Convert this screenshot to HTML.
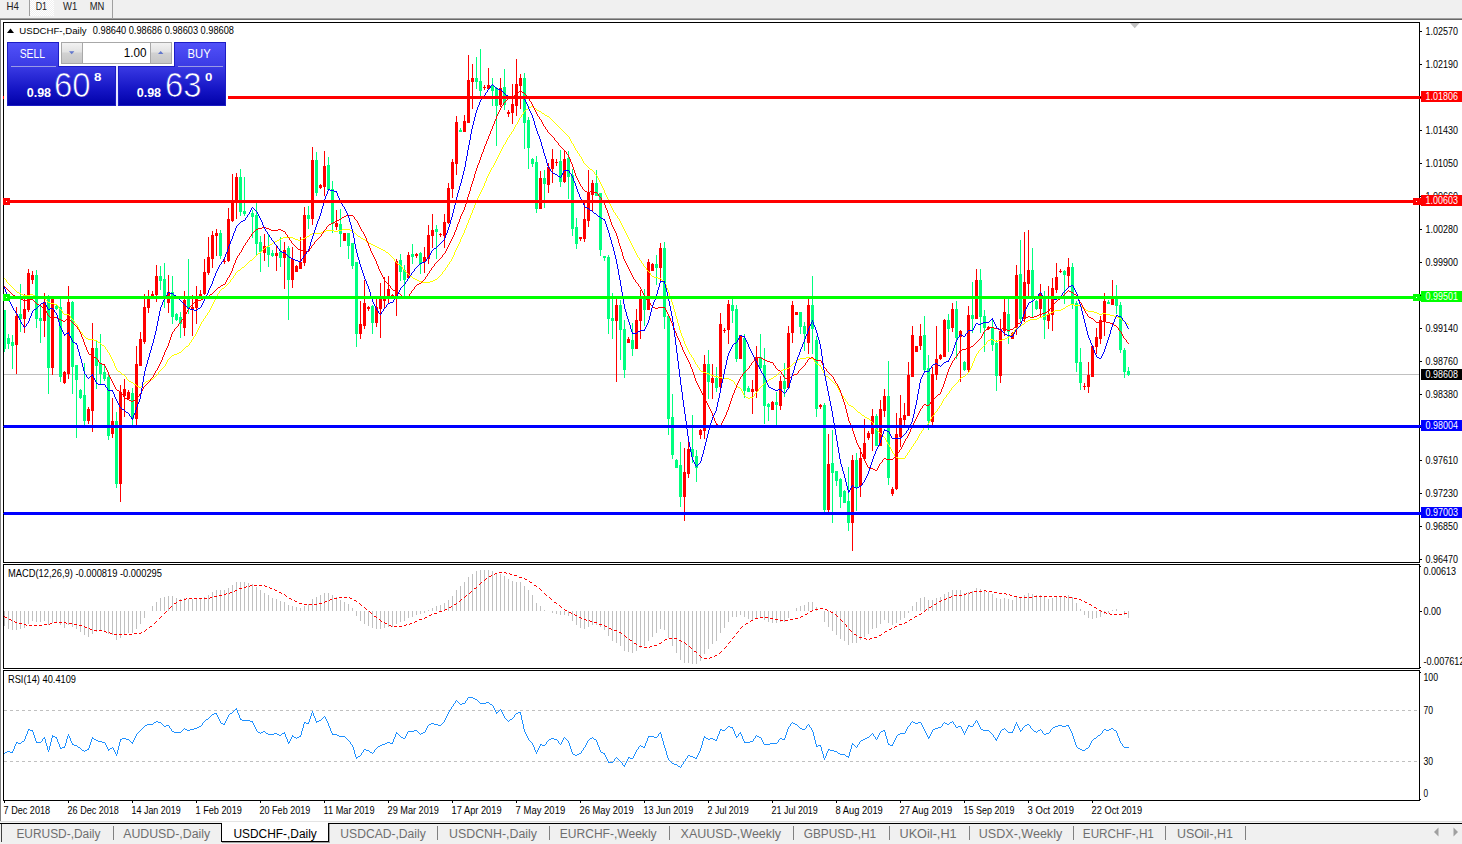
<!DOCTYPE html>
<html><head><meta charset="utf-8"><title>USDCHF-,Daily</title>
<style>
html,body{margin:0;padding:0;background:#fff;width:1462px;height:844px;overflow:hidden}
svg{display:block;position:absolute;left:0;top:0}
text{font-family:"Liberation Sans", sans-serif;white-space:pre}
</style></head><body>
<svg width="1462" height="844" viewBox="0 0 1462 844">
<defs>
<pattern id="chk" width="2" height="2" patternUnits="userSpaceOnUse"><rect width="2" height="2" fill="#f0f0f0"/><rect width="1" height="1" fill="#fff"/><rect x="1" y="1" width="1" height="1" fill="#fff"/></pattern>
<linearGradient id="gb" gradientUnits="userSpaceOnUse" x1="0" y1="42" x2="0" y2="106"><stop offset="0" stop-color="#5252fa"/><stop offset="0.38" stop-color="#3a3ae4"/><stop offset="0.75" stop-color="#1414c4"/><stop offset="1" stop-color="#0000a8"/></linearGradient>
<linearGradient id="gs" x1="0" y1="0" x2="0" y2="1"><stop offset="0" stop-color="#f2f2f2"/><stop offset="0.45" stop-color="#e2e2e2"/><stop offset="0.5" stop-color="#d2d2d2"/><stop offset="1" stop-color="#c6c6c6"/></linearGradient>
</defs>
<g shape-rendering="crispEdges">

<rect x="0" y="0" width="1462" height="18" fill="#f0f0f0" />
<rect x="30" y="0" width="24" height="16" fill="url(#chk)" />
<rect x="29" y="0" width="1" height="16" fill="#a0a0a0" />
<rect x="112" y="0" width="1" height="18" fill="#a0a0a0" />
<rect x="0" y="18" width="1462" height="1" fill="#a0a0a0" />
<rect x="0" y="19" width="1462" height="1" fill="#696969" />
<rect x="0" y="20" width="1" height="802" fill="#808080" />
</g>
<clipPath id="cm"><rect x="4" y="23" width="1415" height="539"/></clipPath>
<clipPath id="c2"><rect x="4" y="565" width="1415" height="103"/></clipPath>
<clipPath id="c3"><rect x="4" y="671" width="1415" height="129"/></clipPath>
<g clip-path="url(#cm)" shape-rendering="crispEdges">
<rect x="4" y="374" width="1415" height="1" fill="#c0c0c0" />
<rect x="4" y="310" width="1" height="42" fill="#00ff7f" />
<rect x="3" y="310" width="3" height="39" fill="#00ff7f" />
<rect x="8" y="334" width="1" height="15" fill="#00ff7f" />
<rect x="7" y="338" width="3" height="6" fill="#00ff7f" />
<rect x="12" y="335" width="1" height="34" fill="#00ff7f" />
<rect x="11" y="342" width="3" height="4" fill="#00ff7f" />
<rect x="16" y="307" width="1" height="67" fill="#ff0000" />
<rect x="15" y="316" width="3" height="29" fill="#ff0000" />
<rect x="20" y="284" width="1" height="48" fill="#00ff7f" />
<rect x="19" y="314" width="3" height="5" fill="#00ff7f" />
<rect x="24" y="294" width="1" height="39" fill="#ff0000" />
<rect x="23" y="309" width="3" height="10" fill="#ff0000" />
<rect x="28" y="269" width="1" height="43" fill="#ff0000" />
<rect x="27" y="273" width="3" height="37" fill="#ff0000" />
<rect x="32" y="271" width="1" height="13" fill="#ff0000" />
<rect x="31" y="275" width="3" height="5" fill="#ff0000" />
<rect x="36" y="270" width="1" height="58" fill="#00ff7f" />
<rect x="35" y="275" width="3" height="44" fill="#00ff7f" />
<rect x="40" y="304" width="1" height="39" fill="#00ff7f" />
<rect x="39" y="318" width="3" height="3" fill="#00ff7f" />
<rect x="44" y="293" width="1" height="44" fill="#ff0000" />
<rect x="43" y="302" width="3" height="19" fill="#ff0000" />
<rect x="48" y="295" width="1" height="99" fill="#00ff7f" />
<rect x="47" y="298" width="3" height="70" fill="#00ff7f" />
<rect x="52" y="296" width="1" height="79" fill="#ff0000" />
<rect x="51" y="299" width="3" height="69" fill="#ff0000" />
<rect x="56" y="305" width="1" height="5" fill="#00ff7f" />
<rect x="55" y="306" width="3" height="3" fill="#00ff7f" />
<rect x="60" y="298" width="1" height="84" fill="#00ff7f" />
<rect x="59" y="307" width="3" height="70" fill="#00ff7f" />
<rect x="64" y="371" width="1" height="13" fill="#ff0000" />
<rect x="63" y="372" width="3" height="11" fill="#ff0000" />
<rect x="68" y="286" width="1" height="93" fill="#ff0000" />
<rect x="67" y="302" width="3" height="72" fill="#ff0000" />
<rect x="72" y="301" width="1" height="93" fill="#00ff7f" />
<rect x="71" y="302" width="3" height="65" fill="#00ff7f" />
<rect x="76" y="365" width="1" height="73" fill="#00ff7f" />
<rect x="75" y="365" width="3" height="15" fill="#00ff7f" />
<rect x="80" y="389" width="1" height="10" fill="#00ff7f" />
<rect x="79" y="390" width="3" height="8" fill="#00ff7f" />
<rect x="84" y="363" width="1" height="63" fill="#00ff7f" />
<rect x="83" y="395" width="3" height="26" fill="#00ff7f" />
<rect x="88" y="407" width="1" height="17" fill="#ff0000" />
<rect x="87" y="409" width="3" height="12" fill="#ff0000" />
<rect x="92" y="323" width="1" height="109" fill="#ff0000" />
<rect x="91" y="348" width="3" height="63" fill="#ff0000" />
<rect x="96" y="341" width="1" height="48" fill="#00ff7f" />
<rect x="95" y="348" width="3" height="18" fill="#00ff7f" />
<rect x="100" y="334" width="1" height="50" fill="#00ff7f" />
<rect x="99" y="363" width="3" height="11" fill="#00ff7f" />
<rect x="104" y="365" width="1" height="16" fill="#00ff7f" />
<rect x="103" y="372" width="3" height="7" fill="#00ff7f" />
<rect x="108" y="375" width="1" height="65" fill="#00ff7f" />
<rect x="107" y="377" width="3" height="59" fill="#00ff7f" />
<rect x="112" y="398" width="1" height="40" fill="#ff0000" />
<rect x="111" y="421" width="3" height="13" fill="#ff0000" />
<rect x="116" y="412" width="1" height="76" fill="#00ff7f" />
<rect x="115" y="421" width="3" height="63" fill="#00ff7f" />
<rect x="120" y="385" width="1" height="117" fill="#ff0000" />
<rect x="119" y="392" width="3" height="92" fill="#ff0000" />
<rect x="124" y="379" width="1" height="38" fill="#ff0000" />
<rect x="123" y="389" width="3" height="7" fill="#ff0000" />
<rect x="128" y="390" width="1" height="10" fill="#ff0000" />
<rect x="127" y="392" width="3" height="7" fill="#ff0000" />
<rect x="132" y="388" width="1" height="38" fill="#00ff7f" />
<rect x="131" y="393" width="3" height="26" fill="#00ff7f" />
<rect x="136" y="346" width="1" height="80" fill="#ff0000" />
<rect x="135" y="364" width="3" height="55" fill="#ff0000" />
<rect x="140" y="332" width="1" height="34" fill="#ff0000" />
<rect x="139" y="339" width="3" height="27" fill="#ff0000" />
<rect x="144" y="294" width="1" height="50" fill="#ff0000" />
<rect x="143" y="307" width="3" height="35" fill="#ff0000" />
<rect x="148" y="290" width="1" height="23" fill="#ff0000" />
<rect x="147" y="296" width="3" height="12" fill="#ff0000" />
<rect x="152" y="291" width="1" height="8" fill="#ff0000" />
<rect x="151" y="294" width="3" height="3" fill="#ff0000" />
<rect x="156" y="265" width="1" height="37" fill="#ff0000" />
<rect x="155" y="276" width="3" height="19" fill="#ff0000" />
<rect x="160" y="266" width="1" height="24" fill="#00ff7f" />
<rect x="159" y="276" width="3" height="5" fill="#00ff7f" />
<rect x="164" y="263" width="1" height="45" fill="#00ff7f" />
<rect x="163" y="279" width="3" height="18" fill="#00ff7f" />
<rect x="168" y="275" width="1" height="38" fill="#ff0000" />
<rect x="167" y="292" width="3" height="11" fill="#ff0000" />
<rect x="172" y="276" width="1" height="48" fill="#00ff7f" />
<rect x="171" y="292" width="3" height="25" fill="#00ff7f" />
<rect x="176" y="313" width="1" height="8" fill="#00ff7f" />
<rect x="175" y="314" width="3" height="6" fill="#00ff7f" />
<rect x="180" y="312" width="1" height="26" fill="#00ff7f" />
<rect x="179" y="317" width="3" height="7" fill="#00ff7f" />
<rect x="184" y="291" width="1" height="45" fill="#ff0000" />
<rect x="183" y="300" width="3" height="28" fill="#ff0000" />
<rect x="188" y="259" width="1" height="55" fill="#00ff7f" />
<rect x="187" y="299" width="3" height="10" fill="#00ff7f" />
<rect x="192" y="295" width="1" height="41" fill="#ff0000" />
<rect x="191" y="307" width="3" height="3" fill="#ff0000" />
<rect x="196" y="286" width="1" height="38" fill="#ff0000" />
<rect x="195" y="299" width="3" height="9" fill="#ff0000" />
<rect x="200" y="290" width="1" height="9" fill="#ff0000" />
<rect x="199" y="294" width="3" height="2" fill="#ff0000" />
<rect x="204" y="259" width="1" height="36" fill="#ff0000" />
<rect x="203" y="272" width="3" height="22" fill="#ff0000" />
<rect x="208" y="237" width="1" height="38" fill="#ff0000" />
<rect x="207" y="257" width="3" height="16" fill="#ff0000" />
<rect x="212" y="231" width="1" height="37" fill="#ff0000" />
<rect x="211" y="235" width="3" height="24" fill="#ff0000" />
<rect x="216" y="229" width="1" height="27" fill="#ff0000" />
<rect x="215" y="233" width="3" height="3" fill="#ff0000" />
<rect x="220" y="230" width="1" height="29" fill="#00ff7f" />
<rect x="219" y="233" width="3" height="23" fill="#00ff7f" />
<rect x="224" y="258" width="1" height="6" fill="#ff0000" />
<rect x="223" y="261" width="3" height="1" fill="#ff0000" />
<rect x="228" y="208" width="1" height="54" fill="#ff0000" />
<rect x="227" y="219" width="3" height="42" fill="#ff0000" />
<rect x="232" y="174" width="1" height="48" fill="#ff0000" />
<rect x="231" y="201" width="3" height="20" fill="#ff0000" />
<rect x="236" y="173" width="1" height="46" fill="#ff0000" />
<rect x="235" y="177" width="3" height="24" fill="#ff0000" />
<rect x="240" y="169" width="1" height="47" fill="#00ff7f" />
<rect x="239" y="177" width="3" height="35" fill="#00ff7f" />
<rect x="244" y="177" width="1" height="39" fill="#00ff7f" />
<rect x="243" y="211" width="3" height="3" fill="#00ff7f" />
<rect x="252" y="210" width="1" height="28" fill="#00ff7f" />
<rect x="251" y="213" width="3" height="4" fill="#00ff7f" />
<rect x="256" y="203" width="1" height="52" fill="#00ff7f" />
<rect x="255" y="215" width="3" height="29" fill="#00ff7f" />
<rect x="260" y="236" width="1" height="36" fill="#00ff7f" />
<rect x="259" y="242" width="3" height="10" fill="#00ff7f" />
<rect x="264" y="234" width="1" height="27" fill="#ff0000" />
<rect x="263" y="246" width="3" height="7" fill="#ff0000" />
<rect x="268" y="235" width="1" height="32" fill="#00ff7f" />
<rect x="267" y="247" width="3" height="8" fill="#00ff7f" />
<rect x="272" y="250" width="1" height="7" fill="#00ff7f" />
<rect x="271" y="253" width="3" height="3" fill="#00ff7f" />
<rect x="276" y="246" width="1" height="25" fill="#ff0000" />
<rect x="275" y="253" width="3" height="3" fill="#ff0000" />
<rect x="280" y="237" width="1" height="30" fill="#00ff7f" />
<rect x="279" y="252" width="3" height="6" fill="#00ff7f" />
<rect x="284" y="242" width="1" height="47" fill="#ff0000" />
<rect x="283" y="250" width="3" height="8" fill="#ff0000" />
<rect x="288" y="246" width="1" height="74" fill="#00ff7f" />
<rect x="287" y="248" width="3" height="32" fill="#00ff7f" />
<rect x="292" y="247" width="1" height="41" fill="#ff0000" />
<rect x="291" y="259" width="3" height="21" fill="#ff0000" />
<rect x="296" y="265" width="1" height="7" fill="#ff0000" />
<rect x="295" y="266" width="3" height="6" fill="#ff0000" />
<rect x="300" y="237" width="1" height="32" fill="#ff0000" />
<rect x="299" y="262" width="3" height="7" fill="#ff0000" />
<rect x="304" y="207" width="1" height="59" fill="#ff0000" />
<rect x="303" y="215" width="3" height="48" fill="#ff0000" />
<rect x="308" y="206" width="1" height="23" fill="#00ff7f" />
<rect x="307" y="215" width="3" height="4" fill="#00ff7f" />
<rect x="312" y="147" width="1" height="78" fill="#ff0000" />
<rect x="311" y="160" width="3" height="59" fill="#ff0000" />
<rect x="316" y="152" width="1" height="44" fill="#00ff7f" />
<rect x="315" y="160" width="3" height="33" fill="#00ff7f" />
<rect x="320" y="184" width="1" height="5" fill="#ff0000" />
<rect x="319" y="185" width="3" height="3" fill="#ff0000" />
<rect x="324" y="151" width="1" height="45" fill="#ff0000" />
<rect x="323" y="166" width="3" height="21" fill="#ff0000" />
<rect x="328" y="157" width="1" height="34" fill="#00ff7f" />
<rect x="327" y="165" width="3" height="25" fill="#00ff7f" />
<rect x="332" y="181" width="1" height="52" fill="#00ff7f" />
<rect x="331" y="189" width="3" height="35" fill="#00ff7f" />
<rect x="336" y="210" width="1" height="20" fill="#ff0000" />
<rect x="335" y="223" width="3" height="4" fill="#ff0000" />
<rect x="340" y="209" width="1" height="38" fill="#00ff7f" />
<rect x="339" y="224" width="3" height="10" fill="#00ff7f" />
<rect x="344" y="233" width="1" height="8" fill="#ff0000" />
<rect x="343" y="233" width="3" height="8" fill="#ff0000" />
<rect x="348" y="233" width="1" height="26" fill="#00ff7f" />
<rect x="347" y="233" width="3" height="13" fill="#00ff7f" />
<rect x="352" y="243" width="1" height="26" fill="#00ff7f" />
<rect x="351" y="243" width="3" height="23" fill="#00ff7f" />
<rect x="356" y="262" width="1" height="85" fill="#00ff7f" />
<rect x="355" y="262" width="3" height="72" fill="#00ff7f" />
<rect x="360" y="301" width="1" height="38" fill="#ff0000" />
<rect x="359" y="324" width="3" height="10" fill="#ff0000" />
<rect x="364" y="280" width="1" height="49" fill="#ff0000" />
<rect x="363" y="303" width="3" height="23" fill="#ff0000" />
<rect x="368" y="306" width="1" height="5" fill="#ff0000" />
<rect x="367" y="307" width="3" height="2" fill="#ff0000" />
<rect x="372" y="305" width="1" height="29" fill="#00ff7f" />
<rect x="371" y="306" width="3" height="17" fill="#00ff7f" />
<rect x="376" y="299" width="1" height="28" fill="#ff0000" />
<rect x="375" y="307" width="3" height="16" fill="#ff0000" />
<rect x="380" y="283" width="1" height="55" fill="#ff0000" />
<rect x="379" y="299" width="3" height="10" fill="#ff0000" />
<rect x="384" y="277" width="1" height="32" fill="#ff0000" />
<rect x="383" y="297" width="3" height="4" fill="#ff0000" />
<rect x="388" y="276" width="1" height="28" fill="#ff0000" />
<rect x="387" y="289" width="3" height="9" fill="#ff0000" />
<rect x="392" y="294" width="1" height="4" fill="#ff0000" />
<rect x="391" y="295" width="3" height="2" fill="#ff0000" />
<rect x="396" y="259" width="1" height="57" fill="#ff0000" />
<rect x="395" y="261" width="3" height="36" fill="#ff0000" />
<rect x="400" y="254" width="1" height="27" fill="#00ff7f" />
<rect x="399" y="260" width="3" height="12" fill="#00ff7f" />
<rect x="404" y="265" width="1" height="31" fill="#00ff7f" />
<rect x="403" y="270" width="3" height="10" fill="#00ff7f" />
<rect x="408" y="252" width="1" height="26" fill="#ff0000" />
<rect x="407" y="255" width="3" height="23" fill="#ff0000" />
<rect x="412" y="244" width="1" height="20" fill="#00ff7f" />
<rect x="411" y="254" width="3" height="3" fill="#00ff7f" />
<rect x="416" y="253" width="1" height="5" fill="#ff0000" />
<rect x="415" y="254" width="3" height="2" fill="#ff0000" />
<rect x="420" y="252" width="1" height="22" fill="#00ff7f" />
<rect x="419" y="253" width="3" height="11" fill="#00ff7f" />
<rect x="424" y="247" width="1" height="26" fill="#ff0000" />
<rect x="423" y="257" width="3" height="5" fill="#ff0000" />
<rect x="428" y="225" width="1" height="39" fill="#ff0000" />
<rect x="427" y="235" width="3" height="24" fill="#ff0000" />
<rect x="432" y="214" width="1" height="34" fill="#ff0000" />
<rect x="431" y="230" width="3" height="6" fill="#ff0000" />
<rect x="436" y="225" width="1" height="34" fill="#00ff7f" />
<rect x="435" y="229" width="3" height="3" fill="#00ff7f" />
<rect x="440" y="233" width="1" height="4" fill="#ff0000" />
<rect x="439" y="234" width="3" height="1" fill="#ff0000" />
<rect x="444" y="214" width="1" height="34" fill="#ff0000" />
<rect x="443" y="222" width="3" height="14" fill="#ff0000" />
<rect x="448" y="183" width="1" height="41" fill="#ff0000" />
<rect x="447" y="188" width="3" height="35" fill="#ff0000" />
<rect x="452" y="159" width="1" height="39" fill="#ff0000" />
<rect x="451" y="162" width="3" height="27" fill="#ff0000" />
<rect x="456" y="116" width="1" height="59" fill="#ff0000" />
<rect x="455" y="122" width="3" height="42" fill="#ff0000" />
<rect x="460" y="128" width="1" height="4" fill="#00ff7f" />
<rect x="459" y="130" width="3" height="2" fill="#00ff7f" />
<rect x="464" y="115" width="1" height="17" fill="#ff0000" />
<rect x="463" y="121" width="3" height="11" fill="#ff0000" />
<rect x="468" y="55" width="1" height="68" fill="#ff0000" />
<rect x="467" y="80" width="3" height="43" fill="#ff0000" />
<rect x="472" y="64" width="1" height="45" fill="#ff0000" />
<rect x="471" y="78" width="3" height="4" fill="#ff0000" />
<rect x="476" y="57" width="1" height="32" fill="#00ff7f" />
<rect x="475" y="78" width="3" height="4" fill="#00ff7f" />
<rect x="480" y="49" width="1" height="47" fill="#00ff7f" />
<rect x="479" y="81" width="3" height="10" fill="#00ff7f" />
<rect x="484" y="85" width="1" height="5" fill="#ff0000" />
<rect x="483" y="87" width="3" height="1" fill="#ff0000" />
<rect x="488" y="68" width="1" height="22" fill="#ff0000" />
<rect x="487" y="85" width="3" height="4" fill="#ff0000" />
<rect x="492" y="78" width="1" height="28" fill="#00ff7f" />
<rect x="491" y="85" width="3" height="6" fill="#00ff7f" />
<rect x="496" y="87" width="1" height="59" fill="#00ff7f" />
<rect x="495" y="88" width="3" height="18" fill="#00ff7f" />
<rect x="500" y="78" width="1" height="29" fill="#ff0000" />
<rect x="499" y="88" width="3" height="17" fill="#ff0000" />
<rect x="504" y="69" width="1" height="41" fill="#00ff7f" />
<rect x="503" y="87" width="3" height="18" fill="#00ff7f" />
<rect x="508" y="110" width="1" height="7" fill="#ff0000" />
<rect x="507" y="112" width="3" height="2" fill="#ff0000" />
<rect x="512" y="84" width="1" height="40" fill="#ff0000" />
<rect x="511" y="104" width="3" height="9" fill="#ff0000" />
<rect x="516" y="59" width="1" height="57" fill="#ff0000" />
<rect x="515" y="84" width="3" height="22" fill="#ff0000" />
<rect x="520" y="74" width="1" height="35" fill="#ff0000" />
<rect x="519" y="78" width="3" height="8" fill="#ff0000" />
<rect x="524" y="73" width="1" height="76" fill="#00ff7f" />
<rect x="523" y="78" width="3" height="45" fill="#00ff7f" />
<rect x="528" y="117" width="1" height="52" fill="#00ff7f" />
<rect x="527" y="120" width="3" height="28" fill="#00ff7f" />
<rect x="532" y="158" width="1" height="9" fill="#00ff7f" />
<rect x="531" y="159" width="3" height="5" fill="#00ff7f" />
<rect x="536" y="156" width="1" height="57" fill="#00ff7f" />
<rect x="535" y="162" width="3" height="47" fill="#00ff7f" />
<rect x="540" y="171" width="1" height="38" fill="#ff0000" />
<rect x="539" y="178" width="3" height="31" fill="#ff0000" />
<rect x="544" y="170" width="1" height="38" fill="#00ff7f" />
<rect x="543" y="178" width="3" height="6" fill="#00ff7f" />
<rect x="548" y="163" width="1" height="30" fill="#ff0000" />
<rect x="547" y="167" width="3" height="18" fill="#ff0000" />
<rect x="552" y="149" width="1" height="34" fill="#ff0000" />
<rect x="551" y="159" width="3" height="10" fill="#ff0000" />
<rect x="556" y="159" width="1" height="7" fill="#ff0000" />
<rect x="555" y="162" width="3" height="1" fill="#ff0000" />
<rect x="560" y="150" width="1" height="37" fill="#00ff7f" />
<rect x="559" y="161" width="3" height="21" fill="#00ff7f" />
<rect x="564" y="151" width="1" height="32" fill="#ff0000" />
<rect x="563" y="159" width="3" height="23" fill="#ff0000" />
<rect x="568" y="151" width="1" height="48" fill="#00ff7f" />
<rect x="567" y="158" width="3" height="19" fill="#00ff7f" />
<rect x="572" y="169" width="1" height="67" fill="#00ff7f" />
<rect x="571" y="175" width="3" height="54" fill="#00ff7f" />
<rect x="576" y="218" width="1" height="31" fill="#00ff7f" />
<rect x="575" y="227" width="3" height="17" fill="#00ff7f" />
<rect x="580" y="237" width="1" height="4" fill="#ff0000" />
<rect x="579" y="237" width="3" height="2" fill="#ff0000" />
<rect x="584" y="203" width="1" height="39" fill="#ff0000" />
<rect x="583" y="219" width="3" height="20" fill="#ff0000" />
<rect x="588" y="170" width="1" height="57" fill="#ff0000" />
<rect x="587" y="193" width="3" height="28" fill="#ff0000" />
<rect x="592" y="180" width="1" height="32" fill="#ff0000" />
<rect x="591" y="183" width="3" height="12" fill="#ff0000" />
<rect x="596" y="170" width="1" height="26" fill="#00ff7f" />
<rect x="595" y="183" width="3" height="13" fill="#00ff7f" />
<rect x="600" y="193" width="1" height="63" fill="#00ff7f" />
<rect x="599" y="193" width="3" height="57" fill="#00ff7f" />
<rect x="604" y="256" width="1" height="5" fill="#00ff7f" />
<rect x="603" y="256" width="3" height="2" fill="#00ff7f" />
<rect x="608" y="255" width="1" height="79" fill="#00ff7f" />
<rect x="607" y="257" width="3" height="62" fill="#00ff7f" />
<rect x="612" y="293" width="1" height="46" fill="#00ff7f" />
<rect x="611" y="318" width="3" height="3" fill="#00ff7f" />
<rect x="616" y="299" width="1" height="83" fill="#ff0000" />
<rect x="615" y="305" width="3" height="16" fill="#ff0000" />
<rect x="620" y="300" width="1" height="60" fill="#00ff7f" />
<rect x="619" y="305" width="3" height="25" fill="#00ff7f" />
<rect x="624" y="320" width="1" height="58" fill="#00ff7f" />
<rect x="623" y="329" width="3" height="41" fill="#00ff7f" />
<rect x="628" y="337" width="1" height="6" fill="#ff0000" />
<rect x="627" y="339" width="3" height="4" fill="#ff0000" />
<rect x="632" y="323" width="1" height="33" fill="#00ff7f" />
<rect x="631" y="340" width="3" height="9" fill="#00ff7f" />
<rect x="636" y="309" width="1" height="40" fill="#ff0000" />
<rect x="635" y="320" width="3" height="29" fill="#ff0000" />
<rect x="640" y="290" width="1" height="49" fill="#ff0000" />
<rect x="639" y="298" width="3" height="23" fill="#ff0000" />
<rect x="644" y="289" width="1" height="37" fill="#00ff7f" />
<rect x="643" y="298" width="3" height="12" fill="#00ff7f" />
<rect x="648" y="259" width="1" height="51" fill="#ff0000" />
<rect x="647" y="262" width="3" height="48" fill="#ff0000" />
<rect x="652" y="263" width="1" height="8" fill="#ff0000" />
<rect x="651" y="264" width="3" height="7" fill="#ff0000" />
<rect x="656" y="255" width="1" height="30" fill="#00ff7f" />
<rect x="655" y="264" width="3" height="4" fill="#00ff7f" />
<rect x="660" y="243" width="1" height="40" fill="#ff0000" />
<rect x="659" y="248" width="3" height="20" fill="#ff0000" />
<rect x="664" y="242" width="1" height="87" fill="#00ff7f" />
<rect x="663" y="248" width="3" height="69" fill="#00ff7f" />
<rect x="668" y="316" width="1" height="119" fill="#00ff7f" />
<rect x="667" y="316" width="3" height="103" fill="#00ff7f" />
<rect x="672" y="394" width="1" height="65" fill="#00ff7f" />
<rect x="671" y="417" width="3" height="38" fill="#00ff7f" />
<rect x="676" y="459" width="1" height="9" fill="#00ff7f" />
<rect x="675" y="460" width="3" height="8" fill="#00ff7f" />
<rect x="680" y="442" width="1" height="65" fill="#00ff7f" />
<rect x="679" y="465" width="3" height="32" fill="#00ff7f" />
<rect x="684" y="448" width="1" height="73" fill="#ff0000" />
<rect x="683" y="472" width="3" height="25" fill="#ff0000" />
<rect x="688" y="441" width="1" height="37" fill="#ff0000" />
<rect x="687" y="449" width="3" height="25" fill="#ff0000" />
<rect x="692" y="415" width="1" height="48" fill="#00ff7f" />
<rect x="691" y="449" width="3" height="8" fill="#00ff7f" />
<rect x="696" y="450" width="1" height="32" fill="#00ff7f" />
<rect x="695" y="456" width="3" height="12" fill="#00ff7f" />
<rect x="700" y="429" width="1" height="10" fill="#ff0000" />
<rect x="699" y="430" width="3" height="5" fill="#ff0000" />
<rect x="704" y="355" width="1" height="84" fill="#ff0000" />
<rect x="703" y="364" width="3" height="67" fill="#ff0000" />
<rect x="708" y="350" width="1" height="49" fill="#00ff7f" />
<rect x="707" y="364" width="3" height="18" fill="#00ff7f" />
<rect x="712" y="364" width="1" height="35" fill="#ff0000" />
<rect x="711" y="378" width="3" height="5" fill="#ff0000" />
<rect x="716" y="367" width="1" height="25" fill="#00ff7f" />
<rect x="715" y="378" width="3" height="10" fill="#00ff7f" />
<rect x="720" y="313" width="1" height="75" fill="#ff0000" />
<rect x="719" y="324" width="3" height="63" fill="#ff0000" />
<rect x="724" y="328" width="1" height="5" fill="#ff0000" />
<rect x="723" y="330" width="3" height="1" fill="#ff0000" />
<rect x="728" y="300" width="1" height="44" fill="#ff0000" />
<rect x="727" y="304" width="3" height="26" fill="#ff0000" />
<rect x="732" y="299" width="1" height="24" fill="#00ff7f" />
<rect x="731" y="305" width="3" height="6" fill="#00ff7f" />
<rect x="736" y="305" width="1" height="57" fill="#00ff7f" />
<rect x="735" y="309" width="3" height="50" fill="#00ff7f" />
<rect x="740" y="335" width="1" height="24" fill="#ff0000" />
<rect x="739" y="335" width="3" height="24" fill="#ff0000" />
<rect x="744" y="334" width="1" height="64" fill="#00ff7f" />
<rect x="743" y="338" width="3" height="53" fill="#00ff7f" />
<rect x="748" y="386" width="1" height="6" fill="#00ff7f" />
<rect x="747" y="388" width="3" height="4" fill="#00ff7f" />
<rect x="752" y="380" width="1" height="34" fill="#ff0000" />
<rect x="751" y="389" width="3" height="3" fill="#ff0000" />
<rect x="756" y="346" width="1" height="52" fill="#ff0000" />
<rect x="755" y="357" width="3" height="34" fill="#ff0000" />
<rect x="760" y="334" width="1" height="35" fill="#00ff7f" />
<rect x="759" y="357" width="3" height="11" fill="#00ff7f" />
<rect x="764" y="348" width="1" height="76" fill="#00ff7f" />
<rect x="763" y="365" width="3" height="41" fill="#00ff7f" />
<rect x="768" y="403" width="1" height="18" fill="#00ff7f" />
<rect x="767" y="404" width="3" height="3" fill="#00ff7f" />
<rect x="772" y="401" width="1" height="9" fill="#ff0000" />
<rect x="771" y="402" width="3" height="8" fill="#ff0000" />
<rect x="776" y="392" width="1" height="33" fill="#00ff7f" />
<rect x="775" y="402" width="3" height="3" fill="#00ff7f" />
<rect x="780" y="376" width="1" height="34" fill="#ff0000" />
<rect x="779" y="381" width="3" height="25" fill="#ff0000" />
<rect x="784" y="363" width="1" height="34" fill="#00ff7f" />
<rect x="783" y="381" width="3" height="8" fill="#00ff7f" />
<rect x="788" y="326" width="1" height="62" fill="#ff0000" />
<rect x="787" y="333" width="3" height="55" fill="#ff0000" />
<rect x="792" y="301" width="1" height="42" fill="#ff0000" />
<rect x="791" y="305" width="3" height="28" fill="#ff0000" />
<rect x="796" y="312" width="1" height="3" fill="#ff0000" />
<rect x="795" y="312" width="3" height="3" fill="#ff0000" />
<rect x="800" y="312" width="1" height="22" fill="#00ff7f" />
<rect x="799" y="312" width="3" height="15" fill="#00ff7f" />
<rect x="804" y="322" width="1" height="29" fill="#00ff7f" />
<rect x="803" y="326" width="3" height="8" fill="#00ff7f" />
<rect x="808" y="298" width="1" height="56" fill="#ff0000" />
<rect x="807" y="305" width="3" height="38" fill="#ff0000" />
<rect x="812" y="276" width="1" height="78" fill="#00ff7f" />
<rect x="811" y="305" width="3" height="24" fill="#00ff7f" />
<rect x="816" y="336" width="1" height="81" fill="#00ff7f" />
<rect x="815" y="340" width="3" height="69" fill="#00ff7f" />
<rect x="820" y="404" width="1" height="5" fill="#ff0000" />
<rect x="819" y="405" width="3" height="2" fill="#ff0000" />
<rect x="824" y="403" width="1" height="110" fill="#00ff7f" />
<rect x="823" y="405" width="3" height="105" fill="#00ff7f" />
<rect x="828" y="434" width="1" height="78" fill="#ff0000" />
<rect x="827" y="464" width="3" height="46" fill="#ff0000" />
<rect x="832" y="430" width="1" height="93" fill="#00ff7f" />
<rect x="831" y="463" width="3" height="10" fill="#00ff7f" />
<rect x="836" y="471" width="1" height="15" fill="#00ff7f" />
<rect x="835" y="471" width="3" height="10" fill="#00ff7f" />
<rect x="840" y="478" width="1" height="30" fill="#00ff7f" />
<rect x="839" y="479" width="3" height="18" fill="#00ff7f" />
<rect x="844" y="490" width="1" height="13" fill="#00ff7f" />
<rect x="843" y="491" width="3" height="12" fill="#00ff7f" />
<rect x="848" y="467" width="1" height="64" fill="#00ff7f" />
<rect x="847" y="501" width="3" height="22" fill="#00ff7f" />
<rect x="852" y="455" width="1" height="96" fill="#ff0000" />
<rect x="851" y="460" width="3" height="63" fill="#ff0000" />
<rect x="856" y="453" width="1" height="58" fill="#00ff7f" />
<rect x="855" y="460" width="3" height="27" fill="#00ff7f" />
<rect x="860" y="448" width="1" height="49" fill="#ff0000" />
<rect x="859" y="458" width="3" height="28" fill="#ff0000" />
<rect x="864" y="419" width="1" height="41" fill="#ff0000" />
<rect x="863" y="443" width="3" height="16" fill="#ff0000" />
<rect x="868" y="431" width="1" height="9" fill="#ff0000" />
<rect x="867" y="433" width="3" height="5" fill="#ff0000" />
<rect x="872" y="409" width="1" height="42" fill="#ff0000" />
<rect x="871" y="416" width="3" height="18" fill="#ff0000" />
<rect x="876" y="414" width="1" height="32" fill="#00ff7f" />
<rect x="875" y="416" width="3" height="30" fill="#00ff7f" />
<rect x="880" y="400" width="1" height="46" fill="#ff0000" />
<rect x="879" y="409" width="3" height="37" fill="#ff0000" />
<rect x="884" y="389" width="1" height="28" fill="#ff0000" />
<rect x="883" y="396" width="3" height="15" fill="#ff0000" />
<rect x="888" y="361" width="1" height="124" fill="#00ff7f" />
<rect x="887" y="396" width="3" height="82" fill="#00ff7f" />
<rect x="892" y="487" width="1" height="9" fill="#ff0000" />
<rect x="891" y="489" width="3" height="5" fill="#ff0000" />
<rect x="896" y="413" width="1" height="77" fill="#ff0000" />
<rect x="895" y="434" width="3" height="55" fill="#ff0000" />
<rect x="900" y="395" width="1" height="52" fill="#ff0000" />
<rect x="899" y="418" width="3" height="19" fill="#ff0000" />
<rect x="904" y="403" width="1" height="22" fill="#ff0000" />
<rect x="903" y="415" width="3" height="5" fill="#ff0000" />
<rect x="908" y="362" width="1" height="54" fill="#ff0000" />
<rect x="907" y="375" width="3" height="41" fill="#ff0000" />
<rect x="912" y="326" width="1" height="51" fill="#ff0000" />
<rect x="911" y="335" width="3" height="42" fill="#ff0000" />
<rect x="916" y="346" width="1" height="6" fill="#ff0000" />
<rect x="915" y="346" width="3" height="6" fill="#ff0000" />
<rect x="920" y="324" width="1" height="26" fill="#ff0000" />
<rect x="919" y="336" width="3" height="10" fill="#ff0000" />
<rect x="924" y="316" width="1" height="55" fill="#00ff7f" />
<rect x="923" y="335" width="3" height="35" fill="#00ff7f" />
<rect x="928" y="355" width="1" height="75" fill="#00ff7f" />
<rect x="927" y="368" width="3" height="53" fill="#00ff7f" />
<rect x="932" y="367" width="1" height="58" fill="#ff0000" />
<rect x="931" y="374" width="3" height="48" fill="#ff0000" />
<rect x="936" y="326" width="1" height="54" fill="#ff0000" />
<rect x="935" y="359" width="3" height="16" fill="#ff0000" />
<rect x="940" y="354" width="1" height="6" fill="#ff0000" />
<rect x="939" y="355" width="3" height="4" fill="#ff0000" />
<rect x="944" y="319" width="1" height="38" fill="#ff0000" />
<rect x="943" y="320" width="3" height="37" fill="#ff0000" />
<rect x="948" y="314" width="1" height="38" fill="#00ff7f" />
<rect x="947" y="320" width="3" height="9" fill="#00ff7f" />
<rect x="952" y="303" width="1" height="29" fill="#ff0000" />
<rect x="951" y="309" width="3" height="19" fill="#ff0000" />
<rect x="956" y="301" width="1" height="58" fill="#00ff7f" />
<rect x="955" y="309" width="3" height="29" fill="#00ff7f" />
<rect x="960" y="330" width="1" height="52" fill="#ff0000" />
<rect x="959" y="331" width="3" height="6" fill="#ff0000" />
<rect x="964" y="361" width="1" height="10" fill="#00ff7f" />
<rect x="963" y="362" width="3" height="8" fill="#00ff7f" />
<rect x="968" y="306" width="1" height="67" fill="#ff0000" />
<rect x="967" y="315" width="3" height="55" fill="#ff0000" />
<rect x="972" y="282" width="1" height="51" fill="#00ff7f" />
<rect x="971" y="315" width="3" height="4" fill="#00ff7f" />
<rect x="976" y="269" width="1" height="50" fill="#ff0000" />
<rect x="975" y="280" width="3" height="39" fill="#ff0000" />
<rect x="980" y="269" width="1" height="64" fill="#00ff7f" />
<rect x="979" y="280" width="3" height="37" fill="#00ff7f" />
<rect x="984" y="310" width="1" height="42" fill="#00ff7f" />
<rect x="983" y="316" width="3" height="12" fill="#00ff7f" />
<rect x="988" y="326" width="1" height="4" fill="#ff0000" />
<rect x="987" y="327" width="3" height="2" fill="#ff0000" />
<rect x="992" y="320" width="1" height="31" fill="#00ff7f" />
<rect x="991" y="328" width="3" height="17" fill="#00ff7f" />
<rect x="996" y="340" width="1" height="51" fill="#00ff7f" />
<rect x="995" y="343" width="3" height="33" fill="#00ff7f" />
<rect x="1000" y="319" width="1" height="64" fill="#ff0000" />
<rect x="999" y="331" width="3" height="45" fill="#ff0000" />
<rect x="1004" y="299" width="1" height="37" fill="#ff0000" />
<rect x="1003" y="312" width="3" height="19" fill="#ff0000" />
<rect x="1008" y="298" width="1" height="46" fill="#00ff7f" />
<rect x="1007" y="314" width="3" height="18" fill="#00ff7f" />
<rect x="1012" y="332" width="1" height="7" fill="#ff0000" />
<rect x="1011" y="333" width="3" height="6" fill="#ff0000" />
<rect x="1016" y="265" width="1" height="70" fill="#ff0000" />
<rect x="1015" y="275" width="3" height="53" fill="#ff0000" />
<rect x="1020" y="240" width="1" height="83" fill="#00ff7f" />
<rect x="1019" y="274" width="3" height="45" fill="#00ff7f" />
<rect x="1024" y="232" width="1" height="90" fill="#ff0000" />
<rect x="1023" y="282" width="3" height="37" fill="#ff0000" />
<rect x="1028" y="230" width="1" height="68" fill="#ff0000" />
<rect x="1027" y="270" width="3" height="14" fill="#ff0000" />
<rect x="1032" y="248" width="1" height="70" fill="#00ff7f" />
<rect x="1031" y="270" width="3" height="27" fill="#00ff7f" />
<rect x="1036" y="300" width="1" height="10" fill="#00ff7f" />
<rect x="1035" y="301" width="3" height="8" fill="#00ff7f" />
<rect x="1040" y="284" width="1" height="33" fill="#ff0000" />
<rect x="1039" y="294" width="3" height="15" fill="#ff0000" />
<rect x="1044" y="291" width="1" height="48" fill="#00ff7f" />
<rect x="1043" y="299" width="3" height="21" fill="#00ff7f" />
<rect x="1048" y="286" width="1" height="43" fill="#ff0000" />
<rect x="1047" y="314" width="3" height="7" fill="#ff0000" />
<rect x="1052" y="278" width="1" height="53" fill="#ff0000" />
<rect x="1051" y="288" width="3" height="27" fill="#ff0000" />
<rect x="1056" y="263" width="1" height="30" fill="#ff0000" />
<rect x="1055" y="277" width="3" height="13" fill="#ff0000" />
<rect x="1060" y="269" width="1" height="4" fill="#ff0000" />
<rect x="1059" y="271" width="3" height="1" fill="#ff0000" />
<rect x="1064" y="270" width="1" height="34" fill="#00ff7f" />
<rect x="1063" y="271" width="3" height="4" fill="#00ff7f" />
<rect x="1068" y="258" width="1" height="30" fill="#ff0000" />
<rect x="1067" y="267" width="3" height="9" fill="#ff0000" />
<rect x="1072" y="263" width="1" height="46" fill="#00ff7f" />
<rect x="1071" y="267" width="3" height="37" fill="#00ff7f" />
<rect x="1076" y="301" width="1" height="71" fill="#00ff7f" />
<rect x="1075" y="303" width="3" height="60" fill="#00ff7f" />
<rect x="1080" y="348" width="1" height="42" fill="#00ff7f" />
<rect x="1079" y="362" width="3" height="21" fill="#00ff7f" />
<rect x="1084" y="383" width="1" height="7" fill="#ff0000" />
<rect x="1083" y="386" width="3" height="1" fill="#ff0000" />
<rect x="1088" y="362" width="1" height="31" fill="#ff0000" />
<rect x="1087" y="375" width="3" height="12" fill="#ff0000" />
<rect x="1092" y="346" width="1" height="31" fill="#ff0000" />
<rect x="1091" y="346" width="3" height="31" fill="#ff0000" />
<rect x="1096" y="328" width="1" height="26" fill="#ff0000" />
<rect x="1095" y="337" width="3" height="10" fill="#ff0000" />
<rect x="1100" y="316" width="1" height="28" fill="#ff0000" />
<rect x="1099" y="320" width="3" height="19" fill="#ff0000" />
<rect x="1104" y="293" width="1" height="43" fill="#ff0000" />
<rect x="1103" y="301" width="3" height="21" fill="#ff0000" />
<rect x="1108" y="300" width="1" height="4" fill="#00ff7f" />
<rect x="1107" y="302" width="3" height="2" fill="#00ff7f" />
<rect x="1112" y="280" width="1" height="25" fill="#ff0000" />
<rect x="1111" y="296" width="3" height="9" fill="#ff0000" />
<rect x="1116" y="285" width="1" height="29" fill="#00ff7f" />
<rect x="1115" y="298" width="3" height="8" fill="#00ff7f" />
<rect x="1120" y="302" width="1" height="51" fill="#00ff7f" />
<rect x="1119" y="305" width="3" height="45" fill="#00ff7f" />
<rect x="1124" y="348" width="1" height="30" fill="#00ff7f" />
<rect x="1123" y="350" width="3" height="22" fill="#00ff7f" />
<rect x="1128" y="367" width="1" height="9" fill="#00ff7f" />
<rect x="1127" y="371" width="3" height="4" fill="#00ff7f" />
</g>
<g clip-path="url(#cm)">
<path d="M4 278h1v1h-1zM5 279h1v1h-1zM6 280h1v2h-1zM7 282h1v1h-1zM8 283h1v1h-1zM9 284h1v1h-1zM10 285h1v1h-1zM11 286h1v1h-1zM12 287h1v1h-1zM13 288h1v1h-1zM14 289h1v1h-1zM15 290h1v1h-1zM16 291h1v1h-1zM17 292h1v1h-1zM18 292h1v1h-1zM19 293h1v1h-1zM20 293h1v1h-1zM21 294h1v1h-1zM22 294h1v1h-1zM23 295h1v1h-1zM24 295h1v1h-1zM25 295h1v1h-1zM26 295h1v1h-1zM27 295h1v1h-1zM28 295h1v1h-1zM29 295h1v1h-1zM30 294h1v1h-1zM31 294h1v1h-1zM32 294h1v1h-1zM33 295h1v1h-1zM34 295h1v1h-1zM35 296h1v1h-1zM36 296h1v1h-1zM37 296h1v1h-1zM38 297h1v1h-1zM39 297h1v1h-1zM40 297h1v1h-1zM41 297h1v1h-1zM42 298h1v1h-1zM43 298h1v1h-1zM44 298h1v1h-1zM45 299h1v1h-1zM46 300h1v1h-1zM47 301h1v1h-1zM48 302h1v1h-1zM49 302h1v1h-1zM50 303h1v1h-1zM51 303h1v1h-1zM52 303h1v1h-1zM53 303h1v1h-1zM54 304h1v1h-1zM55 304h1v1h-1zM56 304h1v1h-1zM57 305h1v1h-1zM58 306h1v2h-1zM59 308h1v1h-1zM60 309h1v1h-1zM61 310h1v1h-1zM62 311h1v2h-1zM63 313h1v1h-1zM64 314h1v1h-1zM65 314h1v1h-1zM66 314h1v1h-1zM67 314h1v1h-1zM68 314h1v1h-1zM69 315h1v1h-1zM70 316h1v2h-1zM71 318h1v1h-1zM72 319h1v1h-1zM73 320h1v1h-1zM74 321h1v2h-1zM75 323h1v1h-1zM76 324h1v1h-1zM77 325h1v2h-1zM78 327h1v2h-1zM79 329h1v2h-1zM80 331h1v1h-1zM81 332h1v1h-1zM82 333h1v2h-1zM83 335h1v1h-1zM84 336h1v1h-1zM85 337h1v1h-1zM86 338h1v1h-1zM87 338h1v1h-1zM88 339h1v1h-1zM89 339h1v1h-1zM90 339h1v1h-1zM91 339h1v1h-1zM92 339h1v1h-1zM93 339h1v1h-1zM94 340h1v1h-1zM95 340h1v1h-1zM96 340h1v1h-1zM97 341h1v1h-1zM98 342h1v1h-1zM99 342h1v1h-1zM100 343h1v1h-1zM101 344h1v1h-1zM102 345h1v1h-1zM103 345h1v1h-1zM104 346h1v1h-1zM105 347h1v2h-1zM106 349h1v1h-1zM107 350h1v2h-1zM108 352h1v1h-1zM109 353h1v2h-1zM110 355h1v2h-1zM111 357h1v2h-1zM112 359h1v2h-1zM113 361h1v2h-1zM114 363h1v3h-1zM115 366h1v2h-1zM116 368h1v2h-1zM117 370h1v1h-1zM118 371h1v1h-1zM119 371h1v1h-1zM120 372h1v1h-1zM121 373h1v1h-1zM122 374h1v1h-1zM123 374h1v1h-1zM124 375h1v1h-1zM125 376h1v1h-1zM126 377h1v2h-1zM127 379h1v1h-1zM128 380h1v1h-1zM129 381h1v1h-1zM130 381h1v1h-1zM131 382h1v1h-1zM132 382h1v1h-1zM133 383h1v1h-1zM134 384h1v1h-1zM135 384h1v1h-1zM136 385h1v1h-1zM137 386h1v1h-1zM138 386h1v1h-1zM139 387h1v1h-1zM140 387h1v1h-1zM141 386h1v1h-1zM142 385h1v1h-1zM143 384h1v1h-1zM144 383h1v1h-1zM145 382h1v1h-1zM146 381h1v1h-1zM147 381h1v1h-1zM148 380h1v1h-1zM149 380h1v1h-1zM150 379h1v1h-1zM151 379h1v1h-1zM152 379h1v1h-1zM153 378h1v1h-1zM154 377h1v1h-1zM155 376h1v1h-1zM156 375h1v1h-1zM157 374h1v1h-1zM158 372h1v2h-1zM159 371h1v1h-1zM160 370h1v1h-1zM161 369h1v1h-1zM162 368h1v1h-1zM163 367h1v1h-1zM164 366h1v1h-1zM165 364h1v2h-1zM166 362h1v2h-1zM167 360h1v2h-1zM168 359h1v1h-1zM169 358h1v1h-1zM170 357h1v1h-1zM171 356h1v1h-1zM172 355h1v1h-1zM173 355h1v1h-1zM174 354h1v1h-1zM175 354h1v1h-1zM176 354h1v1h-1zM177 353h1v1h-1zM178 353h1v1h-1zM179 352h1v1h-1zM180 352h1v1h-1zM181 351h1v1h-1zM182 350h1v1h-1zM183 349h1v1h-1zM184 348h1v1h-1zM185 347h1v1h-1zM186 346h1v1h-1zM187 346h1v1h-1zM188 345h1v1h-1zM189 343h1v2h-1zM190 342h1v1h-1zM191 340h1v2h-1zM192 339h1v1h-1zM193 337h1v2h-1zM194 336h1v1h-1zM195 334h1v2h-1zM196 332h1v2h-1zM197 330h1v2h-1zM198 328h1v2h-1zM199 326h1v2h-1zM200 324h1v2h-1zM201 322h1v2h-1zM202 321h1v1h-1zM203 319h1v2h-1zM204 318h1v1h-1zM205 316h1v2h-1zM206 315h1v1h-1zM207 313h1v2h-1zM208 312h1v1h-1zM209 310h1v2h-1zM210 308h1v2h-1zM211 306h1v2h-1zM212 304h1v2h-1zM213 302h1v2h-1zM214 300h1v2h-1zM215 298h1v2h-1zM216 296h1v2h-1zM217 294h1v2h-1zM218 293h1v1h-1zM219 291h1v2h-1zM220 290h1v1h-1zM221 289h1v1h-1zM222 288h1v1h-1zM223 288h1v1h-1zM224 287h1v1h-1zM225 286h1v1h-1zM226 285h1v1h-1zM227 284h1v1h-1zM228 283h1v1h-1zM229 282h1v1h-1zM230 280h1v2h-1zM231 279h1v1h-1zM232 278h1v1h-1zM233 276h1v2h-1zM234 275h1v1h-1zM235 273h1v2h-1zM236 272h1v1h-1zM237 271h1v1h-1zM238 270h1v1h-1zM239 270h1v1h-1zM240 269h1v1h-1zM241 268h1v1h-1zM242 267h1v1h-1zM243 267h1v1h-1zM244 266h1v1h-1zM245 265h1v1h-1zM246 264h1v1h-1zM247 263h1v1h-1zM248 262h1v1h-1zM249 261h1v1h-1zM250 260h1v1h-1zM251 260h1v1h-1zM252 259h1v1h-1zM253 258h1v1h-1zM254 257h1v1h-1zM255 256h1v1h-1zM256 255h1v1h-1zM257 254h1v1h-1zM258 253h1v1h-1zM259 253h1v1h-1zM260 252h1v1h-1zM261 251h1v1h-1zM262 250h1v1h-1zM263 249h1v1h-1zM264 248h1v1h-1zM265 247h1v1h-1zM266 247h1v1h-1zM267 246h1v1h-1zM268 246h1v1h-1zM269 245h1v1h-1zM270 244h1v1h-1zM271 244h1v1h-1zM272 243h1v1h-1zM273 242h1v1h-1zM274 242h1v1h-1zM275 241h1v1h-1zM276 241h1v1h-1zM277 240h1v1h-1zM278 240h1v1h-1zM279 239h1v1h-1zM280 239h1v1h-1zM281 238h1v1h-1zM282 238h1v1h-1zM283 237h1v1h-1zM284 237h1v1h-1zM285 237h1v1h-1zM286 237h1v1h-1zM287 237h1v1h-1zM288 237h1v1h-1zM289 237h1v1h-1zM290 237h1v1h-1zM291 237h1v1h-1zM292 237h1v1h-1zM293 238h1v1h-1zM294 238h1v1h-1zM295 239h1v1h-1zM296 239h1v1h-1zM297 239h1v1h-1zM298 240h1v1h-1zM299 240h1v1h-1zM300 240h1v1h-1zM301 239h1v1h-1zM302 239h1v1h-1zM303 238h1v1h-1zM304 238h1v1h-1zM305 237h1v1h-1zM306 237h1v1h-1zM307 236h1v1h-1zM308 236h1v1h-1zM309 235h1v1h-1zM310 234h1v1h-1zM311 234h1v1h-1zM312 233h1v1h-1zM313 233h1v1h-1zM314 233h1v1h-1zM315 233h1v1h-1zM316 233h1v1h-1zM317 233h1v1h-1zM318 233h1v1h-1zM319 233h1v1h-1zM320 233h1v1h-1zM321 232h1v1h-1zM322 232h1v1h-1zM323 231h1v1h-1zM324 231h1v1h-1zM325 231h1v1h-1zM326 230h1v1h-1zM327 230h1v1h-1zM328 230h1v1h-1zM329 230h1v1h-1zM330 230h1v1h-1zM331 230h1v1h-1zM332 230h1v1h-1zM333 230h1v1h-1zM334 231h1v1h-1zM335 231h1v1h-1zM336 231h1v1h-1zM337 231h1v1h-1zM338 230h1v1h-1zM339 230h1v1h-1zM340 230h1v1h-1zM341 230h1v1h-1zM342 229h1v1h-1zM343 229h1v1h-1zM344 229h1v1h-1zM345 229h1v1h-1zM346 229h1v1h-1zM347 229h1v1h-1zM348 229h1v1h-1zM349 229h1v1h-1zM350 230h1v1h-1zM351 230h1v1h-1zM352 230h1v1h-1zM353 231h1v1h-1zM354 232h1v1h-1zM355 233h1v1h-1zM356 234h1v1h-1zM357 235h1v1h-1zM358 236h1v1h-1zM359 236h1v1h-1zM360 237h1v1h-1zM361 238h1v1h-1zM362 238h1v1h-1zM363 239h1v1h-1zM364 239h1v1h-1zM365 240h1v1h-1zM366 241h1v1h-1zM367 241h1v1h-1zM368 242h1v1h-1zM369 243h1v1h-1zM370 243h1v1h-1zM371 244h1v1h-1zM372 244h1v1h-1zM373 245h1v1h-1zM374 245h1v1h-1zM375 246h1v1h-1zM376 246h1v1h-1zM377 247h1v1h-1zM378 247h1v1h-1zM379 248h1v1h-1zM380 248h1v1h-1zM381 249h1v1h-1zM382 249h1v1h-1zM383 250h1v1h-1zM384 250h1v1h-1zM385 251h1v1h-1zM386 252h1v1h-1zM387 252h1v1h-1zM388 253h1v1h-1zM389 254h1v1h-1zM390 255h1v1h-1zM391 256h1v1h-1zM392 257h1v1h-1zM393 258h1v1h-1zM394 259h1v2h-1zM395 261h1v1h-1zM396 262h1v1h-1zM397 263h1v1h-1zM398 264h1v1h-1zM399 264h1v1h-1zM400 265h1v1h-1zM401 266h1v1h-1zM402 267h1v2h-1zM403 269h1v1h-1zM404 270h1v1h-1zM405 271h1v1h-1zM406 272h1v1h-1zM407 273h1v1h-1zM408 274h1v1h-1zM409 275h1v1h-1zM410 276h1v1h-1zM411 276h1v1h-1zM412 277h1v1h-1zM413 278h1v1h-1zM414 278h1v1h-1zM415 279h1v1h-1zM416 279h1v1h-1zM417 280h1v1h-1zM418 280h1v1h-1zM419 281h1v1h-1zM420 281h1v1h-1zM421 281h1v1h-1zM422 282h1v1h-1zM423 282h1v1h-1zM424 282h1v1h-1zM425 282h1v1h-1zM426 282h1v1h-1zM427 282h1v1h-1zM428 282h1v1h-1zM429 282h1v1h-1zM430 281h1v1h-1zM431 281h1v1h-1zM432 281h1v1h-1zM433 280h1v1h-1zM434 280h1v1h-1zM435 279h1v1h-1zM436 279h1v1h-1zM437 278h1v1h-1zM438 277h1v1h-1zM439 276h1v1h-1zM440 275h1v1h-1zM441 274h1v1h-1zM442 272h1v2h-1zM443 271h1v1h-1zM444 270h1v1h-1zM445 268h1v2h-1zM446 267h1v1h-1zM447 265h1v2h-1zM448 264h1v1h-1zM449 262h1v2h-1zM450 261h1v1h-1zM451 259h1v2h-1zM452 257h1v2h-1zM453 255h1v2h-1zM454 252h1v3h-1zM455 250h1v2h-1zM456 248h1v2h-1zM457 246h1v2h-1zM458 244h1v2h-1zM459 242h1v2h-1zM460 239h1v3h-1zM461 237h1v2h-1zM462 235h1v2h-1zM463 233h1v2h-1zM464 230h1v3h-1zM465 228h1v2h-1zM466 225h1v3h-1zM467 223h1v2h-1zM468 220h1v3h-1zM469 218h1v2h-1zM470 215h1v3h-1zM471 213h1v2h-1zM472 210h1v3h-1zM473 208h1v2h-1zM474 205h1v3h-1zM475 203h1v2h-1zM476 200h1v3h-1zM477 198h1v2h-1zM478 196h1v2h-1zM479 194h1v2h-1zM480 192h1v2h-1zM481 190h1v2h-1zM482 188h1v2h-1zM483 186h1v2h-1zM484 183h1v3h-1zM485 181h1v2h-1zM486 178h1v3h-1zM487 176h1v2h-1zM488 174h1v2h-1zM489 172h1v2h-1zM490 170h1v2h-1zM491 168h1v2h-1zM492 167h1v1h-1zM493 165h1v2h-1zM494 163h1v2h-1zM495 161h1v2h-1zM496 159h1v2h-1zM497 157h1v2h-1zM498 155h1v2h-1zM499 153h1v2h-1zM500 151h1v2h-1zM501 149h1v2h-1zM502 147h1v2h-1zM503 145h1v2h-1zM504 144h1v1h-1zM505 142h1v2h-1zM506 140h1v2h-1zM507 138h1v2h-1zM508 137h1v1h-1zM509 135h1v2h-1zM510 134h1v1h-1zM511 132h1v2h-1zM512 131h1v1h-1zM513 129h1v2h-1zM514 127h1v2h-1zM515 125h1v2h-1zM516 124h1v1h-1zM517 122h1v2h-1zM518 120h1v2h-1zM519 118h1v2h-1zM520 117h1v1h-1zM521 115h1v2h-1zM522 114h1v1h-1zM523 112h1v2h-1zM524 111h1v1h-1zM525 110h1v1h-1zM526 109h1v1h-1zM527 109h1v1h-1zM528 108h1v1h-1zM529 107h1v1h-1zM530 107h1v1h-1zM531 106h1v1h-1zM532 106h1v1h-1zM533 107h1v1h-1zM534 108h1v1h-1zM535 108h1v1h-1zM536 109h1v1h-1zM537 110h1v1h-1zM538 110h1v1h-1zM539 111h1v1h-1zM540 111h1v1h-1zM541 112h1v1h-1zM542 113h1v1h-1zM543 113h1v1h-1zM544 114h1v1h-1zM545 115h1v1h-1zM546 115h1v1h-1zM547 116h1v1h-1zM548 116h1v1h-1zM549 117h1v1h-1zM550 118h1v1h-1zM551 119h1v1h-1zM552 120h1v1h-1zM553 121h1v1h-1zM554 122h1v1h-1zM555 123h1v1h-1zM556 124h1v1h-1zM557 125h1v1h-1zM558 126h1v1h-1zM559 127h1v1h-1zM560 128h1v1h-1zM561 129h1v1h-1zM562 130h1v1h-1zM563 131h1v1h-1zM564 132h1v1h-1zM565 133h1v1h-1zM566 134h1v1h-1zM567 135h1v1h-1zM568 136h1v1h-1zM569 137h1v2h-1zM570 139h1v2h-1zM571 141h1v2h-1zM572 143h1v1h-1zM573 144h1v2h-1zM574 146h1v2h-1zM575 148h1v2h-1zM576 150h1v1h-1zM577 151h1v2h-1zM578 153h1v1h-1zM579 154h1v2h-1zM580 156h1v1h-1zM581 157h1v2h-1zM582 159h1v2h-1zM583 161h1v2h-1zM584 163h1v1h-1zM585 164h1v1h-1zM586 165h1v1h-1zM587 166h1v1h-1zM588 167h1v1h-1zM589 168h1v1h-1zM590 169h1v1h-1zM591 169h1v1h-1zM592 170h1v1h-1zM593 171h1v1h-1zM594 172h1v2h-1zM595 174h1v1h-1zM596 175h1v1h-1zM597 176h1v2h-1zM598 178h1v2h-1zM599 180h1v2h-1zM600 182h1v2h-1zM601 184h1v2h-1zM602 186h1v2h-1zM603 188h1v2h-1zM604 190h1v3h-1zM605 193h1v2h-1zM606 195h1v2h-1zM607 197h1v2h-1zM608 199h1v3h-1zM609 202h1v2h-1zM610 204h1v2h-1zM611 206h1v2h-1zM612 208h1v2h-1zM613 210h1v2h-1zM614 212h1v1h-1zM615 213h1v2h-1zM616 215h1v1h-1zM617 216h1v2h-1zM618 218h1v1h-1zM619 219h1v2h-1zM620 221h1v2h-1zM621 223h1v2h-1zM622 225h1v2h-1zM623 227h1v2h-1zM624 229h1v2h-1zM625 231h1v2h-1zM626 233h1v2h-1zM627 235h1v2h-1zM628 237h1v2h-1zM629 239h1v2h-1zM630 241h1v2h-1zM631 243h1v2h-1zM632 245h1v2h-1zM633 247h1v2h-1zM634 249h1v2h-1zM635 251h1v2h-1zM636 253h1v2h-1zM637 255h1v2h-1zM638 257h1v1h-1zM639 258h1v2h-1zM640 260h1v1h-1zM641 261h1v2h-1zM642 263h1v1h-1zM643 264h1v2h-1zM644 266h1v1h-1zM645 267h1v1h-1zM646 268h1v2h-1zM647 270h1v1h-1zM648 271h1v1h-1zM649 272h1v1h-1zM650 273h1v2h-1zM651 275h1v1h-1zM652 276h1v1h-1zM653 276h1v1h-1zM654 277h1v1h-1zM655 277h1v1h-1zM656 277h1v1h-1zM657 277h1v1h-1zM658 278h1v1h-1zM659 278h1v1h-1zM660 278h1v1h-1zM661 279h1v1h-1zM662 280h1v1h-1zM663 280h1v1h-1zM664 281h1v2h-1zM665 283h1v2h-1zM666 285h1v3h-1zM667 288h1v2h-1zM668 290h1v3h-1zM669 293h1v3h-1zM670 296h1v3h-1zM671 299h1v3h-1zM672 302h1v3h-1zM673 305h1v4h-1zM674 309h1v3h-1zM675 312h1v4h-1zM676 316h1v3h-1zM677 319h1v4h-1zM678 323h1v3h-1zM679 326h1v4h-1zM680 330h1v3h-1zM681 333h1v3h-1zM682 336h1v2h-1zM683 338h1v3h-1zM684 341h1v3h-1zM685 344h1v2h-1zM686 346h1v2h-1zM687 348h1v2h-1zM688 350h1v2h-1zM689 352h1v2h-1zM690 354h1v1h-1zM691 355h1v2h-1zM692 357h1v1h-1zM693 358h1v2h-1zM694 360h1v2h-1zM695 362h1v2h-1zM696 364h1v1h-1zM697 365h1v2h-1zM698 367h1v1h-1zM699 368h1v2h-1zM700 370h1v1h-1zM701 371h1v1h-1zM702 371h1v1h-1zM703 372h1v1h-1zM704 372h1v1h-1zM705 372h1v1h-1zM706 373h1v1h-1zM707 373h1v1h-1zM708 373h1v1h-1zM709 374h1v1h-1zM710 374h1v1h-1zM711 375h1v1h-1zM712 375h1v1h-1zM713 375h1v1h-1zM714 376h1v1h-1zM715 376h1v1h-1zM716 376h1v1h-1zM717 376h1v1h-1zM718 377h1v1h-1zM719 377h1v1h-1zM720 377h1v1h-1zM721 377h1v1h-1zM722 378h1v1h-1zM723 378h1v1h-1zM724 378h1v1h-1zM725 378h1v1h-1zM726 378h1v1h-1zM727 378h1v1h-1zM728 378h1v1h-1zM729 379h1v1h-1zM730 379h1v1h-1zM731 380h1v1h-1zM732 380h1v1h-1zM733 381h1v1h-1zM734 382h1v2h-1zM735 384h1v1h-1zM736 385h1v1h-1zM737 386h1v1h-1zM738 387h1v1h-1zM739 387h1v1h-1zM740 388h1v1h-1zM741 389h1v2h-1zM742 391h1v2h-1zM743 393h1v2h-1zM744 395h1v1h-1zM745 396h1v1h-1zM746 397h1v1h-1zM747 397h1v1h-1zM748 398h1v1h-1zM749 398h1v1h-1zM750 397h1v1h-1zM751 397h1v1h-1zM752 397h1v1h-1zM753 396h1v1h-1zM754 394h1v2h-1zM755 393h1v1h-1zM756 392h1v1h-1zM757 391h1v1h-1zM758 389h1v2h-1zM759 388h1v1h-1zM760 387h1v1h-1zM761 386h1v1h-1zM762 385h1v1h-1zM763 384h1v1h-1zM764 383h1v1h-1zM765 382h1v1h-1zM766 381h1v1h-1zM767 381h1v1h-1zM768 380h1v1h-1zM769 379h1v1h-1zM770 379h1v1h-1zM771 378h1v1h-1zM772 378h1v1h-1zM773 377h1v1h-1zM774 376h1v1h-1zM775 376h1v1h-1zM776 375h1v1h-1zM777 374h1v1h-1zM778 373h1v1h-1zM779 372h1v1h-1zM780 371h1v1h-1zM781 370h1v1h-1zM782 370h1v1h-1zM783 369h1v1h-1zM784 369h1v1h-1zM785 369h1v1h-1zM786 368h1v1h-1zM787 368h1v1h-1zM788 368h1v1h-1zM789 367h1v1h-1zM790 366h1v1h-1zM791 365h1v1h-1zM792 364h1v1h-1zM793 363h1v1h-1zM794 362h1v1h-1zM795 362h1v1h-1zM796 361h1v1h-1zM797 360h1v1h-1zM798 359h1v1h-1zM799 359h1v1h-1zM800 358h1v1h-1zM801 358h1v1h-1zM802 358h1v1h-1zM803 358h1v1h-1zM804 358h1v1h-1zM805 358h1v1h-1zM806 357h1v1h-1zM807 357h1v1h-1zM808 357h1v1h-1zM809 357h1v1h-1zM810 358h1v1h-1zM811 358h1v1h-1zM812 358h1v1h-1zM813 359h1v1h-1zM814 360h1v2h-1zM815 362h1v1h-1zM816 363h1v1h-1zM817 364h1v1h-1zM818 364h1v1h-1zM819 365h1v1h-1zM820 365h1v2h-1zM821 367h1v2h-1zM822 369h1v2h-1zM823 371h1v2h-1zM824 373h1v2h-1zM825 375h1v1h-1zM826 376h1v1h-1zM827 376h1v1h-1zM828 377h1v1h-1zM829 378h1v1h-1zM830 379h1v1h-1zM831 380h1v1h-1zM832 381h1v1h-1zM833 382h1v1h-1zM834 383h1v1h-1zM835 384h1v1h-1zM836 385h1v1h-1zM837 386h1v2h-1zM838 388h1v2h-1zM839 390h1v2h-1zM840 392h1v1h-1zM841 393h1v2h-1zM842 395h1v1h-1zM843 396h1v2h-1zM844 398h1v1h-1zM845 399h1v2h-1zM846 401h1v1h-1zM847 402h1v2h-1zM848 404h1v1h-1zM849 405h1v1h-1zM850 405h1v1h-1zM851 406h1v1h-1zM852 406h1v1h-1zM853 407h1v1h-1zM854 408h1v1h-1zM855 409h1v1h-1zM856 410h1v1h-1zM857 411h1v1h-1zM858 412h1v1h-1zM859 412h1v1h-1zM860 413h1v1h-1zM861 414h1v1h-1zM862 415h1v1h-1zM863 415h1v1h-1zM864 416h1v1h-1zM865 417h1v1h-1zM866 417h1v1h-1zM867 418h1v1h-1zM868 418h1v1h-1zM869 419h1v1h-1zM870 420h1v1h-1zM871 421h1v1h-1zM872 422h1v1h-1zM873 423h1v2h-1zM874 425h1v2h-1zM875 427h1v2h-1zM876 429h1v1h-1zM877 430h1v1h-1zM878 431h1v1h-1zM879 432h1v1h-1zM880 433h1v1h-1zM881 434h1v1h-1zM882 435h1v1h-1zM883 436h1v1h-1zM884 437h1v1h-1zM885 438h1v2h-1zM886 440h1v2h-1zM887 442h1v2h-1zM888 444h1v1h-1zM889 445h1v2h-1zM890 447h1v2h-1zM891 449h1v2h-1zM892 451h1v2h-1zM893 453h1v1h-1zM894 454h1v2h-1zM895 456h1v1h-1zM896 457h1v1h-1zM897 457h1v1h-1zM898 458h1v1h-1zM899 458h1v1h-1zM900 458h1v1h-1zM901 458h1v1h-1zM902 458h1v1h-1zM903 458h1v1h-1zM904 458h1v1h-1zM905 456h1v2h-1zM906 455h1v1h-1zM907 453h1v2h-1zM908 452h1v1h-1zM909 450h1v2h-1zM910 449h1v1h-1zM911 447h1v2h-1zM912 446h1v1h-1zM913 444h1v2h-1zM914 443h1v1h-1zM915 441h1v2h-1zM916 440h1v1h-1zM917 438h1v2h-1zM918 436h1v2h-1zM919 434h1v2h-1zM920 433h1v1h-1zM921 431h1v2h-1zM922 430h1v1h-1zM923 428h1v2h-1zM924 427h1v1h-1zM925 426h1v1h-1zM926 425h1v1h-1zM927 424h1v1h-1zM928 423h1v1h-1zM929 421h1v2h-1zM930 419h1v2h-1zM931 417h1v2h-1zM932 416h1v1h-1zM933 415h1v1h-1zM934 413h1v2h-1zM935 412h1v1h-1zM936 411h1v1h-1zM937 409h1v2h-1zM938 408h1v1h-1zM939 406h1v2h-1zM940 405h1v1h-1zM941 403h1v2h-1zM942 401h1v2h-1zM943 399h1v2h-1zM944 398h1v1h-1zM945 397h1v1h-1zM946 395h1v2h-1zM947 394h1v1h-1zM948 393h1v1h-1zM949 391h1v2h-1zM950 390h1v1h-1zM951 388h1v2h-1zM952 387h1v1h-1zM953 386h1v1h-1zM954 385h1v1h-1zM955 384h1v1h-1zM956 383h1v1h-1zM957 382h1v1h-1zM958 380h1v2h-1zM959 379h1v1h-1zM960 378h1v1h-1zM961 377h1v1h-1zM962 377h1v1h-1zM963 376h1v1h-1zM964 376h1v1h-1zM965 375h1v1h-1zM966 374h1v1h-1zM967 373h1v1h-1zM968 372h1v1h-1zM969 370h1v2h-1zM970 368h1v2h-1zM971 366h1v2h-1zM972 363h1v3h-1zM973 361h1v2h-1zM974 358h1v3h-1zM975 356h1v2h-1zM976 354h1v2h-1zM977 353h1v1h-1zM978 351h1v2h-1zM979 350h1v1h-1zM980 349h1v1h-1zM981 348h1v1h-1zM982 347h1v1h-1zM983 346h1v1h-1zM984 345h1v1h-1zM985 344h1v1h-1zM986 342h1v2h-1zM987 341h1v1h-1zM988 340h1v1h-1zM989 340h1v1h-1zM990 339h1v1h-1zM991 339h1v1h-1zM992 339h1v1h-1zM993 340h1v1h-1zM994 340h1v1h-1zM995 341h1v1h-1zM996 341h1v1h-1zM997 341h1v1h-1zM998 340h1v1h-1zM999 340h1v1h-1zM1000 340h1v1h-1zM1001 340h1v1h-1zM1002 339h1v1h-1zM1003 339h1v1h-1zM1004 339h1v1h-1zM1005 338h1v1h-1zM1006 338h1v1h-1zM1007 337h1v1h-1zM1008 337h1v1h-1zM1009 336h1v1h-1zM1010 335h1v1h-1zM1011 334h1v1h-1zM1012 333h1v1h-1zM1013 332h1v1h-1zM1014 330h1v2h-1zM1015 329h1v1h-1zM1016 328h1v1h-1zM1017 327h1v1h-1zM1018 327h1v1h-1zM1019 326h1v1h-1zM1020 326h1v1h-1zM1021 325h1v1h-1zM1022 324h1v1h-1zM1023 324h1v1h-1zM1024 323h1v1h-1zM1025 322h1v1h-1zM1026 321h1v1h-1zM1027 321h1v1h-1zM1028 320h1v1h-1zM1029 320h1v1h-1zM1030 319h1v1h-1zM1031 319h1v1h-1zM1032 319h1v1h-1zM1033 319h1v1h-1zM1034 319h1v1h-1zM1035 319h1v1h-1zM1036 319h1v1h-1zM1037 318h1v1h-1zM1038 318h1v1h-1zM1039 317h1v1h-1zM1040 317h1v1h-1zM1041 317h1v1h-1zM1042 316h1v1h-1zM1043 316h1v1h-1zM1044 316h1v1h-1zM1045 315h1v1h-1zM1046 315h1v1h-1zM1047 314h1v1h-1zM1048 314h1v1h-1zM1049 313h1v1h-1zM1050 313h1v1h-1zM1051 312h1v1h-1zM1052 312h1v1h-1zM1053 311h1v1h-1zM1054 311h1v1h-1zM1055 310h1v1h-1zM1056 310h1v1h-1zM1057 310h1v1h-1zM1058 310h1v1h-1zM1059 310h1v1h-1zM1060 310h1v1h-1zM1061 309h1v1h-1zM1062 309h1v1h-1zM1063 308h1v1h-1zM1064 308h1v1h-1zM1065 307h1v1h-1zM1066 306h1v1h-1zM1067 306h1v1h-1zM1068 305h1v1h-1zM1069 305h1v1h-1zM1070 304h1v1h-1zM1071 304h1v1h-1zM1072 304h1v1h-1zM1073 304h1v1h-1zM1074 305h1v1h-1zM1075 305h1v1h-1zM1076 305h1v1h-1zM1077 305h1v1h-1zM1078 305h1v1h-1zM1079 305h1v1h-1zM1080 305h1v1h-1zM1081 306h1v1h-1zM1082 307h1v1h-1zM1083 307h1v1h-1zM1084 308h1v1h-1zM1085 309h1v1h-1zM1086 310h1v1h-1zM1087 310h1v1h-1zM1088 311h1v1h-1zM1089 311h1v1h-1zM1090 311h1v1h-1zM1091 311h1v1h-1zM1092 311h1v1h-1zM1093 311h1v1h-1zM1094 312h1v1h-1zM1095 312h1v1h-1zM1096 312h1v1h-1zM1097 313h1v1h-1zM1098 313h1v1h-1zM1099 314h1v1h-1zM1100 314h1v1h-1zM1101 314h1v1h-1zM1102 313h1v1h-1zM1103 313h1v1h-1zM1104 313h1v1h-1zM1105 313h1v1h-1zM1106 314h1v1h-1zM1107 314h1v1h-1zM1108 314h1v1h-1zM1109 314h1v1h-1zM1110 315h1v1h-1zM1111 315h1v1h-1zM1112 315h1v1h-1zM1113 315h1v1h-1zM1114 316h1v1h-1zM1115 316h1v1h-1zM1116 316h1v1h-1zM1117 317h1v1h-1zM1118 317h1v1h-1zM1119 318h1v1h-1zM1120 318h1v1h-1zM1121 319h1v1h-1zM1122 320h1v1h-1zM1123 320h1v1h-1zM1124 321h1v1h-1zM1125 322h1v1h-1zM1126 323h1v1h-1zM1127 323h1v1h-1zM1128 324h1v1h-1z" fill="#ffff00" shape-rendering="crispEdges"/>
<path d="M4 286h1v1h-1zM5 287h1v1h-1zM6 288h1v1h-1zM7 289h1v1h-1zM8 290h1v1h-1zM9 291h1v1h-1zM10 292h1v1h-1zM11 293h1v1h-1zM12 294h1v1h-1zM13 295h1v1h-1zM14 295h1v1h-1zM15 296h1v1h-1zM16 296h1v1h-1zM17 297h1v1h-1zM18 297h1v1h-1zM19 298h1v1h-1zM20 298h1v1h-1zM21 299h1v1h-1zM22 299h1v1h-1zM23 300h1v1h-1zM24 300h1v1h-1zM25 300h1v1h-1zM26 300h1v1h-1zM27 300h1v1h-1zM28 300h1v1h-1zM29 300h1v1h-1zM30 299h1v1h-1zM31 299h1v1h-1zM32 299h1v1h-1zM33 300h1v1h-1zM34 301h1v1h-1zM35 302h1v1h-1zM36 303h1v1h-1zM37 304h1v1h-1zM38 304h1v1h-1zM39 305h1v1h-1zM40 305h1v1h-1zM41 306h1v1h-1zM42 307h1v1h-1zM43 307h1v1h-1zM44 308h1v1h-1zM45 309h1v2h-1zM46 311h1v2h-1zM47 313h1v2h-1zM48 315h1v1h-1zM49 316h1v1h-1zM50 317h1v1h-1zM51 317h1v1h-1zM52 318h1v1h-1zM53 318h1v1h-1zM54 317h1v1h-1zM55 317h1v1h-1zM56 317h1v1h-1zM57 318h1v1h-1zM58 318h1v1h-1zM59 319h1v1h-1zM60 319h1v1h-1zM61 320h1v1h-1zM62 320h1v1h-1zM63 321h1v1h-1zM64 321h1v1h-1zM65 320h1v1h-1zM66 319h1v1h-1zM67 319h1v1h-1zM68 318h1v1h-1zM69 319h1v1h-1zM70 320h1v1h-1zM71 321h1v1h-1zM72 322h1v1h-1zM73 323h1v1h-1zM74 324h1v1h-1zM75 325h1v1h-1zM76 326h1v1h-1zM77 327h1v2h-1zM78 329h1v1h-1zM79 330h1v2h-1zM80 332h1v2h-1zM81 334h1v3h-1zM82 337h1v2h-1zM83 339h1v3h-1zM84 342h1v3h-1zM85 345h1v2h-1zM86 347h1v3h-1zM87 350h1v2h-1zM88 352h1v2h-1zM89 354h1v1h-1zM90 354h1v1h-1zM91 355h1v1h-1zM92 355h1v1h-1zM93 356h1v1h-1zM94 357h1v1h-1zM95 357h1v1h-1zM96 358h1v1h-1zM97 359h1v1h-1zM98 360h1v2h-1zM99 362h1v1h-1zM100 363h1v1h-1zM101 363h1v1h-1zM102 364h1v1h-1zM103 364h1v1h-1zM104 364h1v2h-1zM105 366h1v2h-1zM106 368h1v2h-1zM107 370h1v2h-1zM108 372h1v3h-1zM109 375h1v2h-1zM110 377h1v2h-1zM111 379h1v2h-1zM112 381h1v2h-1zM113 383h1v2h-1zM114 385h1v2h-1zM115 387h1v2h-1zM116 389h1v1h-1zM117 390h1v1h-1zM118 390h1v1h-1zM119 391h1v1h-1zM120 391h1v1h-1zM121 392h1v2h-1zM122 394h1v1h-1zM123 395h1v2h-1zM124 397h1v1h-1zM125 398h1v1h-1zM126 398h1v1h-1zM127 399h1v1h-1zM128 399h1v1h-1zM129 400h1v1h-1zM130 400h1v1h-1zM131 401h1v1h-1zM132 401h1v1h-1zM133 400h1v1h-1zM134 400h1v1h-1zM135 399h1v1h-1zM136 399h1v1h-1zM137 397h1v2h-1zM138 396h1v1h-1zM139 394h1v2h-1zM140 393h1v1h-1zM141 391h1v2h-1zM142 389h1v2h-1zM143 387h1v2h-1zM144 386h1v1h-1zM145 385h1v1h-1zM146 384h1v1h-1zM147 383h1v1h-1zM148 382h1v1h-1zM149 381h1v1h-1zM150 379h1v2h-1zM151 378h1v1h-1zM152 377h1v1h-1zM153 375h1v2h-1zM154 373h1v2h-1zM155 371h1v2h-1zM156 370h1v1h-1zM157 368h1v2h-1zM158 366h1v2h-1zM159 364h1v2h-1zM160 362h1v2h-1zM161 360h1v2h-1zM162 357h1v3h-1zM163 355h1v2h-1zM164 352h1v3h-1zM165 350h1v2h-1zM166 348h1v2h-1zM167 346h1v2h-1zM168 343h1v3h-1zM169 340h1v3h-1zM170 337h1v3h-1zM171 334h1v3h-1zM172 332h1v2h-1zM173 331h1v1h-1zM174 329h1v2h-1zM175 328h1v1h-1zM176 327h1v1h-1zM177 326h1v1h-1zM178 324h1v2h-1zM179 323h1v1h-1zM180 322h1v1h-1zM181 320h1v2h-1zM182 319h1v1h-1zM183 317h1v2h-1zM184 316h1v1h-1zM185 314h1v2h-1zM186 312h1v2h-1zM187 310h1v2h-1zM188 308h1v2h-1zM189 307h1v1h-1zM190 306h1v1h-1zM191 305h1v1h-1zM192 304h1v1h-1zM193 303h1v1h-1zM194 302h1v1h-1zM195 302h1v1h-1zM196 301h1v1h-1zM197 301h1v1h-1zM198 300h1v1h-1zM199 300h1v1h-1zM200 300h1v1h-1zM201 299h1v1h-1zM202 299h1v1h-1zM203 298h1v1h-1zM204 298h1v1h-1zM205 297h1v1h-1zM206 297h1v1h-1zM207 296h1v1h-1zM208 296h1v1h-1zM209 295h1v1h-1zM210 294h1v1h-1zM211 294h1v1h-1zM212 293h1v1h-1zM213 292h1v1h-1zM214 291h1v1h-1zM215 290h1v1h-1zM216 289h1v1h-1zM217 288h1v1h-1zM218 287h1v1h-1zM219 287h1v1h-1zM220 286h1v1h-1zM221 285h1v1h-1zM222 285h1v1h-1zM223 284h1v1h-1zM224 284h1v1h-1zM225 282h1v2h-1zM226 280h1v2h-1zM227 278h1v2h-1zM228 277h1v1h-1zM229 275h1v2h-1zM230 273h1v2h-1zM231 271h1v2h-1zM232 268h1v3h-1zM233 265h1v3h-1zM234 263h1v2h-1zM235 260h1v3h-1zM236 258h1v2h-1zM237 256h1v2h-1zM238 255h1v1h-1zM239 253h1v2h-1zM240 252h1v1h-1zM241 250h1v2h-1zM242 248h1v2h-1zM243 246h1v2h-1zM244 245h1v1h-1zM245 243h1v2h-1zM246 242h1v1h-1zM247 240h1v2h-1zM248 239h1v1h-1zM249 237h1v2h-1zM250 236h1v1h-1zM251 234h1v2h-1zM252 233h1v1h-1zM253 232h1v1h-1zM254 231h1v1h-1zM255 230h1v1h-1zM256 229h1v1h-1zM257 229h1v1h-1zM258 228h1v1h-1zM259 228h1v1h-1zM260 228h1v1h-1zM261 228h1v1h-1zM262 227h1v1h-1zM263 227h1v1h-1zM264 227h1v1h-1zM265 227h1v1h-1zM266 228h1v1h-1zM267 228h1v1h-1zM268 228h1v1h-1zM269 229h1v1h-1zM270 229h1v1h-1zM271 230h1v1h-1zM272 230h1v1h-1zM273 230h1v1h-1zM274 230h1v1h-1zM275 230h1v1h-1zM276 230h1v1h-1zM277 230h1v1h-1zM278 229h1v1h-1zM279 229h1v1h-1zM280 229h1v1h-1zM281 230h1v1h-1zM282 230h1v1h-1zM283 231h1v1h-1zM284 231h1v1h-1zM285 232h1v2h-1zM286 234h1v1h-1zM287 235h1v2h-1zM288 237h1v1h-1zM289 238h1v2h-1zM290 240h1v1h-1zM291 241h1v2h-1zM292 243h1v1h-1zM293 244h1v1h-1zM294 245h1v1h-1zM295 246h1v1h-1zM296 247h1v1h-1zM297 248h1v1h-1zM298 249h1v1h-1zM299 249h1v1h-1zM300 250h1v1h-1zM301 250h1v1h-1zM302 250h1v1h-1zM303 250h1v1h-1zM304 250h1v1h-1zM305 250h1v1h-1zM306 251h1v1h-1zM307 251h1v1h-1zM308 251h1v1h-1zM309 249h1v2h-1zM310 248h1v1h-1zM311 246h1v2h-1zM312 245h1v1h-1zM313 244h1v1h-1zM314 242h1v2h-1zM315 241h1v1h-1zM316 240h1v1h-1zM317 239h1v1h-1zM318 238h1v1h-1zM319 237h1v1h-1zM320 236h1v1h-1zM321 234h1v2h-1zM322 233h1v1h-1zM323 231h1v2h-1zM324 230h1v1h-1zM325 229h1v1h-1zM326 227h1v2h-1zM327 226h1v1h-1zM328 225h1v1h-1zM329 224h1v1h-1zM330 224h1v1h-1zM331 223h1v1h-1zM332 223h1v1h-1zM333 222h1v1h-1zM334 222h1v1h-1zM335 221h1v1h-1zM336 221h1v1h-1zM337 220h1v1h-1zM338 220h1v1h-1zM339 219h1v1h-1zM340 219h1v1h-1zM341 218h1v1h-1zM342 217h1v1h-1zM343 217h1v1h-1zM344 216h1v1h-1zM345 216h1v1h-1zM346 215h1v1h-1zM347 215h1v1h-1zM348 215h1v1h-1zM349 215h1v1h-1zM350 215h1v1h-1zM351 215h1v1h-1zM352 215h1v1h-1zM353 216h1v1h-1zM354 217h1v2h-1zM355 219h1v1h-1zM356 220h1v1h-1zM357 221h1v2h-1zM358 223h1v2h-1zM359 225h1v2h-1zM360 227h1v2h-1zM361 229h1v2h-1zM362 231h1v1h-1zM363 232h1v2h-1zM364 234h1v2h-1zM365 236h1v2h-1zM366 238h1v3h-1zM367 241h1v2h-1zM368 243h1v3h-1zM369 246h1v2h-1zM370 248h1v3h-1zM371 251h1v2h-1zM372 253h1v2h-1zM373 255h1v2h-1zM374 257h1v2h-1zM375 259h1v2h-1zM376 261h1v3h-1zM377 264h1v2h-1zM378 266h1v3h-1zM379 269h1v2h-1zM380 271h1v2h-1zM381 273h1v2h-1zM382 275h1v2h-1zM383 277h1v2h-1zM384 279h1v2h-1zM385 281h1v1h-1zM386 282h1v1h-1zM387 283h1v1h-1zM388 284h1v1h-1zM389 285h1v1h-1zM390 286h1v2h-1zM391 288h1v1h-1zM392 289h1v1h-1zM393 290h1v1h-1zM394 290h1v1h-1zM395 291h1v1h-1zM396 291h1v1h-1zM397 292h1v1h-1zM398 293h1v1h-1zM399 293h1v1h-1zM400 294h1v1h-1zM401 295h1v1h-1zM402 296h1v1h-1zM403 296h1v1h-1zM404 297h1v1h-1zM405 297h1v1h-1zM406 296h1v1h-1zM407 296h1v1h-1zM408 296h1v1h-1zM409 294h1v2h-1zM410 293h1v1h-1zM411 291h1v2h-1zM412 290h1v1h-1zM413 289h1v1h-1zM414 287h1v2h-1zM415 286h1v1h-1zM416 285h1v1h-1zM417 284h1v1h-1zM418 284h1v1h-1zM419 283h1v1h-1zM420 283h1v1h-1zM421 282h1v1h-1zM422 281h1v1h-1zM423 280h1v1h-1zM424 279h1v1h-1zM425 277h1v2h-1zM426 276h1v1h-1zM427 274h1v2h-1zM428 273h1v1h-1zM429 271h1v2h-1zM430 270h1v1h-1zM431 268h1v2h-1zM432 267h1v1h-1zM433 266h1v1h-1zM434 264h1v2h-1zM435 263h1v1h-1zM436 262h1v1h-1zM437 261h1v1h-1zM438 260h1v1h-1zM439 259h1v1h-1zM440 258h1v1h-1zM441 257h1v1h-1zM442 255h1v2h-1zM443 254h1v1h-1zM444 253h1v1h-1zM445 251h1v2h-1zM446 249h1v2h-1zM447 247h1v2h-1zM448 245h1v2h-1zM449 243h1v2h-1zM450 241h1v2h-1zM451 239h1v2h-1zM452 237h1v2h-1zM453 235h1v2h-1zM454 232h1v3h-1zM455 230h1v2h-1zM456 227h1v3h-1zM457 224h1v3h-1zM458 222h1v2h-1zM459 219h1v3h-1zM460 216h1v3h-1zM461 214h1v2h-1zM462 212h1v2h-1zM463 210h1v2h-1zM464 207h1v3h-1zM465 204h1v3h-1zM466 200h1v4h-1zM467 197h1v3h-1zM468 194h1v3h-1zM469 191h1v3h-1zM470 187h1v4h-1zM471 184h1v3h-1zM472 181h1v3h-1zM473 178h1v3h-1zM474 174h1v4h-1zM475 171h1v3h-1zM476 168h1v3h-1zM477 165h1v3h-1zM478 163h1v2h-1zM479 160h1v3h-1zM480 157h1v3h-1zM481 154h1v3h-1zM482 152h1v2h-1zM483 149h1v3h-1zM484 146h1v3h-1zM485 144h1v2h-1zM486 141h1v3h-1zM487 139h1v2h-1zM488 136h1v3h-1zM489 134h1v2h-1zM490 131h1v3h-1zM491 129h1v2h-1zM492 126h1v3h-1zM493 124h1v2h-1zM494 121h1v3h-1zM495 119h1v2h-1zM496 116h1v3h-1zM497 114h1v2h-1zM498 112h1v2h-1zM499 110h1v2h-1zM500 108h1v2h-1zM501 106h1v2h-1zM502 105h1v1h-1zM503 103h1v2h-1zM504 102h1v1h-1zM505 101h1v1h-1zM506 100h1v1h-1zM507 99h1v1h-1zM508 98h1v1h-1zM509 98h1v1h-1zM510 97h1v1h-1zM511 97h1v1h-1zM512 97h1v1h-1zM513 96h1v1h-1zM514 95h1v1h-1zM515 95h1v1h-1zM516 94h1v1h-1zM517 93h1v1h-1zM518 92h1v1h-1zM519 91h1v1h-1zM520 90h1v1h-1zM521 91h1v1h-1zM522 92h1v1h-1zM523 92h1v1h-1zM524 93h1v1h-1zM525 94h1v1h-1zM526 95h1v2h-1zM527 97h1v1h-1zM528 98h1v1h-1zM529 99h1v2h-1zM530 101h1v1h-1zM531 102h1v2h-1zM532 104h1v2h-1zM533 106h1v2h-1zM534 108h1v2h-1zM535 110h1v2h-1zM536 112h1v2h-1zM537 114h1v2h-1zM538 116h1v1h-1zM539 117h1v2h-1zM540 119h1v1h-1zM541 120h1v2h-1zM542 122h1v2h-1zM543 124h1v2h-1zM544 126h1v1h-1zM545 127h1v2h-1zM546 129h1v1h-1zM547 130h1v2h-1zM548 132h1v1h-1zM549 133h1v1h-1zM550 134h1v1h-1zM551 135h1v1h-1zM552 136h1v1h-1zM553 137h1v1h-1zM554 138h1v2h-1zM555 140h1v1h-1zM556 141h1v1h-1zM557 142h1v1h-1zM558 143h1v2h-1zM559 145h1v1h-1zM560 146h1v1h-1zM561 147h1v1h-1zM562 148h1v1h-1zM563 149h1v1h-1zM564 150h1v1h-1zM565 151h1v1h-1zM566 152h1v2h-1zM567 154h1v1h-1zM568 155h1v2h-1zM569 157h1v2h-1zM570 159h1v3h-1zM571 162h1v2h-1zM572 164h1v3h-1zM573 167h1v3h-1zM574 170h1v3h-1zM575 173h1v3h-1zM576 176h1v2h-1zM577 178h1v2h-1zM578 180h1v2h-1zM579 182h1v2h-1zM580 184h1v2h-1zM581 186h1v1h-1zM582 187h1v2h-1zM583 189h1v1h-1zM584 190h1v1h-1zM585 191h1v1h-1zM586 191h1v1h-1zM587 192h1v1h-1zM588 192h1v1h-1zM589 192h1v1h-1zM590 191h1v1h-1zM591 191h1v1h-1zM592 191h1v1h-1zM593 191h1v1h-1zM594 192h1v1h-1zM595 192h1v1h-1zM596 192h1v1h-1zM597 193h1v1h-1zM598 194h1v2h-1zM599 196h1v1h-1zM600 197h1v1h-1zM601 198h1v2h-1zM602 200h1v1h-1zM603 201h1v2h-1zM604 203h1v2h-1zM605 205h1v3h-1zM606 208h1v2h-1zM607 210h1v3h-1zM608 213h1v3h-1zM609 216h1v3h-1zM610 219h1v3h-1zM611 222h1v3h-1zM612 225h1v2h-1zM613 227h1v2h-1zM614 229h1v2h-1zM615 231h1v2h-1zM616 233h1v3h-1zM617 236h1v3h-1zM618 239h1v4h-1zM619 243h1v3h-1zM620 246h1v3h-1zM621 249h1v3h-1zM622 252h1v4h-1zM623 256h1v3h-1zM624 259h1v2h-1zM625 261h1v2h-1zM626 263h1v2h-1zM627 265h1v2h-1zM628 267h1v2h-1zM629 269h1v2h-1zM630 271h1v2h-1zM631 273h1v2h-1zM632 275h1v2h-1zM633 277h1v2h-1zM634 279h1v1h-1zM635 280h1v2h-1zM636 282h1v1h-1zM637 283h1v1h-1zM638 284h1v2h-1zM639 286h1v1h-1zM640 287h1v2h-1zM641 289h1v2h-1zM642 291h1v2h-1zM643 293h1v2h-1zM644 295h1v2h-1zM645 297h1v1h-1zM646 298h1v2h-1zM647 300h1v1h-1zM648 301h1v1h-1zM649 302h1v1h-1zM650 303h1v2h-1zM651 305h1v1h-1zM652 306h1v1h-1zM653 307h1v1h-1zM654 307h1v1h-1zM655 308h1v1h-1zM656 308h1v1h-1zM657 308h1v1h-1zM658 307h1v1h-1zM659 307h1v1h-1zM660 307h1v1h-1zM661 307h1v1h-1zM662 307h1v1h-1zM663 307h1v1h-1zM664 307h1v1h-1zM665 308h1v2h-1zM666 310h1v2h-1zM667 312h1v2h-1zM668 314h1v2h-1zM669 316h1v2h-1zM670 318h1v3h-1zM671 321h1v2h-1zM672 323h1v3h-1zM673 326h1v2h-1zM674 328h1v3h-1zM675 331h1v2h-1zM676 333h1v3h-1zM677 336h1v2h-1zM678 338h1v2h-1zM679 340h1v2h-1zM680 342h1v3h-1zM681 345h1v2h-1zM682 347h1v3h-1zM683 350h1v2h-1zM684 352h1v2h-1zM685 354h1v2h-1zM686 356h1v2h-1zM687 358h1v2h-1zM688 360h1v2h-1zM689 362h1v2h-1zM690 364h1v3h-1zM691 367h1v2h-1zM692 369h1v3h-1zM693 372h1v3h-1zM694 375h1v3h-1zM695 378h1v3h-1zM696 381h1v2h-1zM697 383h1v2h-1zM698 385h1v2h-1zM699 387h1v2h-1zM700 389h1v2h-1zM701 391h1v2h-1zM702 393h1v2h-1zM703 395h1v2h-1zM704 397h1v2h-1zM705 399h1v2h-1zM706 401h1v2h-1zM707 403h1v2h-1zM708 405h1v2h-1zM709 407h1v2h-1zM710 409h1v2h-1zM711 411h1v2h-1zM712 413h1v3h-1zM713 416h1v2h-1zM714 418h1v3h-1zM715 421h1v2h-1zM716 423h1v2h-1zM717 424h1v1h-1zM718 425h1v1h-1zM719 425h1v1h-1zM720 425h1v1h-1zM721 423h1v2h-1zM722 421h1v2h-1zM723 419h1v2h-1zM724 417h1v2h-1zM725 415h1v2h-1zM726 412h1v3h-1zM727 410h1v2h-1zM728 407h1v3h-1zM729 404h1v3h-1zM730 401h1v3h-1zM731 398h1v3h-1zM732 395h1v3h-1zM733 393h1v2h-1zM734 390h1v3h-1zM735 388h1v2h-1zM736 385h1v3h-1zM737 383h1v2h-1zM738 381h1v2h-1zM739 379h1v2h-1zM740 377h1v2h-1zM741 376h1v1h-1zM742 374h1v2h-1zM743 373h1v1h-1zM744 372h1v1h-1zM745 371h1v1h-1zM746 370h1v1h-1zM747 369h1v1h-1zM748 368h1v1h-1zM749 366h1v2h-1zM750 365h1v1h-1zM751 363h1v2h-1zM752 362h1v1h-1zM753 361h1v1h-1zM754 359h1v2h-1zM755 358h1v1h-1zM756 357h1v1h-1zM757 357h1v1h-1zM758 357h1v1h-1zM759 357h1v1h-1zM760 357h1v1h-1zM761 358h1v1h-1zM762 358h1v1h-1zM763 359h1v1h-1zM764 359h1v1h-1zM765 360h1v1h-1zM766 360h1v1h-1zM767 361h1v1h-1zM768 361h1v1h-1zM769 361h1v1h-1zM770 362h1v1h-1zM771 362h1v1h-1zM772 362h1v1h-1zM773 363h1v2h-1zM774 365h1v1h-1zM775 366h1v2h-1zM776 368h1v1h-1zM777 369h1v1h-1zM778 370h1v1h-1zM779 370h1v1h-1zM780 371h1v1h-1zM781 372h1v2h-1zM782 374h1v1h-1zM783 375h1v2h-1zM784 377h1v1h-1zM785 378h1v1h-1zM786 378h1v1h-1zM787 379h1v1h-1zM788 379h1v1h-1zM789 378h1v1h-1zM790 377h1v1h-1zM791 376h1v1h-1zM792 375h1v1h-1zM793 375h1v1h-1zM794 374h1v1h-1zM795 374h1v1h-1zM796 374h1v1h-1zM797 373h1v1h-1zM798 371h1v2h-1zM799 370h1v1h-1zM800 369h1v1h-1zM801 368h1v1h-1zM802 367h1v1h-1zM803 366h1v1h-1zM804 365h1v1h-1zM805 363h1v2h-1zM806 362h1v1h-1zM807 360h1v2h-1zM808 359h1v1h-1zM809 358h1v1h-1zM810 358h1v1h-1zM811 357h1v1h-1zM812 357h1v1h-1zM813 358h1v1h-1zM814 359h1v1h-1zM815 359h1v1h-1zM816 360h1v1h-1zM817 360h1v1h-1zM818 360h1v1h-1zM819 360h1v1h-1zM820 360h1v1h-1zM821 361h1v2h-1zM822 363h1v2h-1zM823 365h1v2h-1zM824 367h1v1h-1zM825 368h1v1h-1zM826 369h1v2h-1zM827 371h1v1h-1zM828 372h1v1h-1zM829 373h1v1h-1zM830 374h1v1h-1zM831 375h1v1h-1zM832 376h1v1h-1zM833 377h1v2h-1zM834 379h1v2h-1zM835 381h1v2h-1zM836 383h1v1h-1zM837 384h1v2h-1zM838 386h1v2h-1zM839 388h1v2h-1zM840 390h1v3h-1zM841 393h1v3h-1zM842 396h1v3h-1zM843 399h1v3h-1zM844 402h1v3h-1zM845 405h1v4h-1zM846 409h1v4h-1zM847 413h1v4h-1zM848 417h1v4h-1zM849 421h1v2h-1zM850 423h1v3h-1zM851 426h1v2h-1zM852 428h1v3h-1zM853 431h1v3h-1zM854 434h1v3h-1zM855 437h1v3h-1zM856 440h1v3h-1zM857 443h1v2h-1zM858 445h1v2h-1zM859 447h1v2h-1zM860 449h1v3h-1zM861 452h1v2h-1zM862 454h1v3h-1zM863 457h1v2h-1zM864 459h1v2h-1zM865 461h1v2h-1zM866 463h1v2h-1zM867 465h1v2h-1zM868 467h1v1h-1zM869 467h1v1h-1zM870 468h1v1h-1zM871 468h1v1h-1zM872 468h1v1h-1zM873 469h1v1h-1zM874 469h1v1h-1zM875 470h1v1h-1zM876 470h1v1h-1zM877 468h1v2h-1zM878 466h1v2h-1zM879 464h1v2h-1zM880 463h1v1h-1zM881 462h1v1h-1zM882 460h1v2h-1zM883 459h1v1h-1zM884 458h1v1h-1zM885 458h1v1h-1zM886 459h1v1h-1zM887 459h1v1h-1zM888 459h1v1h-1zM889 459h1v1h-1zM890 459h1v1h-1zM891 459h1v1h-1zM892 459h1v1h-1zM893 458h1v1h-1zM894 457h1v1h-1zM895 456h1v1h-1zM896 455h1v1h-1zM897 453h1v2h-1zM898 452h1v1h-1zM899 450h1v2h-1zM900 449h1v1h-1zM901 447h1v2h-1zM902 445h1v2h-1zM903 443h1v2h-1zM904 441h1v2h-1zM905 439h1v2h-1zM906 438h1v1h-1zM907 436h1v2h-1zM908 434h1v2h-1zM909 432h1v2h-1zM910 429h1v3h-1zM911 427h1v2h-1zM912 425h1v2h-1zM913 423h1v2h-1zM914 421h1v2h-1zM915 419h1v2h-1zM916 417h1v2h-1zM917 415h1v2h-1zM918 413h1v2h-1zM919 411h1v2h-1zM920 409h1v2h-1zM921 408h1v1h-1zM922 406h1v2h-1zM923 405h1v1h-1zM924 404h1v1h-1zM925 404h1v1h-1zM926 405h1v1h-1zM927 405h1v1h-1zM928 405h1v1h-1zM929 404h1v1h-1zM930 402h1v2h-1zM931 401h1v1h-1zM932 400h1v1h-1zM933 399h1v1h-1zM934 398h1v1h-1zM935 397h1v1h-1zM936 396h1v1h-1zM937 395h1v1h-1zM938 394h1v1h-1zM939 394h1v1h-1zM940 392h1v2h-1zM941 389h1v3h-1zM942 387h1v2h-1zM943 384h1v3h-1zM944 381h1v3h-1zM945 378h1v3h-1zM946 375h1v3h-1zM947 372h1v3h-1zM948 369h1v3h-1zM949 367h1v2h-1zM950 365h1v2h-1zM951 363h1v2h-1zM952 361h1v2h-1zM953 360h1v1h-1zM954 358h1v2h-1zM955 357h1v1h-1zM956 356h1v1h-1zM957 354h1v2h-1zM958 353h1v1h-1zM959 351h1v2h-1zM960 350h1v1h-1zM961 350h1v1h-1zM962 349h1v1h-1zM963 349h1v1h-1zM964 349h1v1h-1zM965 349h1v1h-1zM966 348h1v1h-1zM967 348h1v1h-1zM968 348h1v1h-1zM969 347h1v1h-1zM970 347h1v1h-1zM971 346h1v1h-1zM972 346h1v1h-1zM973 345h1v1h-1zM974 344h1v1h-1zM975 343h1v1h-1zM976 342h1v1h-1zM977 341h1v1h-1zM978 340h1v1h-1zM979 339h1v1h-1zM980 338h1v1h-1zM981 336h1v2h-1zM982 334h1v2h-1zM983 332h1v2h-1zM984 331h1v1h-1zM985 330h1v1h-1zM986 329h1v1h-1zM987 329h1v1h-1zM988 328h1v1h-1zM989 328h1v1h-1zM990 327h1v1h-1zM991 327h1v1h-1zM992 327h1v1h-1zM993 327h1v1h-1zM994 328h1v1h-1zM995 328h1v1h-1zM996 328h1v1h-1zM997 328h1v1h-1zM998 329h1v1h-1zM999 329h1v1h-1zM1000 329h1v1h-1zM1001 329h1v1h-1zM1002 328h1v1h-1zM1003 328h1v1h-1zM1004 328h1v1h-1zM1005 329h1v1h-1zM1006 329h1v1h-1zM1007 330h1v1h-1zM1008 330h1v1h-1zM1009 330h1v1h-1zM1010 329h1v1h-1zM1011 329h1v1h-1zM1012 329h1v1h-1zM1013 328h1v1h-1zM1014 327h1v1h-1zM1015 326h1v1h-1zM1016 325h1v1h-1zM1017 324h1v1h-1zM1018 323h1v1h-1zM1019 323h1v1h-1zM1020 322h1v1h-1zM1021 321h1v1h-1zM1022 320h1v1h-1zM1023 320h1v1h-1zM1024 319h1v1h-1zM1025 318h1v1h-1zM1026 317h1v1h-1zM1027 317h1v1h-1zM1028 316h1v1h-1zM1029 316h1v1h-1zM1030 317h1v1h-1zM1031 317h1v1h-1zM1032 317h1v1h-1zM1033 317h1v1h-1zM1034 316h1v1h-1zM1035 316h1v1h-1zM1036 316h1v1h-1zM1037 315h1v1h-1zM1038 315h1v1h-1zM1039 314h1v1h-1zM1040 314h1v1h-1zM1041 314h1v1h-1zM1042 313h1v1h-1zM1043 313h1v1h-1zM1044 313h1v1h-1zM1045 312h1v1h-1zM1046 312h1v1h-1zM1047 311h1v1h-1zM1048 311h1v1h-1zM1049 309h1v2h-1zM1050 308h1v1h-1zM1051 306h1v2h-1zM1052 305h1v1h-1zM1053 304h1v1h-1zM1054 303h1v1h-1zM1055 302h1v1h-1zM1056 301h1v1h-1zM1057 300h1v1h-1zM1058 299h1v1h-1zM1059 299h1v1h-1zM1060 298h1v1h-1zM1061 297h1v1h-1zM1062 296h1v1h-1zM1063 295h1v1h-1zM1064 294h1v1h-1zM1065 293h1v1h-1zM1066 292h1v1h-1zM1067 291h1v1h-1zM1068 290h1v1h-1zM1069 291h1v1h-1zM1070 291h1v1h-1zM1071 292h1v1h-1zM1072 292h1v1h-1zM1073 293h1v1h-1zM1074 294h1v1h-1zM1075 294h1v1h-1zM1076 295h1v1h-1zM1077 296h1v2h-1zM1078 298h1v2h-1zM1079 300h1v2h-1zM1080 302h1v1h-1zM1081 303h1v2h-1zM1082 305h1v2h-1zM1083 307h1v2h-1zM1084 309h1v2h-1zM1085 311h1v2h-1zM1086 313h1v1h-1zM1087 314h1v2h-1zM1088 316h1v1h-1zM1089 317h1v1h-1zM1090 317h1v1h-1zM1091 318h1v1h-1zM1092 318h1v1h-1zM1093 319h1v1h-1zM1094 320h1v1h-1zM1095 321h1v1h-1zM1096 322h1v1h-1zM1097 322h1v1h-1zM1098 322h1v1h-1zM1099 322h1v1h-1zM1100 322h1v1h-1zM1101 322h1v1h-1zM1102 321h1v1h-1zM1103 321h1v1h-1zM1104 321h1v1h-1zM1105 321h1v1h-1zM1106 322h1v1h-1zM1107 322h1v1h-1zM1108 322h1v1h-1zM1109 322h1v1h-1zM1110 323h1v1h-1zM1111 323h1v1h-1zM1112 323h1v1h-1zM1113 324h1v1h-1zM1114 325h1v1h-1zM1115 325h1v1h-1zM1116 326h1v1h-1zM1117 327h1v1h-1zM1118 328h1v2h-1zM1119 330h1v1h-1zM1120 331h1v1h-1zM1121 332h1v2h-1zM1122 334h1v2h-1zM1123 336h1v2h-1zM1124 338h1v1h-1zM1125 339h1v1h-1zM1126 340h1v2h-1zM1127 342h1v1h-1zM1128 343h1v1h-1z" fill="#ff0000" shape-rendering="crispEdges"/>
<path d="M4 287h1v2h-1zM5 289h1v3h-1zM6 292h1v3h-1zM7 295h1v3h-1zM8 298h1v2h-1zM9 300h1v2h-1zM10 302h1v2h-1zM11 304h1v2h-1zM12 306h1v2h-1zM13 308h1v2h-1zM14 310h1v1h-1zM15 311h1v2h-1zM16 313h1v1h-1zM17 314h1v2h-1zM18 316h1v2h-1zM19 318h1v2h-1zM20 320h1v2h-1zM21 322h1v2h-1zM22 324h1v1h-1zM23 325h1v2h-1zM24 327h1v1h-1zM25 326h1v1h-1zM26 324h1v2h-1zM27 323h1v1h-1zM28 321h1v2h-1zM29 318h1v3h-1zM30 316h1v2h-1zM31 313h1v3h-1zM32 311h1v2h-1zM33 310h1v1h-1zM34 309h1v1h-1zM35 309h1v1h-1zM36 308h1v1h-1zM37 307h1v1h-1zM38 306h1v1h-1zM39 305h1v1h-1zM40 304h1v1h-1zM41 303h1v1h-1zM42 303h1v1h-1zM43 302h1v1h-1zM44 302h1v1h-1zM45 303h1v2h-1zM46 305h1v2h-1zM47 307h1v2h-1zM48 309h1v1h-1zM49 309h1v1h-1zM50 308h1v1h-1zM51 308h1v1h-1zM52 308h1v1h-1zM53 309h1v1h-1zM54 310h1v2h-1zM55 312h1v1h-1zM56 313h1v2h-1zM57 315h1v4h-1zM58 319h1v3h-1zM59 322h1v4h-1zM60 326h1v2h-1zM61 328h1v2h-1zM62 330h1v2h-1zM63 332h1v2h-1zM64 334h1v2h-1zM65 334h1v1h-1zM66 333h1v1h-1zM67 333h1v1h-1zM68 332h1v2h-1zM69 334h1v2h-1zM70 336h1v2h-1zM71 338h1v2h-1zM72 340h1v2h-1zM73 342h1v1h-1zM74 342h1v1h-1zM75 343h1v1h-1zM76 343h1v2h-1zM77 345h1v4h-1zM78 349h1v3h-1zM79 352h1v4h-1zM80 356h1v3h-1zM81 359h1v4h-1zM82 363h1v4h-1zM83 367h1v4h-1zM84 371h1v3h-1zM85 374h1v1h-1zM86 375h1v2h-1zM87 377h1v1h-1zM88 378h1v1h-1zM89 377h1v1h-1zM90 376h1v1h-1zM91 375h1v1h-1zM92 374h1v2h-1zM93 376h1v2h-1zM94 378h1v2h-1zM95 380h1v2h-1zM96 382h1v2h-1zM97 383h1v1h-1zM98 384h1v1h-1zM99 384h1v1h-1zM100 384h1v1h-1zM101 384h1v1h-1zM102 384h1v1h-1zM103 384h1v1h-1zM104 384h1v1h-1zM105 385h1v2h-1zM106 387h1v1h-1zM107 388h1v2h-1zM108 390h1v1h-1zM109 390h1v1h-1zM110 390h1v1h-1zM111 390h1v1h-1zM112 390h1v2h-1zM113 392h1v2h-1zM114 394h1v3h-1zM115 397h1v2h-1zM116 399h1v2h-1zM117 401h1v2h-1zM118 403h1v2h-1zM119 405h1v2h-1zM120 407h1v1h-1zM121 408h1v1h-1zM122 409h1v1h-1zM123 409h1v1h-1zM124 410h1v1h-1zM125 411h1v1h-1zM126 412h1v1h-1zM127 412h1v1h-1zM128 413h1v1h-1zM129 414h1v2h-1zM130 416h1v1h-1zM131 417h1v2h-1zM132 418h1v2h-1zM133 415h1v3h-1zM134 413h1v2h-1zM135 410h1v3h-1zM136 407h1v3h-1zM137 404h1v3h-1zM138 402h1v2h-1zM139 399h1v3h-1zM140 394h1v5h-1zM141 388h1v6h-1zM142 382h1v6h-1zM143 376h1v6h-1zM144 371h1v5h-1zM145 367h1v4h-1zM146 364h1v3h-1zM147 360h1v4h-1zM148 357h1v3h-1zM149 353h1v4h-1zM150 350h1v3h-1zM151 346h1v4h-1zM152 343h1v3h-1zM153 339h1v4h-1zM154 335h1v4h-1zM155 331h1v4h-1zM156 326h1v5h-1zM157 321h1v5h-1zM158 316h1v5h-1zM159 311h1v5h-1zM160 307h1v4h-1zM161 305h1v2h-1zM162 302h1v3h-1zM163 300h1v2h-1zM164 298h1v2h-1zM165 296h1v2h-1zM166 295h1v1h-1zM167 293h1v2h-1zM168 292h1v1h-1zM169 292h1v1h-1zM170 293h1v1h-1zM171 293h1v1h-1zM172 293h1v1h-1zM173 294h1v1h-1zM174 295h1v1h-1zM175 295h1v1h-1zM176 296h1v1h-1zM177 297h1v1h-1zM178 298h1v1h-1zM179 299h1v1h-1zM180 300h1v1h-1zM181 301h1v1h-1zM182 302h1v1h-1zM183 303h1v1h-1zM184 304h1v1h-1zM185 305h1v1h-1zM186 306h1v1h-1zM187 307h1v1h-1zM188 308h1v1h-1zM189 308h1v1h-1zM190 309h1v1h-1zM191 309h1v1h-1zM192 309h1v1h-1zM193 309h1v1h-1zM194 310h1v1h-1zM195 310h1v1h-1zM196 310h1v1h-1zM197 309h1v1h-1zM198 308h1v1h-1zM199 308h1v1h-1zM200 307h1v1h-1zM201 305h1v2h-1zM202 303h1v2h-1zM203 301h1v2h-1zM204 299h1v2h-1zM205 297h1v2h-1zM206 295h1v2h-1zM207 293h1v2h-1zM208 290h1v3h-1zM209 288h1v2h-1zM210 286h1v2h-1zM211 284h1v2h-1zM212 281h1v3h-1zM213 278h1v3h-1zM214 276h1v2h-1zM215 273h1v3h-1zM216 271h1v2h-1zM217 269h1v2h-1zM218 267h1v2h-1zM219 265h1v2h-1zM220 264h1v1h-1zM221 262h1v2h-1zM222 261h1v1h-1zM223 259h1v2h-1zM224 257h1v2h-1zM225 254h1v3h-1zM226 252h1v2h-1zM227 249h1v3h-1zM228 246h1v3h-1zM229 244h1v2h-1zM230 241h1v3h-1zM231 239h1v2h-1zM232 236h1v3h-1zM233 233h1v3h-1zM234 231h1v2h-1zM235 228h1v3h-1zM236 226h1v2h-1zM237 225h1v1h-1zM238 224h1v1h-1zM239 223h1v1h-1zM240 222h1v1h-1zM241 221h1v1h-1zM242 221h1v1h-1zM243 220h1v1h-1zM244 220h1v1h-1zM245 218h1v2h-1zM246 217h1v1h-1zM247 215h1v2h-1zM248 214h1v1h-1zM249 212h1v2h-1zM250 210h1v2h-1zM251 208h1v2h-1zM252 207h1v1h-1zM253 208h1v1h-1zM254 209h1v1h-1zM255 210h1v1h-1zM256 211h1v1h-1zM257 212h1v2h-1zM258 214h1v2h-1zM259 216h1v2h-1zM260 218h1v2h-1zM261 220h1v2h-1zM262 222h1v3h-1zM263 225h1v2h-1zM264 227h1v2h-1zM265 229h1v2h-1zM266 231h1v1h-1zM267 232h1v2h-1zM268 234h1v1h-1zM269 235h1v2h-1zM270 237h1v1h-1zM271 238h1v2h-1zM272 240h1v1h-1zM273 241h1v1h-1zM274 242h1v2h-1zM275 244h1v1h-1zM276 245h1v1h-1zM277 246h1v2h-1zM278 248h1v1h-1zM279 249h1v2h-1zM280 251h1v1h-1zM281 251h1v1h-1zM282 252h1v1h-1zM283 252h1v1h-1zM284 252h1v1h-1zM285 253h1v1h-1zM286 254h1v1h-1zM287 255h1v1h-1zM288 256h1v1h-1zM289 257h1v1h-1zM290 257h1v1h-1zM291 258h1v1h-1zM292 258h1v1h-1zM293 259h1v1h-1zM294 259h1v1h-1zM295 260h1v1h-1zM296 260h1v1h-1zM297 260h1v1h-1zM298 261h1v1h-1zM299 261h1v1h-1zM300 261h1v1h-1zM301 259h1v2h-1zM302 258h1v1h-1zM303 256h1v2h-1zM304 255h1v1h-1zM305 254h1v1h-1zM306 252h1v2h-1zM307 251h1v1h-1zM308 249h1v2h-1zM309 246h1v3h-1zM310 242h1v4h-1zM311 239h1v3h-1zM312 236h1v3h-1zM313 233h1v3h-1zM314 230h1v3h-1zM315 227h1v3h-1zM316 224h1v3h-1zM317 221h1v3h-1zM318 219h1v2h-1zM319 216h1v3h-1zM320 213h1v3h-1zM321 209h1v4h-1zM322 206h1v3h-1zM323 202h1v4h-1zM324 199h1v3h-1zM325 196h1v3h-1zM326 194h1v2h-1zM327 191h1v3h-1zM328 189h1v2h-1zM329 189h1v1h-1zM330 190h1v1h-1zM331 190h1v1h-1zM332 190h1v1h-1zM333 190h1v1h-1zM334 191h1v1h-1zM335 191h1v1h-1zM336 191h1v2h-1zM337 193h1v3h-1zM338 196h1v2h-1zM339 198h1v3h-1zM340 201h1v2h-1zM341 203h1v1h-1zM342 204h1v2h-1zM343 206h1v1h-1zM344 207h1v2h-1zM345 209h1v2h-1zM346 211h1v2h-1zM347 213h1v2h-1zM348 215h1v3h-1zM349 218h1v4h-1zM350 222h1v3h-1zM351 225h1v4h-1zM352 229h1v4h-1zM353 233h1v5h-1zM354 238h1v6h-1zM355 244h1v5h-1zM356 249h1v4h-1zM357 253h1v4h-1zM358 257h1v3h-1zM359 260h1v4h-1zM360 264h1v3h-1zM361 267h1v3h-1zM362 270h1v3h-1zM363 273h1v3h-1zM364 276h1v3h-1zM365 279h1v2h-1zM366 281h1v3h-1zM367 284h1v2h-1zM368 286h1v3h-1zM369 289h1v3h-1zM370 292h1v4h-1zM371 296h1v3h-1zM372 299h1v3h-1zM373 302h1v2h-1zM374 304h1v2h-1zM375 306h1v2h-1zM376 308h1v2h-1zM377 310h1v1h-1zM378 311h1v2h-1zM379 313h1v1h-1zM380 314h1v1h-1zM381 312h1v2h-1zM382 311h1v1h-1zM383 309h1v2h-1zM384 308h1v1h-1zM385 307h1v1h-1zM386 305h1v2h-1zM387 304h1v1h-1zM388 303h1v1h-1zM389 303h1v1h-1zM390 302h1v1h-1zM391 302h1v1h-1zM392 302h1v1h-1zM393 300h1v2h-1zM394 299h1v1h-1zM395 297h1v2h-1zM396 296h1v1h-1zM397 294h1v2h-1zM398 292h1v2h-1zM399 290h1v2h-1zM400 288h1v2h-1zM401 287h1v1h-1zM402 286h1v1h-1zM403 285h1v1h-1zM404 284h1v1h-1zM405 282h1v2h-1zM406 281h1v1h-1zM407 279h1v2h-1zM408 278h1v1h-1zM409 276h1v2h-1zM410 275h1v1h-1zM411 273h1v2h-1zM412 272h1v1h-1zM413 271h1v1h-1zM414 269h1v2h-1zM415 268h1v1h-1zM416 267h1v1h-1zM417 266h1v1h-1zM418 265h1v1h-1zM419 264h1v1h-1zM420 263h1v1h-1zM421 263h1v1h-1zM422 262h1v1h-1zM423 262h1v1h-1zM424 262h1v1h-1zM425 261h1v1h-1zM426 259h1v2h-1zM427 258h1v1h-1zM428 257h1v1h-1zM429 255h1v2h-1zM430 253h1v2h-1zM431 251h1v2h-1zM432 250h1v1h-1zM433 249h1v1h-1zM434 248h1v1h-1zM435 248h1v1h-1zM436 247h1v1h-1zM437 246h1v1h-1zM438 245h1v1h-1zM439 244h1v1h-1zM440 243h1v1h-1zM441 242h1v1h-1zM442 241h1v1h-1zM443 240h1v1h-1zM444 238h1v2h-1zM445 235h1v3h-1zM446 233h1v2h-1zM447 230h1v3h-1zM448 227h1v3h-1zM449 224h1v3h-1zM450 220h1v4h-1zM451 217h1v3h-1zM452 213h1v4h-1zM453 209h1v4h-1zM454 205h1v4h-1zM455 201h1v4h-1zM456 197h1v4h-1zM457 193h1v4h-1zM458 190h1v3h-1zM459 186h1v4h-1zM460 183h1v3h-1zM461 179h1v4h-1zM462 175h1v4h-1zM463 171h1v4h-1zM464 167h1v4h-1zM465 161h1v6h-1zM466 156h1v5h-1zM467 150h1v6h-1zM468 145h1v5h-1zM469 140h1v5h-1zM470 134h1v6h-1zM471 129h1v5h-1zM472 125h1v4h-1zM473 121h1v4h-1zM474 117h1v4h-1zM475 113h1v4h-1zM476 110h1v3h-1zM477 107h1v3h-1zM478 105h1v2h-1zM479 102h1v3h-1zM480 100h1v2h-1zM481 99h1v1h-1zM482 97h1v2h-1zM483 96h1v1h-1zM484 95h1v1h-1zM485 93h1v2h-1zM486 92h1v1h-1zM487 90h1v2h-1zM488 89h1v1h-1zM489 88h1v1h-1zM490 86h1v2h-1zM491 85h1v1h-1zM492 84h1v1h-1zM493 85h1v1h-1zM494 86h1v1h-1zM495 87h1v1h-1zM496 88h1v1h-1zM497 88h1v1h-1zM498 89h1v1h-1zM499 89h1v1h-1zM500 89h1v1h-1zM501 90h1v1h-1zM502 91h1v1h-1zM503 92h1v1h-1zM504 93h1v1h-1zM505 94h1v1h-1zM506 95h1v1h-1zM507 95h1v1h-1zM508 96h1v1h-1zM509 97h1v1h-1zM510 97h1v1h-1zM511 98h1v1h-1zM512 98h1v1h-1zM513 98h1v1h-1zM514 98h1v1h-1zM515 98h1v1h-1zM516 98h1v1h-1zM517 97h1v1h-1zM518 97h1v1h-1zM519 96h1v1h-1zM520 96h1v1h-1zM521 97h1v1h-1zM522 98h1v1h-1zM523 98h1v1h-1zM524 99h1v1h-1zM525 100h1v2h-1zM526 102h1v2h-1zM527 104h1v2h-1zM528 106h1v3h-1zM529 109h1v2h-1zM530 111h1v2h-1zM531 113h1v2h-1zM532 115h1v3h-1zM533 118h1v3h-1zM534 121h1v4h-1zM535 125h1v3h-1zM536 128h1v3h-1zM537 131h1v3h-1zM538 134h1v2h-1zM539 136h1v3h-1zM540 139h1v3h-1zM541 142h1v4h-1zM542 146h1v3h-1zM543 149h1v4h-1zM544 153h1v3h-1zM545 156h1v3h-1zM546 159h1v4h-1zM547 163h1v3h-1zM548 166h1v2h-1zM549 168h1v1h-1zM550 169h1v2h-1zM551 171h1v1h-1zM552 172h1v1h-1zM553 173h1v1h-1zM554 173h1v1h-1zM555 174h1v1h-1zM556 174h1v1h-1zM557 175h1v1h-1zM558 176h1v1h-1zM559 176h1v1h-1zM560 177h1v1h-1zM561 175h1v2h-1zM562 173h1v2h-1zM563 171h1v2h-1zM564 170h1v1h-1zM565 170h1v1h-1zM566 170h1v1h-1zM567 170h1v1h-1zM568 170h1v1h-1zM569 171h1v2h-1zM570 173h1v1h-1zM571 174h1v2h-1zM572 176h1v2h-1zM573 178h1v3h-1zM574 181h1v2h-1zM575 183h1v3h-1zM576 186h1v3h-1zM577 189h1v3h-1zM578 192h1v2h-1zM579 194h1v3h-1zM580 197h1v2h-1zM581 199h1v2h-1zM582 201h1v2h-1zM583 203h1v2h-1zM584 205h1v2h-1zM585 207h1v1h-1zM586 207h1v1h-1zM587 208h1v1h-1zM588 208h1v1h-1zM589 209h1v1h-1zM590 210h1v1h-1zM591 210h1v1h-1zM592 211h1v1h-1zM593 212h1v1h-1zM594 213h1v1h-1zM595 213h1v1h-1zM596 214h1v1h-1zM597 215h1v1h-1zM598 216h1v1h-1zM599 216h1v1h-1zM600 217h1v1h-1zM601 218h1v1h-1zM602 218h1v1h-1zM603 219h1v1h-1zM604 219h1v2h-1zM605 221h1v3h-1zM606 224h1v3h-1zM607 227h1v3h-1zM608 230h1v3h-1zM609 233h1v4h-1zM610 237h1v3h-1zM611 240h1v4h-1zM612 244h1v3h-1zM613 247h1v4h-1zM614 251h1v4h-1zM615 255h1v4h-1zM616 259h1v5h-1zM617 264h1v5h-1zM618 269h1v6h-1zM619 275h1v5h-1zM620 280h1v6h-1zM621 286h1v6h-1zM622 292h1v6h-1zM623 298h1v6h-1zM624 304h1v5h-1zM625 309h1v3h-1zM626 312h1v4h-1zM627 316h1v3h-1zM628 319h1v3h-1zM629 322h1v3h-1zM630 325h1v4h-1zM631 329h1v3h-1zM632 332h1v2h-1zM633 333h1v1h-1zM634 333h1v1h-1zM635 333h1v1h-1zM636 333h1v1h-1zM637 332h1v1h-1zM638 331h1v1h-1zM639 331h1v1h-1zM640 330h1v1h-1zM641 330h1v1h-1zM642 330h1v1h-1zM643 330h1v1h-1zM644 329h1v2h-1zM645 327h1v2h-1zM646 325h1v2h-1zM647 323h1v2h-1zM648 320h1v3h-1zM649 316h1v4h-1zM650 312h1v4h-1zM651 308h1v4h-1zM652 305h1v3h-1zM653 302h1v3h-1zM654 300h1v2h-1zM655 297h1v3h-1zM656 294h1v3h-1zM657 290h1v4h-1zM658 287h1v3h-1zM659 283h1v4h-1zM660 281h1v2h-1zM661 281h1v1h-1zM662 281h1v1h-1zM663 281h1v1h-1zM664 281h1v3h-1zM665 284h1v4h-1zM666 288h1v4h-1zM667 292h1v4h-1zM668 296h1v5h-1zM669 301h1v5h-1zM670 306h1v5h-1zM671 311h1v5h-1zM672 316h1v6h-1zM673 322h1v8h-1zM674 330h1v7h-1zM675 337h1v8h-1zM676 345h1v8h-1zM677 353h1v8h-1zM678 361h1v8h-1zM679 369h1v8h-1zM680 377h1v8h-1zM681 385h1v7h-1zM682 392h1v8h-1zM683 400h1v7h-1zM684 407h1v7h-1zM685 414h1v7h-1zM686 421h1v8h-1zM687 429h1v7h-1zM688 436h1v6h-1zM689 442h1v5h-1zM690 447h1v5h-1zM691 452h1v5h-1zM692 457h1v3h-1zM693 460h1v2h-1zM694 462h1v2h-1zM695 464h1v2h-1zM696 466h1v1h-1zM697 465h1v1h-1zM698 464h1v1h-1zM699 463h1v1h-1zM700 461h1v2h-1zM701 457h1v4h-1zM702 454h1v3h-1zM703 450h1v4h-1zM704 446h1v4h-1zM705 442h1v4h-1zM706 438h1v4h-1zM707 434h1v4h-1zM708 430h1v4h-1zM709 427h1v3h-1zM710 423h1v4h-1zM711 420h1v3h-1zM712 417h1v3h-1zM713 415h1v2h-1zM714 413h1v2h-1zM715 411h1v2h-1zM716 407h1v4h-1zM717 402h1v5h-1zM718 398h1v4h-1zM719 393h1v5h-1zM720 388h1v5h-1zM721 383h1v5h-1zM722 379h1v4h-1zM723 374h1v5h-1zM724 369h1v5h-1zM725 365h1v4h-1zM726 360h1v5h-1zM727 356h1v4h-1zM728 353h1v3h-1zM729 351h1v2h-1zM730 349h1v2h-1zM731 347h1v2h-1zM732 345h1v2h-1zM733 344h1v1h-1zM734 343h1v1h-1zM735 343h1v1h-1zM736 342h1v1h-1zM737 340h1v2h-1zM738 338h1v2h-1zM739 336h1v2h-1zM740 335h1v1h-1zM741 335h1v1h-1zM742 336h1v1h-1zM743 336h1v1h-1zM744 336h1v2h-1zM745 338h1v2h-1zM746 340h1v2h-1zM747 342h1v2h-1zM748 344h1v3h-1zM749 347h1v2h-1zM750 349h1v2h-1zM751 351h1v2h-1zM752 353h1v2h-1zM753 355h1v2h-1zM754 357h1v2h-1zM755 359h1v2h-1zM756 361h1v2h-1zM757 363h1v2h-1zM758 365h1v2h-1zM759 367h1v2h-1zM760 369h1v2h-1zM761 371h1v2h-1zM762 373h1v1h-1zM763 374h1v2h-1zM764 376h1v2h-1zM765 378h1v2h-1zM766 380h1v3h-1zM767 383h1v2h-1zM768 385h1v2h-1zM769 387h1v1h-1zM770 387h1v1h-1zM771 388h1v1h-1zM772 388h1v1h-1zM773 389h1v1h-1zM774 389h1v1h-1zM775 390h1v1h-1zM776 390h1v1h-1zM777 390h1v1h-1zM778 389h1v1h-1zM779 389h1v1h-1zM780 389h1v1h-1zM781 390h1v1h-1zM782 391h1v1h-1zM783 392h1v1h-1zM784 393h1v1h-1zM785 392h1v1h-1zM786 390h1v2h-1zM787 389h1v1h-1zM788 387h1v2h-1zM789 383h1v4h-1zM790 380h1v3h-1zM791 376h1v4h-1zM792 373h1v3h-1zM793 370h1v3h-1zM794 366h1v4h-1zM795 363h1v3h-1zM796 360h1v3h-1zM797 357h1v3h-1zM798 355h1v2h-1zM799 352h1v3h-1zM800 349h1v3h-1zM801 347h1v2h-1zM802 344h1v3h-1zM803 342h1v2h-1zM804 339h1v3h-1zM805 336h1v3h-1zM806 334h1v2h-1zM807 331h1v3h-1zM808 328h1v3h-1zM809 326h1v2h-1zM810 324h1v2h-1zM811 322h1v2h-1zM812 320h1v2h-1zM813 322h1v3h-1zM814 325h1v2h-1zM815 327h1v3h-1zM816 330h1v3h-1zM817 333h1v4h-1zM818 337h1v3h-1zM819 340h1v4h-1zM820 344h1v5h-1zM821 349h1v7h-1zM822 356h1v7h-1zM823 363h1v7h-1zM824 370h1v6h-1zM825 376h1v5h-1zM826 381h1v5h-1zM827 386h1v5h-1zM828 391h1v5h-1zM829 396h1v5h-1zM830 401h1v5h-1zM831 406h1v5h-1zM832 411h1v6h-1zM833 417h1v6h-1zM834 423h1v6h-1zM835 429h1v6h-1zM836 435h1v6h-1zM837 441h1v6h-1zM838 447h1v6h-1zM839 453h1v6h-1zM840 459h1v5h-1zM841 464h1v3h-1zM842 467h1v4h-1zM843 471h1v3h-1zM844 474h1v4h-1zM845 478h1v4h-1zM846 482h1v4h-1zM847 486h1v4h-1zM848 490h1v3h-1zM849 490h1v2h-1zM850 488h1v2h-1zM851 486h1v2h-1zM852 485h1v1h-1zM853 486h1v1h-1zM854 487h1v1h-1zM855 487h1v1h-1zM856 488h1v1h-1zM857 487h1v1h-1zM858 487h1v1h-1zM859 486h1v1h-1zM860 486h1v1h-1zM861 485h1v1h-1zM862 483h1v2h-1zM863 482h1v1h-1zM864 480h1v2h-1zM865 478h1v2h-1zM866 476h1v2h-1zM867 474h1v2h-1zM868 471h1v3h-1zM869 468h1v3h-1zM870 465h1v3h-1zM871 462h1v3h-1zM872 459h1v3h-1zM873 456h1v3h-1zM874 454h1v2h-1zM875 451h1v3h-1zM876 449h1v2h-1zM877 447h1v2h-1zM878 445h1v2h-1zM879 443h1v2h-1zM880 440h1v3h-1zM881 437h1v3h-1zM882 434h1v3h-1zM883 431h1v3h-1zM884 429h1v2h-1zM885 430h1v1h-1zM886 430h1v1h-1zM887 431h1v1h-1zM888 431h1v1h-1zM889 432h1v2h-1zM890 434h1v2h-1zM891 436h1v2h-1zM892 438h1v1h-1zM893 438h1v1h-1zM894 438h1v1h-1zM895 438h1v1h-1zM896 438h1v1h-1zM897 438h1v1h-1zM898 438h1v1h-1zM899 438h1v1h-1zM900 438h1v1h-1zM901 437h1v1h-1zM902 436h1v1h-1zM903 435h1v1h-1zM904 434h1v1h-1zM905 433h1v1h-1zM906 431h1v2h-1zM907 430h1v1h-1zM908 428h1v2h-1zM909 426h1v2h-1zM910 424h1v2h-1zM911 422h1v2h-1zM912 418h1v4h-1zM913 414h1v4h-1zM914 409h1v5h-1zM915 405h1v4h-1zM916 400h1v5h-1zM917 394h1v6h-1zM918 389h1v5h-1zM919 383h1v6h-1zM920 379h1v4h-1zM921 377h1v2h-1zM922 375h1v2h-1zM923 373h1v2h-1zM924 371h1v2h-1zM925 371h1v1h-1zM926 371h1v1h-1zM927 371h1v1h-1zM928 371h1v1h-1zM929 369h1v2h-1zM930 368h1v1h-1zM931 366h1v2h-1zM932 365h1v1h-1zM933 364h1v1h-1zM934 364h1v1h-1zM935 363h1v1h-1zM936 363h1v1h-1zM937 364h1v1h-1zM938 365h1v1h-1zM939 365h1v1h-1zM940 366h1v1h-1zM941 365h1v1h-1zM942 364h1v1h-1zM943 363h1v1h-1zM944 362h1v1h-1zM945 362h1v1h-1zM946 361h1v1h-1zM947 361h1v1h-1zM948 360h1v2h-1zM949 358h1v2h-1zM950 356h1v2h-1zM951 354h1v2h-1zM952 351h1v3h-1zM953 348h1v3h-1zM954 345h1v3h-1zM955 342h1v3h-1zM956 340h1v2h-1zM957 338h1v2h-1zM958 337h1v1h-1zM959 335h1v2h-1zM960 334h1v1h-1zM961 335h1v1h-1zM962 335h1v1h-1zM963 336h1v1h-1zM964 336h1v1h-1zM965 334h1v2h-1zM966 333h1v1h-1zM967 331h1v2h-1zM968 330h1v1h-1zM969 330h1v1h-1zM970 330h1v1h-1zM971 330h1v1h-1zM972 330h1v1h-1zM973 328h1v2h-1zM974 326h1v2h-1zM975 324h1v2h-1zM976 323h1v1h-1zM977 323h1v1h-1zM978 324h1v1h-1zM979 324h1v1h-1zM980 324h1v1h-1zM981 323h1v1h-1zM982 323h1v1h-1zM983 322h1v1h-1zM984 322h1v1h-1zM985 322h1v1h-1zM986 322h1v1h-1zM987 322h1v1h-1zM988 322h1v1h-1zM989 321h1v1h-1zM990 320h1v1h-1zM991 319h1v1h-1zM992 318h1v2h-1zM993 320h1v2h-1zM994 322h1v2h-1zM995 324h1v2h-1zM996 326h1v2h-1zM997 328h1v1h-1zM998 328h1v1h-1zM999 329h1v1h-1zM1000 329h1v1h-1zM1001 330h1v1h-1zM1002 331h1v1h-1zM1003 332h1v1h-1zM1004 333h1v1h-1zM1005 334h1v1h-1zM1006 334h1v1h-1zM1007 335h1v1h-1zM1008 335h1v1h-1zM1009 335h1v1h-1zM1010 336h1v1h-1zM1011 336h1v1h-1zM1012 336h1v1h-1zM1013 334h1v2h-1zM1014 332h1v2h-1zM1015 330h1v2h-1zM1016 329h1v1h-1zM1017 328h1v1h-1zM1018 327h1v1h-1zM1019 326h1v1h-1zM1020 324h1v2h-1zM1021 321h1v3h-1zM1022 317h1v4h-1zM1023 314h1v3h-1zM1024 311h1v3h-1zM1025 309h1v2h-1zM1026 307h1v2h-1zM1027 305h1v2h-1zM1028 303h1v2h-1zM1029 302h1v1h-1zM1030 302h1v1h-1zM1031 301h1v1h-1zM1032 301h1v1h-1zM1033 300h1v1h-1zM1034 299h1v1h-1zM1035 298h1v1h-1zM1036 297h1v1h-1zM1037 296h1v1h-1zM1038 294h1v2h-1zM1039 293h1v1h-1zM1040 292h1v1h-1zM1041 293h1v2h-1zM1042 295h1v1h-1zM1043 296h1v2h-1zM1044 298h1v1h-1zM1045 298h1v1h-1zM1046 298h1v1h-1zM1047 298h1v1h-1zM1048 298h1v1h-1zM1049 298h1v1h-1zM1050 298h1v1h-1zM1051 298h1v1h-1zM1052 298h1v1h-1zM1053 298h1v1h-1zM1054 299h1v1h-1zM1055 299h1v1h-1zM1056 299h1v1h-1zM1057 298h1v1h-1zM1058 297h1v1h-1zM1059 297h1v1h-1zM1060 296h1v1h-1zM1061 295h1v1h-1zM1062 293h1v2h-1zM1063 292h1v1h-1zM1064 291h1v1h-1zM1065 290h1v1h-1zM1066 289h1v1h-1zM1067 288h1v1h-1zM1068 287h1v1h-1zM1069 286h1v1h-1zM1070 286h1v1h-1zM1071 285h1v1h-1zM1072 285h1v1h-1zM1073 286h1v2h-1zM1074 288h1v2h-1zM1075 290h1v2h-1zM1076 292h1v2h-1zM1077 294h1v3h-1zM1078 297h1v4h-1zM1079 301h1v3h-1zM1080 304h1v3h-1zM1081 307h1v4h-1zM1082 311h1v4h-1zM1083 315h1v4h-1zM1084 319h1v4h-1zM1085 323h1v4h-1zM1086 327h1v4h-1zM1087 331h1v4h-1zM1088 335h1v3h-1zM1089 338h1v2h-1zM1090 340h1v3h-1zM1091 343h1v2h-1zM1092 345h1v3h-1zM1093 348h1v2h-1zM1094 350h1v3h-1zM1095 353h1v2h-1zM1096 355h1v2h-1zM1097 357h1v1h-1zM1098 357h1v1h-1zM1099 358h1v1h-1zM1100 358h1v1h-1zM1101 356h1v2h-1zM1102 354h1v2h-1zM1103 352h1v2h-1zM1104 349h1v3h-1zM1105 346h1v3h-1zM1106 343h1v3h-1zM1107 340h1v3h-1zM1108 337h1v3h-1zM1109 334h1v3h-1zM1110 330h1v4h-1zM1111 327h1v3h-1zM1112 324h1v3h-1zM1113 322h1v2h-1zM1114 319h1v3h-1zM1115 317h1v2h-1zM1116 315h1v2h-1zM1117 315h1v1h-1zM1118 316h1v1h-1zM1119 316h1v1h-1zM1120 316h1v1h-1zM1121 317h1v1h-1zM1122 318h1v2h-1zM1123 320h1v1h-1zM1124 321h1v1h-1zM1125 322h1v2h-1zM1126 324h1v2h-1zM1127 326h1v2h-1zM1128 328h1v1h-1z" fill="#0000ff" shape-rendering="crispEdges"/>
</g>
<g shape-rendering="crispEdges">
<rect x="4" y="96" width="1417" height="3" fill="#ff0000" />
<rect x="4" y="200" width="1417" height="3" fill="#ff0000" />
<rect x="3" y="198" width="7" height="7" fill="#ff0000" />
<rect x="6" y="201" width="1" height="1" fill="#fff" />
<rect x="1413" y="198" width="8" height="7" fill="#ff0000" />
<rect x="1416" y="201" width="1" height="1" fill="#fff" />
<rect x="4" y="296" width="1417" height="3" fill="#00ff00" />
<rect x="3" y="294" width="7" height="7" fill="#00ff00" />
<rect x="6" y="297" width="1" height="1" fill="#fff" />
<rect x="1413" y="294" width="8" height="7" fill="#00ff00" />
<rect x="1416" y="297" width="1" height="1" fill="#fff" />
<rect x="4" y="425" width="1417" height="3" fill="#0000ff" />
<rect x="4" y="512" width="1417" height="3" fill="#0000ff" />
</g>
<g clip-path="url(#c2)" shape-rendering="crispEdges">
<rect x="4" y="611" width="1" height="15" fill="#c0c0c0" />
<rect x="8" y="611" width="1" height="18" fill="#c0c0c0" />
<rect x="12" y="611" width="1" height="19" fill="#c0c0c0" />
<rect x="16" y="611" width="1" height="19" fill="#c0c0c0" />
<rect x="20" y="611" width="1" height="18" fill="#c0c0c0" />
<rect x="24" y="611" width="1" height="17" fill="#c0c0c0" />
<rect x="28" y="611" width="1" height="13" fill="#c0c0c0" />
<rect x="32" y="611" width="1" height="10" fill="#c0c0c0" />
<rect x="36" y="611" width="1" height="11" fill="#c0c0c0" />
<rect x="40" y="611" width="1" height="11" fill="#c0c0c0" />
<rect x="44" y="611" width="1" height="10" fill="#c0c0c0" />
<rect x="48" y="611" width="1" height="14" fill="#c0c0c0" />
<rect x="52" y="611" width="1" height="12" fill="#c0c0c0" />
<rect x="56" y="611" width="1" height="11" fill="#c0c0c0" />
<rect x="60" y="611" width="1" height="14" fill="#c0c0c0" />
<rect x="64" y="611" width="1" height="17" fill="#c0c0c0" />
<rect x="68" y="611" width="1" height="14" fill="#c0c0c0" />
<rect x="72" y="611" width="1" height="16" fill="#c0c0c0" />
<rect x="76" y="611" width="1" height="18" fill="#c0c0c0" />
<rect x="80" y="611" width="1" height="21" fill="#c0c0c0" />
<rect x="84" y="611" width="1" height="24" fill="#c0c0c0" />
<rect x="88" y="611" width="1" height="26" fill="#c0c0c0" />
<rect x="92" y="611" width="1" height="23" fill="#c0c0c0" />
<rect x="96" y="611" width="1" height="21" fill="#c0c0c0" />
<rect x="100" y="611" width="1" height="20" fill="#c0c0c0" />
<rect x="104" y="611" width="1" height="20" fill="#c0c0c0" />
<rect x="108" y="611" width="1" height="23" fill="#c0c0c0" />
<rect x="112" y="611" width="1" height="24" fill="#c0c0c0" />
<rect x="116" y="611" width="1" height="29" fill="#c0c0c0" />
<rect x="120" y="611" width="1" height="27" fill="#c0c0c0" />
<rect x="124" y="611" width="1" height="24" fill="#c0c0c0" />
<rect x="128" y="611" width="1" height="22" fill="#c0c0c0" />
<rect x="132" y="611" width="1" height="22" fill="#c0c0c0" />
<rect x="136" y="611" width="1" height="18" fill="#c0c0c0" />
<rect x="140" y="611" width="1" height="13" fill="#c0c0c0" />
<rect x="144" y="611" width="1" height="7" fill="#c0c0c0" />
<rect x="152" y="606" width="1" height="5" fill="#c0c0c0" />
<rect x="156" y="602" width="1" height="9" fill="#c0c0c0" />
<rect x="160" y="598" width="1" height="13" fill="#c0c0c0" />
<rect x="164" y="597" width="1" height="14" fill="#c0c0c0" />
<rect x="168" y="596" width="1" height="15" fill="#c0c0c0" />
<rect x="172" y="596" width="1" height="15" fill="#c0c0c0" />
<rect x="176" y="598" width="1" height="13" fill="#c0c0c0" />
<rect x="180" y="599" width="1" height="12" fill="#c0c0c0" />
<rect x="184" y="598" width="1" height="13" fill="#c0c0c0" />
<rect x="188" y="599" width="1" height="12" fill="#c0c0c0" />
<rect x="192" y="599" width="1" height="12" fill="#c0c0c0" />
<rect x="196" y="599" width="1" height="12" fill="#c0c0c0" />
<rect x="200" y="598" width="1" height="13" fill="#c0c0c0" />
<rect x="204" y="597" width="1" height="14" fill="#c0c0c0" />
<rect x="208" y="595" width="1" height="16" fill="#c0c0c0" />
<rect x="212" y="592" width="1" height="19" fill="#c0c0c0" />
<rect x="216" y="590" width="1" height="21" fill="#c0c0c0" />
<rect x="220" y="590" width="1" height="21" fill="#c0c0c0" />
<rect x="224" y="590" width="1" height="21" fill="#c0c0c0" />
<rect x="228" y="588" width="1" height="23" fill="#c0c0c0" />
<rect x="232" y="585" width="1" height="26" fill="#c0c0c0" />
<rect x="236" y="582" width="1" height="29" fill="#c0c0c0" />
<rect x="240" y="582" width="1" height="29" fill="#c0c0c0" />
<rect x="244" y="582" width="1" height="29" fill="#c0c0c0" />
<rect x="248" y="583" width="1" height="28" fill="#c0c0c0" />
<rect x="252" y="584" width="1" height="27" fill="#c0c0c0" />
<rect x="256" y="587" width="1" height="24" fill="#c0c0c0" />
<rect x="260" y="590" width="1" height="21" fill="#c0c0c0" />
<rect x="264" y="593" width="1" height="18" fill="#c0c0c0" />
<rect x="268" y="595" width="1" height="16" fill="#c0c0c0" />
<rect x="272" y="598" width="1" height="13" fill="#c0c0c0" />
<rect x="276" y="599" width="1" height="12" fill="#c0c0c0" />
<rect x="280" y="601" width="1" height="10" fill="#c0c0c0" />
<rect x="284" y="602" width="1" height="9" fill="#c0c0c0" />
<rect x="288" y="605" width="1" height="6" fill="#c0c0c0" />
<rect x="292" y="606" width="1" height="5" fill="#c0c0c0" />
<rect x="296" y="607" width="1" height="4" fill="#c0c0c0" />
<rect x="300" y="608" width="1" height="3" fill="#c0c0c0" />
<rect x="304" y="606" width="1" height="5" fill="#c0c0c0" />
<rect x="308" y="604" width="1" height="7" fill="#c0c0c0" />
<rect x="312" y="599" width="1" height="12" fill="#c0c0c0" />
<rect x="316" y="597" width="1" height="14" fill="#c0c0c0" />
<rect x="320" y="595" width="1" height="16" fill="#c0c0c0" />
<rect x="324" y="593" width="1" height="18" fill="#c0c0c0" />
<rect x="328" y="593" width="1" height="18" fill="#c0c0c0" />
<rect x="332" y="595" width="1" height="16" fill="#c0c0c0" />
<rect x="336" y="597" width="1" height="14" fill="#c0c0c0" />
<rect x="340" y="600" width="1" height="11" fill="#c0c0c0" />
<rect x="344" y="602" width="1" height="9" fill="#c0c0c0" />
<rect x="348" y="604" width="1" height="7" fill="#c0c0c0" />
<rect x="352" y="608" width="1" height="3" fill="#c0c0c0" />
<rect x="356" y="611" width="1" height="5" fill="#c0c0c0" />
<rect x="360" y="611" width="1" height="10" fill="#c0c0c0" />
<rect x="364" y="611" width="1" height="13" fill="#c0c0c0" />
<rect x="368" y="611" width="1" height="15" fill="#c0c0c0" />
<rect x="372" y="611" width="1" height="17" fill="#c0c0c0" />
<rect x="376" y="611" width="1" height="18" fill="#c0c0c0" />
<rect x="380" y="611" width="1" height="18" fill="#c0c0c0" />
<rect x="384" y="611" width="1" height="17" fill="#c0c0c0" />
<rect x="388" y="611" width="1" height="16" fill="#c0c0c0" />
<rect x="392" y="611" width="1" height="16" fill="#c0c0c0" />
<rect x="396" y="611" width="1" height="13" fill="#c0c0c0" />
<rect x="400" y="611" width="1" height="11" fill="#c0c0c0" />
<rect x="404" y="611" width="1" height="10" fill="#c0c0c0" />
<rect x="408" y="611" width="1" height="7" fill="#c0c0c0" />
<rect x="412" y="611" width="1" height="6" fill="#c0c0c0" />
<rect x="416" y="611" width="1" height="4" fill="#c0c0c0" />
<rect x="420" y="611" width="1" height="3" fill="#c0c0c0" />
<rect x="424" y="611" width="1" height="2" fill="#c0c0c0" />
<rect x="428" y="610" width="1" height="1" fill="#c0c0c0" />
<rect x="432" y="608" width="1" height="3" fill="#c0c0c0" />
<rect x="436" y="606" width="1" height="5" fill="#c0c0c0" />
<rect x="440" y="605" width="1" height="6" fill="#c0c0c0" />
<rect x="444" y="603" width="1" height="8" fill="#c0c0c0" />
<rect x="448" y="600" width="1" height="11" fill="#c0c0c0" />
<rect x="452" y="596" width="1" height="15" fill="#c0c0c0" />
<rect x="456" y="590" width="1" height="21" fill="#c0c0c0" />
<rect x="460" y="586" width="1" height="25" fill="#c0c0c0" />
<rect x="464" y="582" width="1" height="29" fill="#c0c0c0" />
<rect x="468" y="577" width="1" height="34" fill="#c0c0c0" />
<rect x="472" y="574" width="1" height="37" fill="#c0c0c0" />
<rect x="476" y="571" width="1" height="40" fill="#c0c0c0" />
<rect x="480" y="570" width="1" height="41" fill="#c0c0c0" />
<rect x="484" y="570" width="1" height="41" fill="#c0c0c0" />
<rect x="488" y="570" width="1" height="41" fill="#c0c0c0" />
<rect x="492" y="571" width="1" height="40" fill="#c0c0c0" />
<rect x="496" y="573" width="1" height="38" fill="#c0c0c0" />
<rect x="500" y="574" width="1" height="37" fill="#c0c0c0" />
<rect x="504" y="576" width="1" height="35" fill="#c0c0c0" />
<rect x="508" y="579" width="1" height="32" fill="#c0c0c0" />
<rect x="512" y="581" width="1" height="30" fill="#c0c0c0" />
<rect x="516" y="582" width="1" height="29" fill="#c0c0c0" />
<rect x="520" y="582" width="1" height="29" fill="#c0c0c0" />
<rect x="524" y="586" width="1" height="25" fill="#c0c0c0" />
<rect x="528" y="590" width="1" height="21" fill="#c0c0c0" />
<rect x="532" y="595" width="1" height="16" fill="#c0c0c0" />
<rect x="536" y="603" width="1" height="8" fill="#c0c0c0" />
<rect x="540" y="606" width="1" height="5" fill="#c0c0c0" />
<rect x="544" y="610" width="1" height="1" fill="#c0c0c0" />
<rect x="552" y="611" width="1" height="2" fill="#c0c0c0" />
<rect x="556" y="611" width="1" height="3" fill="#c0c0c0" />
<rect x="560" y="611" width="1" height="4" fill="#c0c0c0" />
<rect x="564" y="611" width="1" height="4" fill="#c0c0c0" />
<rect x="568" y="611" width="1" height="5" fill="#c0c0c0" />
<rect x="572" y="611" width="1" height="10" fill="#c0c0c0" />
<rect x="576" y="611" width="1" height="14" fill="#c0c0c0" />
<rect x="580" y="611" width="1" height="17" fill="#c0c0c0" />
<rect x="584" y="611" width="1" height="18" fill="#c0c0c0" />
<rect x="588" y="611" width="1" height="16" fill="#c0c0c0" />
<rect x="592" y="611" width="1" height="14" fill="#c0c0c0" />
<rect x="596" y="611" width="1" height="14" fill="#c0c0c0" />
<rect x="600" y="611" width="1" height="16" fill="#c0c0c0" />
<rect x="604" y="611" width="1" height="19" fill="#c0c0c0" />
<rect x="608" y="611" width="1" height="25" fill="#c0c0c0" />
<rect x="612" y="611" width="1" height="30" fill="#c0c0c0" />
<rect x="616" y="611" width="1" height="32" fill="#c0c0c0" />
<rect x="620" y="611" width="1" height="35" fill="#c0c0c0" />
<rect x="624" y="611" width="1" height="40" fill="#c0c0c0" />
<rect x="628" y="611" width="1" height="41" fill="#c0c0c0" />
<rect x="632" y="611" width="1" height="42" fill="#c0c0c0" />
<rect x="636" y="611" width="1" height="40" fill="#c0c0c0" />
<rect x="640" y="611" width="1" height="37" fill="#c0c0c0" />
<rect x="644" y="611" width="1" height="35" fill="#c0c0c0" />
<rect x="648" y="611" width="1" height="30" fill="#c0c0c0" />
<rect x="652" y="611" width="1" height="26" fill="#c0c0c0" />
<rect x="656" y="611" width="1" height="22" fill="#c0c0c0" />
<rect x="660" y="611" width="1" height="18" fill="#c0c0c0" />
<rect x="664" y="611" width="1" height="19" fill="#c0c0c0" />
<rect x="668" y="611" width="1" height="27" fill="#c0c0c0" />
<rect x="672" y="611" width="1" height="35" fill="#c0c0c0" />
<rect x="676" y="611" width="1" height="42" fill="#c0c0c0" />
<rect x="680" y="611" width="1" height="49" fill="#c0c0c0" />
<rect x="684" y="611" width="1" height="52" fill="#c0c0c0" />
<rect x="688" y="611" width="1" height="52" fill="#c0c0c0" />
<rect x="692" y="611" width="1" height="53" fill="#c0c0c0" />
<rect x="696" y="611" width="1" height="53" fill="#c0c0c0" />
<rect x="700" y="611" width="1" height="50" fill="#c0c0c0" />
<rect x="704" y="611" width="1" height="43" fill="#c0c0c0" />
<rect x="708" y="611" width="1" height="38" fill="#c0c0c0" />
<rect x="712" y="611" width="1" height="33" fill="#c0c0c0" />
<rect x="716" y="611" width="1" height="30" fill="#c0c0c0" />
<rect x="720" y="611" width="1" height="22" fill="#c0c0c0" />
<rect x="724" y="611" width="1" height="17" fill="#c0c0c0" />
<rect x="728" y="611" width="1" height="11" fill="#c0c0c0" />
<rect x="732" y="611" width="1" height="6" fill="#c0c0c0" />
<rect x="736" y="611" width="1" height="6" fill="#c0c0c0" />
<rect x="740" y="611" width="1" height="4" fill="#c0c0c0" />
<rect x="744" y="611" width="1" height="6" fill="#c0c0c0" />
<rect x="748" y="611" width="1" height="8" fill="#c0c0c0" />
<rect x="752" y="611" width="1" height="9" fill="#c0c0c0" />
<rect x="756" y="611" width="1" height="8" fill="#c0c0c0" />
<rect x="760" y="611" width="1" height="7" fill="#c0c0c0" />
<rect x="764" y="611" width="1" height="9" fill="#c0c0c0" />
<rect x="768" y="611" width="1" height="11" fill="#c0c0c0" />
<rect x="772" y="611" width="1" height="12" fill="#c0c0c0" />
<rect x="776" y="611" width="1" height="12" fill="#c0c0c0" />
<rect x="780" y="611" width="1" height="11" fill="#c0c0c0" />
<rect x="784" y="611" width="1" height="11" fill="#c0c0c0" />
<rect x="788" y="611" width="1" height="7" fill="#c0c0c0" />
<rect x="796" y="608" width="1" height="3" fill="#c0c0c0" />
<rect x="800" y="606" width="1" height="5" fill="#c0c0c0" />
<rect x="804" y="605" width="1" height="6" fill="#c0c0c0" />
<rect x="808" y="602" width="1" height="9" fill="#c0c0c0" />
<rect x="812" y="602" width="1" height="9" fill="#c0c0c0" />
<rect x="816" y="607" width="1" height="4" fill="#c0c0c0" />
<rect x="824" y="611" width="1" height="11" fill="#c0c0c0" />
<rect x="828" y="611" width="1" height="16" fill="#c0c0c0" />
<rect x="832" y="611" width="1" height="20" fill="#c0c0c0" />
<rect x="836" y="611" width="1" height="24" fill="#c0c0c0" />
<rect x="840" y="611" width="1" height="28" fill="#c0c0c0" />
<rect x="844" y="611" width="1" height="30" fill="#c0c0c0" />
<rect x="848" y="611" width="1" height="34" fill="#c0c0c0" />
<rect x="852" y="611" width="1" height="32" fill="#c0c0c0" />
<rect x="856" y="611" width="1" height="32" fill="#c0c0c0" />
<rect x="860" y="611" width="1" height="29" fill="#c0c0c0" />
<rect x="864" y="611" width="1" height="26" fill="#c0c0c0" />
<rect x="868" y="611" width="1" height="23" fill="#c0c0c0" />
<rect x="872" y="611" width="1" height="18" fill="#c0c0c0" />
<rect x="876" y="611" width="1" height="17" fill="#c0c0c0" />
<rect x="880" y="611" width="1" height="13" fill="#c0c0c0" />
<rect x="884" y="611" width="1" height="9" fill="#c0c0c0" />
<rect x="888" y="611" width="1" height="12" fill="#c0c0c0" />
<rect x="892" y="611" width="1" height="14" fill="#c0c0c0" />
<rect x="896" y="611" width="1" height="12" fill="#c0c0c0" />
<rect x="900" y="611" width="1" height="9" fill="#c0c0c0" />
<rect x="904" y="611" width="1" height="7" fill="#c0c0c0" />
<rect x="908" y="611" width="1" height="2" fill="#c0c0c0" />
<rect x="912" y="606" width="1" height="5" fill="#c0c0c0" />
<rect x="916" y="602" width="1" height="9" fill="#c0c0c0" />
<rect x="920" y="598" width="1" height="13" fill="#c0c0c0" />
<rect x="924" y="597" width="1" height="14" fill="#c0c0c0" />
<rect x="928" y="600" width="1" height="11" fill="#c0c0c0" />
<rect x="932" y="600" width="1" height="11" fill="#c0c0c0" />
<rect x="936" y="598" width="1" height="13" fill="#c0c0c0" />
<rect x="940" y="597" width="1" height="14" fill="#c0c0c0" />
<rect x="944" y="594" width="1" height="17" fill="#c0c0c0" />
<rect x="948" y="592" width="1" height="19" fill="#c0c0c0" />
<rect x="952" y="590" width="1" height="21" fill="#c0c0c0" />
<rect x="956" y="590" width="1" height="21" fill="#c0c0c0" />
<rect x="960" y="590" width="1" height="21" fill="#c0c0c0" />
<rect x="964" y="593" width="1" height="18" fill="#c0c0c0" />
<rect x="968" y="592" width="1" height="19" fill="#c0c0c0" />
<rect x="972" y="591" width="1" height="20" fill="#c0c0c0" />
<rect x="976" y="588" width="1" height="23" fill="#c0c0c0" />
<rect x="980" y="589" width="1" height="22" fill="#c0c0c0" />
<rect x="984" y="590" width="1" height="21" fill="#c0c0c0" />
<rect x="988" y="592" width="1" height="19" fill="#c0c0c0" />
<rect x="992" y="594" width="1" height="17" fill="#c0c0c0" />
<rect x="996" y="598" width="1" height="13" fill="#c0c0c0" />
<rect x="1000" y="599" width="1" height="12" fill="#c0c0c0" />
<rect x="1004" y="598" width="1" height="13" fill="#c0c0c0" />
<rect x="1008" y="599" width="1" height="12" fill="#c0c0c0" />
<rect x="1012" y="600" width="1" height="11" fill="#c0c0c0" />
<rect x="1016" y="596" width="1" height="15" fill="#c0c0c0" />
<rect x="1020" y="597" width="1" height="14" fill="#c0c0c0" />
<rect x="1024" y="595" width="1" height="16" fill="#c0c0c0" />
<rect x="1028" y="593" width="1" height="18" fill="#c0c0c0" />
<rect x="1032" y="594" width="1" height="17" fill="#c0c0c0" />
<rect x="1036" y="595" width="1" height="16" fill="#c0c0c0" />
<rect x="1040" y="595" width="1" height="16" fill="#c0c0c0" />
<rect x="1044" y="597" width="1" height="14" fill="#c0c0c0" />
<rect x="1048" y="599" width="1" height="12" fill="#c0c0c0" />
<rect x="1052" y="598" width="1" height="13" fill="#c0c0c0" />
<rect x="1056" y="597" width="1" height="14" fill="#c0c0c0" />
<rect x="1060" y="596" width="1" height="15" fill="#c0c0c0" />
<rect x="1064" y="596" width="1" height="15" fill="#c0c0c0" />
<rect x="1068" y="595" width="1" height="16" fill="#c0c0c0" />
<rect x="1072" y="597" width="1" height="14" fill="#c0c0c0" />
<rect x="1076" y="603" width="1" height="8" fill="#c0c0c0" />
<rect x="1080" y="609" width="1" height="2" fill="#c0c0c0" />
<rect x="1084" y="611" width="1" height="4" fill="#c0c0c0" />
<rect x="1088" y="611" width="1" height="7" fill="#c0c0c0" />
<rect x="1092" y="611" width="1" height="8" fill="#c0c0c0" />
<rect x="1096" y="611" width="1" height="7" fill="#c0c0c0" />
<rect x="1100" y="611" width="1" height="6" fill="#c0c0c0" />
<rect x="1104" y="611" width="1" height="3" fill="#c0c0c0" />
<rect x="1108" y="611" width="1" height="2" fill="#c0c0c0" />
<rect x="1112" y="610" width="1" height="1" fill="#c0c0c0" />
<rect x="1116" y="609" width="1" height="2" fill="#c0c0c0" />
<rect x="1124" y="611" width="1" height="4" fill="#c0c0c0" />
<rect x="1128" y="611" width="1" height="7" fill="#c0c0c0" />
</g>
<g clip-path="url(#c2)">
<path d="M4 616h1v1h-1zM5 617h1v1h-1zM6 617h1v1h-1zM9 619h1v1h-1zM10 619h1v1h-1zM11 620h1v1h-1zM14 621h1v1h-1zM15 622h1v1h-1zM16 622h1v1h-1zM19 623h1v1h-1zM20 623h1v1h-1zM21 623h1v1h-1zM24 624h1v1h-1zM25 624h1v1h-1zM26 625h1v1h-1zM29 625h1v1h-1zM30 625h1v1h-1zM31 625h1v1h-1zM34 625h1v1h-1zM35 625h1v1h-1zM36 625h1v1h-1zM39 625h1v1h-1zM40 625h1v1h-1zM41 625h1v1h-1zM44 624h1v1h-1zM45 624h1v1h-1zM46 624h1v1h-1zM49 624h1v1h-1zM50 623h1v1h-1zM51 623h1v1h-1zM54 622h1v1h-1zM55 622h1v1h-1zM56 622h1v1h-1zM59 622h1v1h-1zM60 622h1v1h-1zM61 622h1v1h-1zM64 622h1v1h-1zM65 622h1v1h-1zM66 623h1v1h-1zM69 623h1v1h-1zM70 623h1v1h-1zM71 623h1v1h-1zM74 624h1v1h-1zM75 624h1v1h-1zM76 624h1v1h-1zM79 625h1v1h-1zM80 625h1v1h-1zM81 625h1v1h-1zM84 626h1v1h-1zM85 627h1v1h-1zM86 627h1v1h-1zM89 628h1v1h-1zM90 629h1v1h-1zM91 629h1v1h-1zM94 630h1v1h-1zM95 630h1v1h-1zM96 630h1v1h-1zM99 630h1v1h-1zM100 630h1v1h-1zM101 630h1v1h-1zM104 631h1v1h-1zM105 631h1v1h-1zM106 632h1v1h-1zM109 632h1v1h-1zM110 633h1v1h-1zM111 633h1v1h-1zM114 634h1v1h-1zM115 634h1v1h-1zM116 634h1v1h-1zM119 634h1v1h-1zM120 634h1v1h-1zM121 634h1v1h-1zM124 634h1v1h-1zM125 634h1v1h-1zM126 634h1v1h-1zM129 634h1v1h-1zM130 634h1v1h-1zM131 634h1v1h-1zM134 633h1v1h-1zM135 633h1v1h-1zM136 633h1v1h-1zM139 633h1v1h-1zM140 633h1v1h-1zM141 632h1v1h-1zM144 631h1v1h-1zM145 630h1v1h-1zM146 629h1v1h-1zM149 627h1v1h-1zM150 626h1v1h-1zM151 626h1v1h-1zM154 623h1v1h-1zM155 622h1v1h-1zM156 621h1v1h-1zM159 618h1v1h-1zM160 617h1v1h-1zM161 616h1v1h-1zM164 613h1v1h-1zM165 612h1v1h-1zM166 611h1v1h-1zM169 608h1v1h-1zM170 607h1v1h-1zM171 606h1v1h-1zM174 603h1v1h-1zM175 603h1v1h-1zM176 602h1v1h-1zM179 600h1v1h-1zM180 600h1v1h-1zM181 600h1v1h-1zM184 599h1v1h-1zM185 599h1v1h-1zM186 598h1v1h-1zM189 598h1v1h-1zM190 598h1v1h-1zM191 598h1v1h-1zM194 598h1v1h-1zM195 598h1v1h-1zM196 598h1v1h-1zM199 598h1v1h-1zM200 598h1v1h-1zM201 598h1v1h-1zM204 598h1v1h-1zM205 598h1v1h-1zM206 598h1v1h-1zM209 598h1v1h-1zM210 597h1v1h-1zM211 597h1v1h-1zM214 596h1v1h-1zM215 596h1v1h-1zM216 596h1v1h-1zM219 595h1v1h-1zM220 595h1v1h-1zM221 595h1v1h-1zM224 594h1v1h-1zM225 594h1v1h-1zM226 593h1v1h-1zM229 593h1v1h-1zM230 592h1v1h-1zM231 592h1v1h-1zM234 591h1v1h-1zM235 590h1v1h-1zM236 590h1v1h-1zM239 588h1v1h-1zM240 588h1v1h-1zM241 588h1v1h-1zM244 587h1v1h-1zM245 587h1v1h-1zM246 586h1v1h-1zM249 586h1v1h-1zM250 585h1v1h-1zM251 585h1v1h-1zM254 585h1v1h-1zM255 585h1v1h-1zM256 585h1v1h-1zM259 585h1v1h-1zM260 585h1v1h-1zM261 585h1v1h-1zM264 585h1v1h-1zM265 586h1v1h-1zM266 586h1v1h-1zM269 587h1v1h-1zM270 588h1v1h-1zM271 588h1v1h-1zM274 589h1v1h-1zM275 590h1v1h-1zM276 590h1v1h-1zM279 592h1v1h-1zM280 592h1v1h-1zM281 593h1v1h-1zM284 594h1v1h-1zM285 595h1v1h-1zM286 596h1v1h-1zM289 598h1v1h-1zM290 598h1v1h-1zM291 599h1v1h-1zM294 600h1v1h-1zM295 601h1v1h-1zM296 601h1v1h-1zM299 603h1v1h-1zM300 603h1v1h-1zM301 603h1v1h-1zM304 604h1v1h-1zM305 604h1v1h-1zM306 604h1v1h-1zM309 604h1v1h-1zM310 604h1v1h-1zM311 604h1v1h-1zM314 604h1v1h-1zM315 604h1v1h-1zM316 604h1v1h-1zM319 603h1v1h-1zM320 603h1v1h-1zM321 603h1v1h-1zM324 602h1v1h-1zM325 601h1v1h-1zM326 601h1v1h-1zM329 600h1v1h-1zM330 599h1v1h-1zM331 599h1v1h-1zM334 598h1v1h-1zM335 598h1v1h-1zM336 598h1v1h-1zM339 597h1v1h-1zM340 597h1v1h-1zM341 597h1v1h-1zM344 597h1v1h-1zM345 597h1v1h-1zM346 597h1v1h-1zM349 597h1v1h-1zM350 598h1v1h-1zM351 598h1v1h-1zM354 600h1v1h-1zM355 600h1v1h-1zM356 601h1v1h-1zM359 603h1v1h-1zM360 604h1v1h-1zM361 605h1v1h-1zM364 607h1v1h-1zM365 608h1v1h-1zM366 609h1v1h-1zM369 611h1v1h-1zM370 612h1v1h-1zM371 613h1v1h-1zM374 616h1v1h-1zM375 616h1v1h-1zM376 617h1v1h-1zM379 619h1v1h-1zM380 620h1v1h-1zM381 621h1v1h-1zM384 622h1v1h-1zM385 623h1v1h-1zM386 623h1v1h-1zM389 625h1v1h-1zM390 625h1v1h-1zM391 626h1v1h-1zM394 626h1v1h-1zM395 626h1v1h-1zM396 626h1v1h-1zM399 626h1v1h-1zM400 626h1v1h-1zM401 626h1v1h-1zM404 625h1v1h-1zM405 625h1v1h-1zM406 624h1v1h-1zM409 624h1v1h-1zM410 623h1v1h-1zM411 623h1v1h-1zM414 622h1v1h-1zM415 621h1v1h-1zM416 621h1v1h-1zM419 619h1v1h-1zM420 619h1v1h-1zM421 619h1v1h-1zM424 618h1v1h-1zM425 617h1v1h-1zM426 617h1v1h-1zM429 615h1v1h-1zM430 615h1v1h-1zM431 614h1v1h-1zM434 613h1v1h-1zM435 613h1v1h-1zM436 613h1v1h-1zM439 611h1v1h-1zM440 611h1v1h-1zM441 611h1v1h-1zM444 610h1v1h-1zM445 609h1v1h-1zM446 609h1v1h-1zM449 607h1v1h-1zM450 607h1v1h-1zM451 606h1v1h-1zM454 604h1v1h-1zM455 604h1v1h-1zM456 603h1v1h-1zM459 601h1v1h-1zM460 600h1v1h-1zM461 599h1v1h-1zM464 597h1v1h-1zM465 596h1v1h-1zM466 595h1v1h-1zM469 593h1v1h-1zM470 592h1v1h-1zM471 591h1v1h-1zM474 588h1v1h-1zM475 588h1v1h-1zM476 587h1v1h-1zM479 584h1v1h-1zM480 583h1v1h-1zM481 582h1v1h-1zM484 580h1v1h-1zM485 579h1v1h-1zM486 578h1v1h-1zM489 576h1v1h-1zM490 576h1v1h-1zM491 575h1v1h-1zM494 574h1v1h-1zM495 573h1v1h-1zM496 573h1v1h-1zM499 572h1v1h-1zM500 572h1v1h-1zM501 572h1v1h-1zM504 572h1v1h-1zM505 572h1v1h-1zM506 573h1v1h-1zM509 573h1v1h-1zM510 574h1v1h-1zM511 574h1v1h-1zM514 575h1v1h-1zM515 575h1v1h-1zM516 575h1v1h-1zM519 577h1v1h-1zM520 577h1v1h-1zM521 577h1v1h-1zM524 578h1v1h-1zM525 579h1v1h-1zM526 579h1v1h-1zM529 581h1v1h-1zM530 582h1v1h-1zM531 582h1v1h-1zM534 585h1v1h-1zM535 585h1v1h-1zM536 586h1v1h-1zM539 588h1v1h-1zM540 589h1v1h-1zM541 590h1v1h-1zM544 593h1v1h-1zM545 594h1v1h-1zM546 595h1v1h-1zM549 597h1v1h-1zM550 598h1v1h-1zM551 599h1v1h-1zM554 602h1v1h-1zM555 602h1v1h-1zM556 603h1v1h-1zM559 605h1v1h-1zM560 606h1v1h-1zM561 607h1v1h-1zM564 609h1v1h-1zM565 610h1v1h-1zM566 610h1v1h-1zM569 612h1v1h-1zM570 612h1v1h-1zM571 613h1v1h-1zM574 614h1v1h-1zM575 615h1v1h-1zM576 615h1v1h-1zM579 617h1v1h-1zM580 617h1v1h-1zM581 618h1v1h-1zM584 619h1v1h-1zM585 619h1v1h-1zM586 620h1v1h-1zM589 620h1v1h-1zM590 621h1v1h-1zM591 621h1v1h-1zM594 622h1v1h-1zM595 622h1v1h-1zM596 622h1v1h-1zM599 624h1v1h-1zM600 624h1v1h-1zM601 624h1v1h-1zM604 625h1v1h-1zM605 626h1v1h-1zM606 626h1v1h-1zM609 628h1v1h-1zM610 628h1v1h-1zM611 629h1v1h-1zM614 630h1v1h-1zM615 630h1v1h-1zM616 630h1v1h-1zM619 632h1v1h-1zM620 632h1v1h-1zM621 633h1v1h-1zM624 635h1v1h-1zM625 636h1v1h-1zM626 637h1v1h-1zM629 639h1v1h-1zM630 640h1v1h-1zM631 640h1v1h-1zM634 643h1v1h-1zM635 643h1v1h-1zM636 644h1v1h-1zM639 646h1v1h-1zM640 646h1v1h-1zM641 646h1v1h-1zM644 647h1v1h-1zM645 647h1v1h-1zM646 647h1v1h-1zM649 647h1v1h-1zM650 646h1v1h-1zM651 646h1v1h-1zM654 645h1v1h-1zM655 645h1v1h-1zM656 645h1v1h-1zM659 643h1v1h-1zM660 643h1v1h-1zM661 642h1v1h-1zM664 640h1v1h-1zM665 639h1v1h-1zM666 639h1v1h-1zM669 638h1v1h-1zM670 638h1v1h-1zM671 638h1v1h-1zM674 638h1v1h-1zM675 638h1v1h-1zM676 638h1v1h-1zM679 640h1v1h-1zM680 640h1v1h-1zM681 641h1v1h-1zM684 642h1v1h-1zM685 643h1v1h-1zM686 644h1v1h-1zM689 646h1v1h-1zM690 647h1v1h-1zM691 648h1v1h-1zM694 651h1v1h-1zM695 651h1v1h-1zM696 652h1v1h-1zM699 655h1v1h-1zM700 656h1v1h-1zM701 657h1v1h-1zM704 658h1v1h-1zM705 658h1v1h-1zM706 658h1v1h-1zM709 658h1v1h-1zM710 657h1v1h-1zM711 657h1v1h-1zM714 656h1v1h-1zM715 655h1v1h-1zM716 655h1v1h-1zM719 653h1v1h-1zM720 652h1v1h-1zM721 651h1v1h-1zM724 648h1v1h-1zM725 647h1v1h-1zM726 646h1v1h-1zM728 643h1v1h-1zM729 642h1v1h-1zM730 641h1v1h-1zM732 638h1v1h-1zM733 637h1v1h-1zM734 636h1v1h-1zM736 633h1v1h-1zM737 632h1v1h-1zM738 631h1v1h-1zM740 628h1v1h-1zM741 627h1v1h-1zM742 626h1v1h-1zM745 624h1v1h-1zM746 623h1v1h-1zM747 623h1v1h-1zM750 621h1v1h-1zM751 620h1v1h-1zM752 620h1v1h-1zM755 618h1v1h-1zM756 618h1v1h-1zM757 618h1v1h-1zM760 617h1v1h-1zM761 617h1v1h-1zM762 617h1v1h-1zM765 617h1v1h-1zM766 617h1v1h-1zM767 617h1v1h-1zM770 618h1v1h-1zM771 618h1v1h-1zM772 618h1v1h-1zM775 619h1v1h-1zM776 619h1v1h-1zM777 619h1v1h-1zM780 620h1v1h-1zM781 620h1v1h-1zM782 620h1v1h-1zM785 620h1v1h-1zM786 620h1v1h-1zM787 620h1v1h-1zM790 619h1v1h-1zM791 619h1v1h-1zM792 619h1v1h-1zM795 618h1v1h-1zM796 618h1v1h-1zM797 618h1v1h-1zM800 617h1v1h-1zM801 616h1v1h-1zM802 616h1v1h-1zM805 614h1v1h-1zM806 614h1v1h-1zM807 613h1v1h-1zM810 611h1v1h-1zM811 611h1v1h-1zM812 610h1v1h-1zM815 609h1v1h-1zM816 609h1v1h-1zM817 609h1v1h-1zM820 608h1v1h-1zM821 608h1v1h-1zM822 608h1v1h-1zM825 609h1v1h-1zM826 609h1v1h-1zM827 610h1v1h-1zM830 611h1v1h-1zM831 612h1v1h-1zM832 612h1v1h-1zM835 614h1v1h-1zM836 615h1v1h-1zM837 616h1v1h-1zM840 619h1v1h-1zM841 620h1v1h-1zM842 621h1v1h-1zM845 624h1v1h-1zM846 625h1v2h-1zM849 629h1v1h-1zM850 630h1v1h-1zM851 631h1v1h-1zM854 634h1v1h-1zM855 634h1v1h-1zM856 635h1v1h-1zM859 637h1v1h-1zM860 637h1v1h-1zM861 637h1v1h-1zM864 638h1v1h-1zM865 638h1v1h-1zM866 639h1v1h-1zM869 639h1v1h-1zM870 638h1v1h-1zM871 638h1v1h-1zM874 637h1v1h-1zM875 637h1v1h-1zM876 637h1v1h-1zM879 635h1v1h-1zM880 635h1v1h-1zM881 634h1v1h-1zM884 632h1v1h-1zM885 631h1v1h-1zM886 631h1v1h-1zM889 629h1v1h-1zM890 629h1v1h-1zM891 628h1v1h-1zM894 627h1v1h-1zM895 626h1v1h-1zM896 626h1v1h-1zM899 624h1v1h-1zM900 624h1v1h-1zM901 624h1v1h-1zM904 623h1v1h-1zM905 622h1v1h-1zM906 622h1v1h-1zM909 620h1v1h-1zM910 619h1v1h-1zM911 619h1v1h-1zM914 617h1v1h-1zM915 616h1v1h-1zM916 616h1v1h-1zM919 614h1v1h-1zM920 614h1v1h-1zM921 613h1v1h-1zM924 611h1v1h-1zM925 610h1v1h-1zM926 609h1v1h-1zM929 607h1v1h-1zM930 607h1v1h-1zM931 606h1v1h-1zM934 604h1v1h-1zM935 604h1v1h-1zM936 603h1v1h-1zM939 601h1v1h-1zM940 601h1v1h-1zM941 600h1v1h-1zM944 599h1v1h-1zM945 599h1v1h-1zM946 598h1v1h-1zM949 597h1v1h-1zM950 597h1v1h-1zM951 596h1v1h-1zM954 595h1v1h-1zM955 595h1v1h-1zM956 595h1v1h-1zM959 595h1v1h-1zM960 595h1v1h-1zM961 595h1v1h-1zM964 594h1v1h-1zM965 594h1v1h-1zM966 593h1v1h-1zM969 593h1v1h-1zM970 592h1v1h-1zM971 592h1v1h-1zM974 591h1v1h-1zM975 591h1v1h-1zM976 591h1v1h-1zM979 591h1v1h-1zM980 591h1v1h-1zM981 591h1v1h-1zM984 590h1v1h-1zM985 590h1v1h-1zM986 591h1v1h-1zM989 591h1v1h-1zM990 591h1v1h-1zM991 591h1v1h-1zM994 592h1v1h-1zM995 592h1v1h-1zM996 592h1v1h-1zM999 593h1v1h-1zM1000 593h1v1h-1zM1001 593h1v1h-1zM1004 593h1v1h-1zM1005 593h1v1h-1zM1006 594h1v1h-1zM1009 594h1v1h-1zM1010 595h1v1h-1zM1011 595h1v1h-1zM1014 596h1v1h-1zM1015 596h1v1h-1zM1016 596h1v1h-1zM1019 597h1v1h-1zM1020 597h1v1h-1zM1021 597h1v1h-1zM1024 597h1v1h-1zM1025 597h1v1h-1zM1026 597h1v1h-1zM1029 597h1v1h-1zM1030 597h1v1h-1zM1031 597h1v1h-1zM1034 596h1v1h-1zM1035 596h1v1h-1zM1036 596h1v1h-1zM1039 596h1v1h-1zM1040 596h1v1h-1zM1041 596h1v1h-1zM1044 596h1v1h-1zM1045 596h1v1h-1zM1046 596h1v1h-1zM1049 596h1v1h-1zM1050 596h1v1h-1zM1051 596h1v1h-1zM1054 596h1v1h-1zM1055 596h1v1h-1zM1056 596h1v1h-1zM1059 596h1v1h-1zM1060 596h1v1h-1zM1061 596h1v1h-1zM1064 596h1v1h-1zM1065 596h1v1h-1zM1066 597h1v1h-1zM1069 597h1v1h-1zM1070 597h1v1h-1zM1071 597h1v1h-1zM1074 598h1v1h-1zM1075 598h1v1h-1zM1076 598h1v1h-1zM1079 599h1v1h-1zM1080 599h1v1h-1zM1081 600h1v1h-1zM1084 601h1v1h-1zM1085 602h1v1h-1zM1086 602h1v1h-1zM1089 604h1v1h-1zM1090 604h1v1h-1zM1091 605h1v1h-1zM1094 607h1v1h-1zM1095 607h1v1h-1zM1096 608h1v1h-1zM1099 610h1v1h-1zM1100 610h1v1h-1zM1101 611h1v1h-1zM1104 612h1v1h-1zM1105 612h1v1h-1zM1106 613h1v1h-1zM1109 613h1v1h-1zM1110 614h1v1h-1zM1111 614h1v1h-1zM1114 614h1v1h-1zM1115 614h1v1h-1zM1116 614h1v1h-1zM1119 614h1v1h-1zM1120 614h1v1h-1zM1121 614h1v1h-1zM1124 613h1v1h-1zM1125 613h1v1h-1zM1126 613h1v1h-1z" fill="#ff0000" shape-rendering="crispEdges"/>
</g>
<g clip-path="url(#c3)" shape-rendering="crispEdges">
<line x1="4" y1="710.5" x2="1419" y2="710.5" stroke="#c0c0c0" stroke-width="1" stroke-dasharray="3,3"/>
<line x1="4" y1="761.5" x2="1419" y2="761.5" stroke="#c0c0c0" stroke-width="1" stroke-dasharray="3,3"/>
</g>
<g clip-path="url(#c3)">
<path d="M4 753h1v1h-1zM5 752h1v1h-1zM6 752h1v1h-1zM7 751h1v1h-1zM8 751h1v1h-1zM9 751h1v1h-1zM10 752h1v1h-1zM11 752h1v1h-1zM12 751h1v2h-1zM13 749h1v2h-1zM14 746h1v3h-1zM15 744h1v2h-1zM16 742h1v2h-1zM17 742h1v1h-1zM18 743h1v1h-1zM19 743h1v1h-1zM20 743h1v1h-1zM21 742h1v1h-1zM22 741h1v1h-1zM23 741h1v1h-1zM24 739h1v2h-1zM25 736h1v3h-1zM26 734h1v2h-1zM27 731h1v3h-1zM28 729h1v2h-1zM29 729h1v1h-1zM30 730h1v1h-1zM31 730h1v1h-1zM32 730h1v2h-1zM33 732h1v3h-1zM34 735h1v3h-1zM35 738h1v3h-1zM36 741h1v2h-1zM37 742h1v1h-1zM38 742h1v1h-1zM39 742h1v1h-1zM40 742h1v1h-1zM41 741h1v1h-1zM42 739h1v2h-1zM43 738h1v1h-1zM44 737h1v2h-1zM45 739h1v4h-1zM46 743h1v3h-1zM47 746h1v4h-1zM48 750h1v2h-1zM49 746h1v4h-1zM50 742h1v4h-1zM51 738h1v4h-1zM52 735h1v3h-1zM53 736h1v1h-1zM54 736h1v1h-1zM55 737h1v1h-1zM56 737h1v2h-1zM57 739h1v3h-1zM58 742h1v2h-1zM59 744h1v3h-1zM60 747h1v2h-1zM61 748h1v1h-1zM62 747h1v1h-1zM63 747h1v1h-1zM64 746h1v2h-1zM65 743h1v3h-1zM66 739h1v4h-1zM67 736h1v3h-1zM68 734h1v2h-1zM69 736h1v2h-1zM70 738h1v3h-1zM71 741h1v2h-1zM72 743h1v2h-1zM73 744h1v1h-1zM74 745h1v1h-1zM75 745h1v1h-1zM76 745h1v1h-1zM77 746h1v1h-1zM78 747h1v1h-1zM79 747h1v1h-1zM80 748h1v1h-1zM81 749h1v1h-1zM82 750h1v1h-1zM83 750h1v1h-1zM84 751h1v1h-1zM85 750h1v1h-1zM86 750h1v1h-1zM87 749h1v1h-1zM88 748h1v2h-1zM89 745h1v3h-1zM90 742h1v3h-1zM91 739h1v3h-1zM92 737h1v2h-1zM93 738h1v1h-1zM94 739h1v1h-1zM95 739h1v1h-1zM96 740h1v1h-1zM97 740h1v1h-1zM98 741h1v1h-1zM99 741h1v1h-1zM100 741h1v1h-1zM101 741h1v1h-1zM102 742h1v1h-1zM103 742h1v1h-1zM104 742h1v1h-1zM105 743h1v2h-1zM106 745h1v2h-1zM107 747h1v2h-1zM108 749h1v2h-1zM109 749h1v1h-1zM110 748h1v1h-1zM111 748h1v1h-1zM112 747h1v1h-1zM113 748h1v2h-1zM114 750h1v2h-1zM115 752h1v2h-1zM116 754h1v2h-1zM117 750h1v4h-1zM118 746h1v4h-1zM119 742h1v4h-1zM120 739h1v3h-1zM121 739h1v1h-1zM122 738h1v1h-1zM123 738h1v1h-1zM124 738h1v1h-1zM125 738h1v1h-1zM126 739h1v1h-1zM127 739h1v1h-1zM128 739h1v1h-1zM129 740h1v1h-1zM130 741h1v1h-1zM131 742h1v1h-1zM132 742h1v2h-1zM133 740h1v2h-1zM134 738h1v2h-1zM135 736h1v2h-1zM136 734h1v2h-1zM137 733h1v1h-1zM138 732h1v1h-1zM139 731h1v1h-1zM140 730h1v1h-1zM141 729h1v1h-1zM142 728h1v1h-1zM143 727h1v1h-1zM144 726h1v1h-1zM145 725h1v1h-1zM146 725h1v1h-1zM147 724h1v1h-1zM148 724h1v1h-1zM149 724h1v1h-1zM150 724h1v1h-1zM151 724h1v1h-1zM152 724h1v1h-1zM153 723h1v1h-1zM154 722h1v1h-1zM155 722h1v1h-1zM156 721h1v1h-1zM157 721h1v1h-1zM158 722h1v1h-1zM159 722h1v1h-1zM160 722h1v1h-1zM161 723h1v1h-1zM162 724h1v1h-1zM163 725h1v1h-1zM164 726h1v1h-1zM165 726h1v1h-1zM166 725h1v1h-1zM167 725h1v1h-1zM168 725h1v1h-1zM169 726h1v2h-1zM170 728h1v1h-1zM171 729h1v2h-1zM172 731h1v1h-1zM173 731h1v1h-1zM174 732h1v1h-1zM175 732h1v1h-1zM176 732h1v1h-1zM177 732h1v1h-1zM178 732h1v1h-1zM179 732h1v1h-1zM180 732h1v1h-1zM181 731h1v1h-1zM182 730h1v1h-1zM183 729h1v1h-1zM184 728h1v1h-1zM185 729h1v1h-1zM186 729h1v1h-1zM187 730h1v1h-1zM188 730h1v1h-1zM189 730h1v1h-1zM190 729h1v1h-1zM191 729h1v1h-1zM192 729h1v1h-1zM193 729h1v1h-1zM194 728h1v1h-1zM195 728h1v1h-1zM196 728h1v1h-1zM197 727h1v1h-1zM198 727h1v1h-1zM199 726h1v1h-1zM200 726h1v1h-1zM201 725h1v1h-1zM202 723h1v2h-1zM203 722h1v1h-1zM204 721h1v1h-1zM205 720h1v1h-1zM206 719h1v1h-1zM207 719h1v1h-1zM208 718h1v1h-1zM209 717h1v1h-1zM210 716h1v1h-1zM211 715h1v1h-1zM212 714h1v1h-1zM213 714h1v1h-1zM214 713h1v1h-1zM215 713h1v1h-1zM216 713h1v2h-1zM217 715h1v2h-1zM218 717h1v2h-1zM219 719h1v2h-1zM220 721h1v2h-1zM221 723h1v1h-1zM222 723h1v1h-1zM223 724h1v1h-1zM224 723h1v2h-1zM225 721h1v2h-1zM226 719h1v2h-1zM227 717h1v2h-1zM228 715h1v2h-1zM229 714h1v1h-1zM230 713h1v1h-1zM231 713h1v1h-1zM232 712h1v1h-1zM233 711h1v1h-1zM234 710h1v1h-1zM235 709h1v1h-1zM236 708h1v2h-1zM237 710h1v3h-1zM238 713h1v2h-1zM239 715h1v3h-1zM240 718h1v2h-1zM241 719h1v1h-1zM242 720h1v1h-1zM243 720h1v1h-1zM244 720h1v1h-1zM245 720h1v1h-1zM246 720h1v1h-1zM247 720h1v1h-1zM248 720h1v1h-1zM249 720h1v1h-1zM250 721h1v1h-1zM251 721h1v1h-1zM252 721h1v2h-1zM253 723h1v2h-1zM254 725h1v2h-1zM255 727h1v2h-1zM256 729h1v2h-1zM257 731h1v1h-1zM258 732h1v1h-1zM259 732h1v1h-1zM260 733h1v1h-1zM261 732h1v1h-1zM262 732h1v1h-1zM263 731h1v1h-1zM264 731h1v1h-1zM265 732h1v1h-1zM266 733h1v1h-1zM267 733h1v1h-1zM268 734h1v1h-1zM269 734h1v1h-1zM270 734h1v1h-1zM271 734h1v1h-1zM272 734h1v1h-1zM273 734h1v1h-1zM274 733h1v1h-1zM275 733h1v1h-1zM276 733h1v1h-1zM277 734h1v1h-1zM278 734h1v1h-1zM279 735h1v1h-1zM280 735h1v1h-1zM281 734h1v1h-1zM282 733h1v1h-1zM283 733h1v1h-1zM284 732h1v2h-1zM285 734h1v3h-1zM286 737h1v2h-1zM287 739h1v3h-1zM288 742h1v2h-1zM289 741h1v2h-1zM290 739h1v2h-1zM291 737h1v2h-1zM292 735h1v2h-1zM293 736h1v1h-1zM294 737h1v1h-1zM295 737h1v1h-1zM296 738h1v1h-1zM297 737h1v1h-1zM298 737h1v1h-1zM299 736h1v1h-1zM300 735h1v2h-1zM301 731h1v4h-1zM302 728h1v3h-1zM303 724h1v4h-1zM304 722h1v2h-1zM305 722h1v1h-1zM306 723h1v1h-1zM307 723h1v1h-1zM308 722h1v2h-1zM309 719h1v3h-1zM310 716h1v3h-1zM311 713h1v3h-1zM312 711h1v2h-1zM313 713h1v3h-1zM314 716h1v2h-1zM315 718h1v3h-1zM316 721h1v2h-1zM317 721h1v1h-1zM318 721h1v1h-1zM319 720h1v1h-1zM320 720h1v1h-1zM321 719h1v1h-1zM322 718h1v1h-1zM323 717h1v1h-1zM324 716h1v1h-1zM325 717h1v2h-1zM326 719h1v2h-1zM327 721h1v2h-1zM328 723h1v3h-1zM329 726h1v2h-1zM330 728h1v3h-1zM331 731h1v2h-1zM332 733h1v2h-1zM333 734h1v1h-1zM334 734h1v1h-1zM335 734h1v1h-1zM336 734h1v1h-1zM337 735h1v1h-1zM338 735h1v1h-1zM339 736h1v1h-1zM340 736h1v1h-1zM341 736h1v1h-1zM342 736h1v1h-1zM343 736h1v1h-1zM344 736h1v1h-1zM345 737h1v1h-1zM346 738h1v1h-1zM347 739h1v1h-1zM348 740h1v1h-1zM349 741h1v1h-1zM350 742h1v2h-1zM351 744h1v1h-1zM352 745h1v2h-1zM353 747h1v3h-1zM354 750h1v4h-1zM355 754h1v3h-1zM356 757h1v2h-1zM357 757h1v1h-1zM358 756h1v1h-1zM359 756h1v1h-1zM360 755h1v1h-1zM361 753h1v2h-1zM362 752h1v1h-1zM363 750h1v2h-1zM364 749h1v1h-1zM365 749h1v1h-1zM366 750h1v1h-1zM367 750h1v1h-1zM368 750h1v1h-1zM369 751h1v1h-1zM370 752h1v1h-1zM371 752h1v1h-1zM372 753h1v1h-1zM373 752h1v1h-1zM374 750h1v2h-1zM375 749h1v1h-1zM376 748h1v1h-1zM377 747h1v1h-1zM378 746h1v1h-1zM379 746h1v1h-1zM380 745h1v1h-1zM381 745h1v1h-1zM382 744h1v1h-1zM383 744h1v1h-1zM384 744h1v1h-1zM385 743h1v1h-1zM386 743h1v1h-1zM387 742h1v1h-1zM388 742h1v1h-1zM389 742h1v1h-1zM390 743h1v1h-1zM391 743h1v1h-1zM392 742h1v2h-1zM393 739h1v3h-1zM394 737h1v2h-1zM395 734h1v3h-1zM396 732h1v2h-1zM397 733h1v1h-1zM398 734h1v1h-1zM399 735h1v1h-1zM400 736h1v1h-1zM401 737h1v1h-1zM402 737h1v1h-1zM403 738h1v1h-1zM404 738h1v1h-1zM405 736h1v2h-1zM406 734h1v2h-1zM407 732h1v2h-1zM408 731h1v1h-1zM409 731h1v1h-1zM410 731h1v1h-1zM411 731h1v1h-1zM412 731h1v1h-1zM413 731h1v1h-1zM414 730h1v1h-1zM415 730h1v1h-1zM416 730h1v1h-1zM417 731h1v1h-1zM418 732h1v1h-1zM419 733h1v1h-1zM420 734h1v1h-1zM421 733h1v1h-1zM422 733h1v1h-1zM423 732h1v1h-1zM424 732h1v1h-1zM425 730h1v2h-1zM426 728h1v2h-1zM427 726h1v2h-1zM428 725h1v1h-1zM429 724h1v1h-1zM430 724h1v1h-1zM431 723h1v1h-1zM432 723h1v1h-1zM433 723h1v1h-1zM434 724h1v1h-1zM435 724h1v1h-1zM436 724h1v1h-1zM437 724h1v1h-1zM438 725h1v1h-1zM439 725h1v1h-1zM440 725h1v1h-1zM441 724h1v1h-1zM442 723h1v1h-1zM443 722h1v1h-1zM444 720h1v2h-1zM445 718h1v2h-1zM446 716h1v2h-1zM447 714h1v2h-1zM448 712h1v2h-1zM449 710h1v2h-1zM450 709h1v1h-1zM451 707h1v2h-1zM452 706h1v1h-1zM453 704h1v2h-1zM454 703h1v1h-1zM455 701h1v2h-1zM456 700h1v1h-1zM457 701h1v1h-1zM458 702h1v1h-1zM459 703h1v1h-1zM460 704h1v1h-1zM461 704h1v1h-1zM462 703h1v1h-1zM463 703h1v1h-1zM464 703h1v1h-1zM465 701h1v2h-1zM466 700h1v1h-1zM467 698h1v2h-1zM468 697h1v1h-1zM469 697h1v1h-1zM470 697h1v1h-1zM471 697h1v1h-1zM472 697h1v1h-1zM473 698h1v1h-1zM474 698h1v1h-1zM475 699h1v1h-1zM476 699h1v1h-1zM477 700h1v1h-1zM478 701h1v1h-1zM479 702h1v1h-1zM480 703h1v1h-1zM481 703h1v1h-1zM482 703h1v1h-1zM483 703h1v1h-1zM484 703h1v1h-1zM485 703h1v1h-1zM486 702h1v1h-1zM487 702h1v1h-1zM488 702h1v1h-1zM489 703h1v1h-1zM490 704h1v1h-1zM491 704h1v1h-1zM492 705h1v1h-1zM493 706h1v2h-1zM494 708h1v2h-1zM495 710h1v2h-1zM496 712h1v2h-1zM497 712h1v1h-1zM498 711h1v1h-1zM499 710h1v1h-1zM500 709h1v1h-1zM501 710h1v2h-1zM502 712h1v2h-1zM503 714h1v2h-1zM504 716h1v2h-1zM505 718h1v1h-1zM506 719h1v1h-1zM507 720h1v1h-1zM508 721h1v1h-1zM509 720h1v1h-1zM510 719h1v1h-1zM511 719h1v1h-1zM512 718h1v1h-1zM513 717h1v1h-1zM514 715h1v2h-1zM515 714h1v1h-1zM516 713h1v1h-1zM517 713h1v1h-1zM518 712h1v1h-1zM519 712h1v1h-1zM520 712h1v3h-1zM521 715h1v5h-1zM522 720h1v4h-1zM523 724h1v5h-1zM524 729h1v3h-1zM525 732h1v2h-1zM526 734h1v2h-1zM527 736h1v2h-1zM528 738h1v2h-1zM529 740h1v1h-1zM530 741h1v1h-1zM531 742h1v1h-1zM532 743h1v2h-1zM533 745h1v2h-1zM534 747h1v3h-1zM535 750h1v2h-1zM536 752h1v2h-1zM537 750h1v2h-1zM538 748h1v2h-1zM539 746h1v2h-1zM540 744h1v2h-1zM541 744h1v1h-1zM542 745h1v1h-1zM543 745h1v1h-1zM544 745h1v1h-1zM545 744h1v1h-1zM546 742h1v2h-1zM547 741h1v1h-1zM548 740h1v1h-1zM549 739h1v1h-1zM550 739h1v1h-1zM551 738h1v1h-1zM552 738h1v1h-1zM553 738h1v1h-1zM554 739h1v1h-1zM555 739h1v1h-1zM556 739h1v1h-1zM557 740h1v1h-1zM558 741h1v2h-1zM559 743h1v1h-1zM560 744h1v1h-1zM561 742h1v2h-1zM562 740h1v2h-1zM563 738h1v2h-1zM564 737h1v1h-1zM565 738h1v1h-1zM566 739h1v1h-1zM567 740h1v1h-1zM568 741h1v2h-1zM569 743h1v3h-1zM570 746h1v3h-1zM571 749h1v3h-1zM572 752h1v2h-1zM573 754h1v1h-1zM574 754h1v1h-1zM575 755h1v1h-1zM576 755h1v1h-1zM577 754h1v1h-1zM578 754h1v1h-1zM579 753h1v1h-1zM580 753h1v1h-1zM581 751h1v2h-1zM582 750h1v1h-1zM583 748h1v2h-1zM584 747h1v1h-1zM585 745h1v2h-1zM586 743h1v2h-1zM587 741h1v2h-1zM588 740h1v1h-1zM589 739h1v1h-1zM590 738h1v1h-1zM591 738h1v1h-1zM592 737h1v1h-1zM593 738h1v1h-1zM594 739h1v1h-1zM595 739h1v1h-1zM596 740h1v2h-1zM597 742h1v3h-1zM598 745h1v2h-1zM599 747h1v3h-1zM600 750h1v2h-1zM601 752h1v1h-1zM602 752h1v1h-1zM603 753h1v1h-1zM604 753h1v2h-1zM605 755h1v2h-1zM606 757h1v2h-1zM607 759h1v2h-1zM608 761h1v2h-1zM609 762h1v1h-1zM610 762h1v1h-1zM611 762h1v1h-1zM612 762h1v1h-1zM613 761h1v1h-1zM614 759h1v2h-1zM615 758h1v1h-1zM616 757h1v1h-1zM617 758h1v1h-1zM618 759h1v1h-1zM619 760h1v1h-1zM620 761h1v1h-1zM621 762h1v1h-1zM622 763h1v2h-1zM623 765h1v1h-1zM624 765h1v2h-1zM625 763h1v2h-1zM626 761h1v2h-1zM627 759h1v2h-1zM628 757h1v2h-1zM629 757h1v1h-1zM630 758h1v1h-1zM631 758h1v1h-1zM632 758h1v1h-1zM633 756h1v2h-1zM634 754h1v2h-1zM635 752h1v2h-1zM636 750h1v2h-1zM637 749h1v1h-1zM638 747h1v2h-1zM639 746h1v1h-1zM640 745h1v1h-1zM641 746h1v1h-1zM642 746h1v1h-1zM643 747h1v1h-1zM644 746h1v2h-1zM645 743h1v3h-1zM646 741h1v2h-1zM647 738h1v3h-1zM648 736h1v2h-1zM649 736h1v1h-1zM650 736h1v1h-1zM651 736h1v1h-1zM652 736h1v1h-1zM653 736h1v1h-1zM654 737h1v1h-1zM655 737h1v1h-1zM656 737h1v1h-1zM657 736h1v1h-1zM658 734h1v2h-1zM659 733h1v1h-1zM660 732h1v2h-1zM661 734h1v4h-1zM662 738h1v3h-1zM663 741h1v4h-1zM664 745h1v3h-1zM665 748h1v3h-1zM666 751h1v4h-1zM667 755h1v3h-1zM668 758h1v2h-1zM669 760h1v1h-1zM670 761h1v1h-1zM671 762h1v1h-1zM672 763h1v1h-1zM673 763h1v1h-1zM674 764h1v1h-1zM675 764h1v1h-1zM676 764h1v1h-1zM677 765h1v1h-1zM678 766h1v1h-1zM679 766h1v1h-1zM680 767h1v1h-1zM681 765h1v2h-1zM682 764h1v1h-1zM683 762h1v2h-1zM684 761h1v1h-1zM685 759h1v2h-1zM686 758h1v1h-1zM687 756h1v2h-1zM688 755h1v1h-1zM689 755h1v1h-1zM690 756h1v1h-1zM691 756h1v1h-1zM692 756h1v1h-1zM693 757h1v1h-1zM694 757h1v1h-1zM695 758h1v1h-1zM696 757h1v2h-1zM697 755h1v2h-1zM698 753h1v2h-1zM699 751h1v2h-1zM700 748h1v3h-1zM701 745h1v3h-1zM702 741h1v4h-1zM703 738h1v3h-1zM704 736h1v2h-1zM705 737h1v1h-1zM706 738h1v1h-1zM707 738h1v1h-1zM708 739h1v1h-1zM709 739h1v1h-1zM710 738h1v1h-1zM711 738h1v1h-1zM712 738h1v1h-1zM713 739h1v1h-1zM714 739h1v1h-1zM715 740h1v1h-1zM716 739h1v2h-1zM717 736h1v3h-1zM718 734h1v2h-1zM719 731h1v3h-1zM720 729h1v2h-1zM721 729h1v1h-1zM722 730h1v1h-1zM723 730h1v1h-1zM724 730h1v1h-1zM725 729h1v1h-1zM726 728h1v1h-1zM727 727h1v1h-1zM728 726h1v1h-1zM729 726h1v1h-1zM730 727h1v1h-1zM731 727h1v1h-1zM732 727h1v2h-1zM733 729h1v2h-1zM734 731h1v3h-1zM735 734h1v2h-1zM736 736h1v2h-1zM737 736h1v1h-1zM738 734h1v2h-1zM739 733h1v1h-1zM740 732h1v2h-1zM741 734h1v2h-1zM742 736h1v3h-1zM743 739h1v2h-1zM744 741h1v2h-1zM745 742h1v1h-1zM746 742h1v1h-1zM747 742h1v1h-1zM748 742h1v1h-1zM749 742h1v1h-1zM750 741h1v1h-1zM751 741h1v1h-1zM752 741h1v1h-1zM753 739h1v2h-1zM754 738h1v1h-1zM755 736h1v2h-1zM756 735h1v1h-1zM757 736h1v1h-1zM758 736h1v1h-1zM759 737h1v1h-1zM760 737h1v1h-1zM761 738h1v2h-1zM762 740h1v2h-1zM763 742h1v2h-1zM764 744h1v1h-1zM765 744h1v1h-1zM766 744h1v1h-1zM767 744h1v1h-1zM768 744h1v1h-1zM769 744h1v1h-1zM770 743h1v1h-1zM771 743h1v1h-1zM772 743h1v1h-1zM773 743h1v1h-1zM774 743h1v1h-1zM775 743h1v1h-1zM776 743h1v1h-1zM777 742h1v1h-1zM778 740h1v2h-1zM779 739h1v1h-1zM780 738h1v1h-1zM781 738h1v1h-1zM782 739h1v1h-1zM783 739h1v1h-1zM784 738h1v2h-1zM785 735h1v3h-1zM786 732h1v3h-1zM787 729h1v3h-1zM788 727h1v2h-1zM789 726h1v1h-1zM790 724h1v2h-1zM791 723h1v1h-1zM792 722h1v1h-1zM793 723h1v1h-1zM794 723h1v1h-1zM795 724h1v1h-1zM796 724h1v1h-1zM797 725h1v1h-1zM798 726h1v1h-1zM799 727h1v1h-1zM800 728h1v1h-1zM801 728h1v1h-1zM802 729h1v1h-1zM803 729h1v1h-1zM804 729h1v1h-1zM805 728h1v1h-1zM806 726h1v2h-1zM807 725h1v1h-1zM808 724h1v1h-1zM809 725h1v2h-1zM810 727h1v1h-1zM811 728h1v2h-1zM812 730h1v2h-1zM813 732h1v4h-1zM814 736h1v4h-1zM815 740h1v4h-1zM816 744h1v3h-1zM817 746h1v1h-1zM818 745h1v1h-1zM819 745h1v1h-1zM820 745h1v2h-1zM821 747h1v4h-1zM822 751h1v3h-1zM823 754h1v4h-1zM824 758h1v2h-1zM825 756h1v2h-1zM826 753h1v3h-1zM827 751h1v2h-1zM828 749h1v2h-1zM829 749h1v1h-1zM830 750h1v1h-1zM831 750h1v1h-1zM832 750h1v1h-1zM833 750h1v1h-1zM834 751h1v1h-1zM835 751h1v1h-1zM836 751h1v1h-1zM837 752h1v1h-1zM838 753h1v1h-1zM839 753h1v1h-1zM840 754h1v1h-1zM841 754h1v1h-1zM842 754h1v1h-1zM843 754h1v1h-1zM844 754h1v1h-1zM845 755h1v1h-1zM846 756h1v1h-1zM847 756h1v1h-1zM848 756h1v2h-1zM849 752h1v4h-1zM850 749h1v3h-1zM851 745h1v4h-1zM852 743h1v2h-1zM853 744h1v1h-1zM854 745h1v1h-1zM855 746h1v1h-1zM856 747h1v1h-1zM857 745h1v2h-1zM858 744h1v1h-1zM859 742h1v2h-1zM860 741h1v1h-1zM861 740h1v1h-1zM862 740h1v1h-1zM863 739h1v1h-1zM864 739h1v1h-1zM865 738h1v1h-1zM866 738h1v1h-1zM867 737h1v1h-1zM868 737h1v1h-1zM869 736h1v1h-1zM870 735h1v1h-1zM871 734h1v1h-1zM872 733h1v1h-1zM873 734h1v2h-1zM874 736h1v1h-1zM875 737h1v2h-1zM876 739h1v1h-1zM877 737h1v2h-1zM878 735h1v2h-1zM879 733h1v2h-1zM880 732h1v1h-1zM881 731h1v1h-1zM882 731h1v1h-1zM883 730h1v1h-1zM884 730h1v2h-1zM885 732h1v4h-1zM886 736h1v3h-1zM887 739h1v4h-1zM888 743h1v2h-1zM889 744h1v1h-1zM890 745h1v1h-1zM891 745h1v1h-1zM892 744h1v2h-1zM893 742h1v2h-1zM894 740h1v2h-1zM895 738h1v2h-1zM896 736h1v2h-1zM897 735h1v1h-1zM898 734h1v1h-1zM899 734h1v1h-1zM900 733h1v1h-1zM901 733h1v1h-1zM902 733h1v1h-1zM903 733h1v1h-1zM904 733h1v1h-1zM905 731h1v2h-1zM906 729h1v2h-1zM907 727h1v2h-1zM908 726h1v1h-1zM909 725h1v1h-1zM910 723h1v2h-1zM911 722h1v1h-1zM912 721h1v1h-1zM913 722h1v1h-1zM914 722h1v1h-1zM915 723h1v1h-1zM916 723h1v1h-1zM917 723h1v1h-1zM918 722h1v1h-1zM919 722h1v1h-1zM920 722h1v1h-1zM921 723h1v2h-1zM922 725h1v2h-1zM923 727h1v2h-1zM924 729h1v2h-1zM925 731h1v2h-1zM926 733h1v2h-1zM927 735h1v2h-1zM928 737h1v2h-1zM929 736h1v2h-1zM930 734h1v2h-1zM931 732h1v2h-1zM932 730h1v2h-1zM933 729h1v1h-1zM934 729h1v1h-1zM935 728h1v1h-1zM936 728h1v1h-1zM937 728h1v1h-1zM938 727h1v1h-1zM939 727h1v1h-1zM940 727h1v1h-1zM941 726h1v1h-1zM942 724h1v2h-1zM943 723h1v1h-1zM944 722h1v1h-1zM945 723h1v1h-1zM946 723h1v1h-1zM947 724h1v1h-1zM948 724h1v1h-1zM949 723h1v1h-1zM950 722h1v1h-1zM951 722h1v1h-1zM952 721h1v1h-1zM953 722h1v2h-1zM954 724h1v1h-1zM955 725h1v2h-1zM956 727h1v1h-1zM957 727h1v1h-1zM958 726h1v1h-1zM959 726h1v1h-1zM960 726h1v1h-1zM961 727h1v2h-1zM962 729h1v2h-1zM963 731h1v2h-1zM964 733h1v2h-1zM965 731h1v2h-1zM966 729h1v2h-1zM967 727h1v2h-1zM968 725h1v2h-1zM969 725h1v1h-1zM970 726h1v1h-1zM971 726h1v1h-1zM972 726h1v1h-1zM973 724h1v2h-1zM974 723h1v1h-1zM975 721h1v2h-1zM976 720h1v1h-1zM977 721h1v2h-1zM978 723h1v2h-1zM979 725h1v2h-1zM980 727h1v2h-1zM981 729h1v1h-1zM982 729h1v1h-1zM983 730h1v1h-1zM984 730h1v1h-1zM985 730h1v1h-1zM986 730h1v1h-1zM987 730h1v1h-1zM988 730h1v1h-1zM989 731h1v1h-1zM990 732h1v1h-1zM991 733h1v1h-1zM992 734h1v1h-1zM993 735h1v2h-1zM994 737h1v1h-1zM995 738h1v2h-1zM996 739h1v2h-1zM997 737h1v2h-1zM998 735h1v2h-1zM999 733h1v2h-1zM1000 731h1v2h-1zM1001 730h1v1h-1zM1002 729h1v1h-1zM1003 729h1v1h-1zM1004 728h1v1h-1zM1005 729h1v1h-1zM1006 730h1v1h-1zM1007 731h1v1h-1zM1008 732h1v1h-1zM1009 732h1v1h-1zM1010 732h1v1h-1zM1011 732h1v1h-1zM1012 731h1v2h-1zM1013 729h1v2h-1zM1014 726h1v3h-1zM1015 724h1v2h-1zM1016 722h1v2h-1zM1017 724h1v2h-1zM1018 726h1v2h-1zM1019 728h1v2h-1zM1020 730h1v2h-1zM1021 730h1v1h-1zM1022 728h1v2h-1zM1023 727h1v1h-1zM1024 726h1v1h-1zM1025 725h1v1h-1zM1026 725h1v1h-1zM1027 724h1v1h-1zM1028 724h1v1h-1zM1029 725h1v1h-1zM1030 726h1v2h-1zM1031 728h1v1h-1zM1032 729h1v1h-1zM1033 730h1v1h-1zM1034 731h1v1h-1zM1035 731h1v1h-1zM1036 732h1v1h-1zM1037 731h1v1h-1zM1038 730h1v1h-1zM1039 730h1v1h-1zM1040 729h1v1h-1zM1041 730h1v1h-1zM1042 731h1v2h-1zM1043 733h1v1h-1zM1044 734h1v1h-1zM1045 734h1v1h-1zM1046 733h1v1h-1zM1047 733h1v1h-1zM1048 733h1v1h-1zM1049 732h1v1h-1zM1050 730h1v2h-1zM1051 729h1v1h-1zM1052 728h1v1h-1zM1053 727h1v1h-1zM1054 727h1v1h-1zM1055 726h1v1h-1zM1056 726h1v1h-1zM1057 726h1v1h-1zM1058 725h1v1h-1zM1059 725h1v1h-1zM1060 725h1v1h-1zM1061 725h1v1h-1zM1062 726h1v1h-1zM1063 726h1v1h-1zM1064 726h1v1h-1zM1065 726h1v1h-1zM1066 725h1v1h-1zM1067 725h1v1h-1zM1068 725h1v2h-1zM1069 727h1v2h-1zM1070 729h1v2h-1zM1071 731h1v2h-1zM1072 733h1v3h-1zM1073 736h1v3h-1zM1074 739h1v3h-1zM1075 742h1v3h-1zM1076 745h1v2h-1zM1077 747h1v1h-1zM1078 748h1v1h-1zM1079 748h1v1h-1zM1080 749h1v1h-1zM1081 749h1v1h-1zM1082 750h1v1h-1zM1083 750h1v1h-1zM1084 750h1v1h-1zM1085 749h1v1h-1zM1086 748h1v1h-1zM1087 748h1v1h-1zM1088 747h1v1h-1zM1089 745h1v2h-1zM1090 743h1v2h-1zM1091 741h1v2h-1zM1092 740h1v1h-1zM1093 739h1v1h-1zM1094 738h1v1h-1zM1095 738h1v1h-1zM1096 737h1v1h-1zM1097 736h1v1h-1zM1098 735h1v1h-1zM1099 735h1v1h-1zM1100 734h1v1h-1zM1101 733h1v1h-1zM1102 731h1v2h-1zM1103 730h1v1h-1zM1104 729h1v1h-1zM1105 729h1v1h-1zM1106 730h1v1h-1zM1107 730h1v1h-1zM1108 730h1v1h-1zM1109 729h1v1h-1zM1110 729h1v1h-1zM1111 728h1v1h-1zM1112 728h1v1h-1zM1113 729h1v1h-1zM1114 730h1v1h-1zM1115 730h1v1h-1zM1116 731h1v2h-1zM1117 733h1v3h-1zM1118 736h1v2h-1zM1119 738h1v3h-1zM1120 741h1v2h-1zM1121 743h1v1h-1zM1122 744h1v2h-1zM1123 746h1v1h-1zM1124 747h1v1h-1zM1125 747h1v1h-1zM1126 747h1v1h-1zM1127 747h1v1h-1zM1128 747h1v1h-1z" fill="#1e90ff" shape-rendering="crispEdges"/>
</g>
<g shape-rendering="crispEdges">
<rect x="3" y="22" width="1417" height="1" fill="#000" />
<rect x="3" y="562" width="1417" height="1" fill="#000" />
<rect x="3" y="22" width="1" height="541" fill="#000" />
<rect x="1419" y="22" width="1" height="541" fill="#000" />
<rect x="3" y="564" width="1417" height="1" fill="#000" />
<rect x="3" y="668" width="1417" height="1" fill="#000" />
<rect x="3" y="564" width="1" height="105" fill="#000" />
<rect x="1419" y="564" width="1" height="105" fill="#000" />
<rect x="3" y="670" width="1417" height="1" fill="#000" />
<rect x="3" y="800" width="1417" height="1" fill="#000" />
<rect x="3" y="670" width="1" height="131" fill="#000" />
<rect x="1419" y="670" width="1" height="131" fill="#000" />
<rect x="3" y="198" width="7" height="7" fill="#ff0000" />
<rect x="6" y="201" width="1" height="1" fill="#fff" />
<rect x="1413" y="198" width="8" height="7" fill="#ff0000" />
<rect x="1416" y="201" width="1" height="1" fill="#fff" />
<rect x="3" y="294" width="7" height="7" fill="#00ff00" />
<rect x="6" y="297" width="1" height="1" fill="#fff" />
<rect x="1413" y="294" width="8" height="7" fill="#00ff00" />
<rect x="1416" y="297" width="1" height="1" fill="#fff" />
<rect x="1419" y="96" width="2" height="3" fill="#ff0000" />
<rect x="1419" y="200" width="2" height="3" fill="#ff0000" />
<rect x="1419" y="296" width="2" height="3" fill="#00ff00" />
<rect x="1419" y="425" width="2" height="3" fill="#0000ff" />
<rect x="1419" y="512" width="2" height="3" fill="#0000ff" />
<rect x="3" y="96" width="1" height="3" fill="#ff0000" />
<rect x="3" y="426" width="1" height="1" fill="#0000ff" />
<rect x="3" y="513" width="1" height="1" fill="#0000ff" />
<rect x="1420" y="31" width="2" height="1" fill="#000" />
<rect x="1420" y="64" width="2" height="1" fill="#000" />
<rect x="1420" y="97" width="2" height="1" fill="#000" />
<rect x="1420" y="130" width="2" height="1" fill="#000" />
<rect x="1420" y="163" width="2" height="1" fill="#000" />
<rect x="1420" y="196" width="2" height="1" fill="#000" />
<rect x="1420" y="229" width="2" height="1" fill="#000" />
<rect x="1420" y="262" width="2" height="1" fill="#000" />
<rect x="1420" y="295" width="2" height="1" fill="#000" />
<rect x="1420" y="328" width="2" height="1" fill="#000" />
<rect x="1420" y="361" width="2" height="1" fill="#000" />
<rect x="1420" y="394" width="2" height="1" fill="#000" />
<rect x="1420" y="427" width="2" height="1" fill="#000" />
<rect x="1420" y="460" width="2" height="1" fill="#000" />
<rect x="1420" y="493" width="2" height="1" fill="#000" />
<rect x="1420" y="526" width="2" height="1" fill="#000" />
<rect x="1420" y="559" width="2" height="1" fill="#000" />
</g>
<text x="1425.5" y="35.0" font-size="10.3" fill="#000" text-anchor="start" font-weight="normal" textLength="32.4" lengthAdjust="spacingAndGlyphs" >1.02570</text>
<text x="1425.5" y="68.0" font-size="10.3" fill="#000" text-anchor="start" font-weight="normal" textLength="32.4" lengthAdjust="spacingAndGlyphs" >1.02190</text>
<text x="1425.5" y="101.0" font-size="10.3" fill="#000" text-anchor="start" font-weight="normal" textLength="32.4" lengthAdjust="spacingAndGlyphs" >1.01810</text>
<text x="1425.5" y="134.0" font-size="10.3" fill="#000" text-anchor="start" font-weight="normal" textLength="32.4" lengthAdjust="spacingAndGlyphs" >1.01430</text>
<text x="1425.5" y="167.0" font-size="10.3" fill="#000" text-anchor="start" font-weight="normal" textLength="32.4" lengthAdjust="spacingAndGlyphs" >1.01050</text>
<text x="1425.5" y="200.0" font-size="10.3" fill="#000" text-anchor="start" font-weight="normal" textLength="32.4" lengthAdjust="spacingAndGlyphs" >1.00660</text>
<text x="1425.5" y="233.0" font-size="10.3" fill="#000" text-anchor="start" font-weight="normal" textLength="32.4" lengthAdjust="spacingAndGlyphs" >1.00280</text>
<text x="1425.5" y="266.0" font-size="10.3" fill="#000" text-anchor="start" font-weight="normal" textLength="32.4" lengthAdjust="spacingAndGlyphs" >0.99900</text>
<text x="1425.5" y="299.0" font-size="10.3" fill="#000" text-anchor="start" font-weight="normal" textLength="32.4" lengthAdjust="spacingAndGlyphs" >0.99520</text>
<text x="1425.5" y="332.0" font-size="10.3" fill="#000" text-anchor="start" font-weight="normal" textLength="32.4" lengthAdjust="spacingAndGlyphs" >0.99140</text>
<text x="1425.5" y="365.0" font-size="10.3" fill="#000" text-anchor="start" font-weight="normal" textLength="32.4" lengthAdjust="spacingAndGlyphs" >0.98760</text>
<text x="1425.5" y="398.0" font-size="10.3" fill="#000" text-anchor="start" font-weight="normal" textLength="32.4" lengthAdjust="spacingAndGlyphs" >0.98380</text>
<text x="1425.5" y="431.0" font-size="10.3" fill="#000" text-anchor="start" font-weight="normal" textLength="32.4" lengthAdjust="spacingAndGlyphs" >0.98000</text>
<text x="1425.5" y="464.0" font-size="10.3" fill="#000" text-anchor="start" font-weight="normal" textLength="32.4" lengthAdjust="spacingAndGlyphs" >0.97610</text>
<text x="1425.5" y="497.0" font-size="10.3" fill="#000" text-anchor="start" font-weight="normal" textLength="32.4" lengthAdjust="spacingAndGlyphs" >0.97230</text>
<text x="1425.5" y="530.0" font-size="10.3" fill="#000" text-anchor="start" font-weight="normal" textLength="32.4" lengthAdjust="spacingAndGlyphs" >0.96850</text>
<text x="1425.5" y="563.0" font-size="10.3" fill="#000" text-anchor="start" font-weight="normal" textLength="32.4" lengthAdjust="spacingAndGlyphs" >0.96470</text>
<g shape-rendering="crispEdges">
<rect x="1420" y="566" width="1" height="1" fill="#000" />
<rect x="1420" y="611" width="2" height="1" fill="#000" />
<rect x="1420" y="667" width="1" height="1" fill="#000" />
<rect x="1420" y="672" width="1" height="1" fill="#000" />
<rect x="1420" y="799" width="1" height="1" fill="#000" />
</g>
<text x="1423.5" y="575.2" font-size="10.3" fill="#000" text-anchor="start" font-weight="normal" textLength="32.4" lengthAdjust="spacingAndGlyphs" >0.00613</text>
<text x="1423.5" y="615" font-size="10.3" fill="#000" text-anchor="start" font-weight="normal" textLength="17.5" lengthAdjust="spacingAndGlyphs" >0.00</text>
<text x="1423.5" y="665.2" font-size="10.3" fill="#000" text-anchor="start" font-weight="normal" textLength="41" lengthAdjust="spacingAndGlyphs" >-0.007612</text>
<text x="1423.5" y="681.1" font-size="10.3" fill="#000" text-anchor="start" font-weight="normal" textLength="14.6" lengthAdjust="spacingAndGlyphs" >100</text>
<text x="1423.5" y="714" font-size="10.3" fill="#000" text-anchor="start" font-weight="normal" textLength="9.6" lengthAdjust="spacingAndGlyphs" >70</text>
<text x="1423.5" y="765" font-size="10.3" fill="#000" text-anchor="start" font-weight="normal" textLength="9.6" lengthAdjust="spacingAndGlyphs" >30</text>
<text x="1423.5" y="797" font-size="10.3" fill="#000" text-anchor="start" font-weight="normal" textLength="4.6" lengthAdjust="spacingAndGlyphs" >0</text>
<g shape-rendering="crispEdges">
<rect x="1421" y="91" width="41" height="11" fill="#ff0000" />
</g>
<text x="1425.5" y="100.0" font-size="10.3" fill="#fff" text-anchor="start" font-weight="normal" textLength="32.4" lengthAdjust="spacingAndGlyphs" >1.01806</text>
<g shape-rendering="crispEdges">
<rect x="1421" y="195" width="41" height="11" fill="#ff0000" />
</g>
<text x="1425.5" y="204.0" font-size="10.3" fill="#fff" text-anchor="start" font-weight="normal" textLength="32.4" lengthAdjust="spacingAndGlyphs" >1.00603</text>
<g shape-rendering="crispEdges">
<rect x="1421" y="291" width="41" height="11" fill="#00ff00" />
</g>
<text x="1425.5" y="300.0" font-size="10.3" fill="#fff" text-anchor="start" font-weight="normal" textLength="32.4" lengthAdjust="spacingAndGlyphs" >0.99501</text>
<g shape-rendering="crispEdges">
<rect x="1421" y="369" width="41" height="11" fill="#000" />
</g>
<text x="1425.5" y="378.0" font-size="10.3" fill="#fff" text-anchor="start" font-weight="normal" textLength="32.4" lengthAdjust="spacingAndGlyphs" >0.98608</text>
<g shape-rendering="crispEdges">
<rect x="1421" y="420" width="41" height="11" fill="#0000ff" />
</g>
<text x="1425.5" y="429.0" font-size="10.3" fill="#fff" text-anchor="start" font-weight="normal" textLength="32.4" lengthAdjust="spacingAndGlyphs" >0.98004</text>
<g shape-rendering="crispEdges">
<rect x="1421" y="507" width="41" height="11" fill="#0000ff" />
</g>
<text x="1425.5" y="516.0" font-size="10.3" fill="#fff" text-anchor="start" font-weight="normal" textLength="32.4" lengthAdjust="spacingAndGlyphs" >0.97003</text>
<path d="M1130,23 L1139.5,23 L1134.75,28.2 Z" fill="#c0c0c0"/>
<path d="M7,33 L14,33 L10.5,28.6 Z" fill="#000"/>
<text x="19.3" y="34.3" font-size="9.9" fill="#000" text-anchor="start" font-weight="normal" textLength="67.3" lengthAdjust="spacingAndGlyphs" >USDCHF-,Daily</text>
<text x="92.8" y="34.3" font-size="10.1" fill="#000" text-anchor="start" font-weight="normal" textLength="141.2" lengthAdjust="spacingAndGlyphs" >0.98640 0.98686 0.98603 0.98608</text>
<text x="8" y="577.2" font-size="10.2" fill="#000" text-anchor="start" font-weight="normal" textLength="154" lengthAdjust="spacingAndGlyphs" >MACD(12,26,9) -0.000819 -0.000295</text>
<text x="8" y="683.2" font-size="10.2" fill="#000" text-anchor="start" font-weight="normal" textLength="68" lengthAdjust="spacingAndGlyphs" >RSI(14) 40.4109</text>
<text x="6.6" y="10" font-size="10.2" fill="#222" text-anchor="start" font-weight="normal" textLength="12.4" lengthAdjust="spacingAndGlyphs" >H4</text>
<text x="35.7" y="10" font-size="10.2" fill="#222" text-anchor="start" font-weight="normal" textLength="11.3" lengthAdjust="spacingAndGlyphs" >D1</text>
<text x="63" y="10" font-size="10.2" fill="#222" text-anchor="start" font-weight="normal" textLength="14.2" lengthAdjust="spacingAndGlyphs" >W1</text>
<text x="89.7" y="10" font-size="10.2" fill="#222" text-anchor="start" font-weight="normal" textLength="14.6" lengthAdjust="spacingAndGlyphs" >MN</text>
<g shape-rendering="crispEdges">
<rect x="4" y="40" width="224" height="67" fill="#fff" />
<path d="M7.5,42.5 H58.5 V66.5 H115.5 V105.5 H7.5 Z" fill="url(#gb)" stroke="#1c1cc4" stroke-width="1"/>
<path d="M225.5,42.5 H174.5 V66.5 H118.5 V105.5 H225.5 Z" fill="url(#gb)" stroke="#1c1cc4" stroke-width="1"/>
<rect x="11" y="66" width="45" height="1" fill="#9a9ae6" />
<rect x="178" y="66" width="45" height="1" fill="#9a9ae6" />
<rect x="116" y="66" width="2" height="40" fill="#e8e8ff" />
<rect x="61" y="42" width="111" height="22" fill="#a8a8a8" />
<rect x="62" y="43" width="109" height="20" fill="#fff" />
<rect x="62" y="43" width="20" height="20" fill="url(#gs)" />
<rect x="82" y="43" width="1" height="20" fill="#a8a8a8" />
<rect x="150" y="43" width="1" height="20" fill="#a8a8a8" />
<rect x="151" y="43" width="20" height="20" fill="url(#gs)" />
</g>
<path d="M69,51.3 L74.4,51.3 L71.7,54.2 Z" fill="#6277cc"/>
<path d="M158,54 L163.4,54 L160.7,51.1 Z" fill="#6277cc"/>
<text x="146.6" y="57" font-size="12" fill="#000" text-anchor="end" font-weight="normal" textLength="22.8" lengthAdjust="spacingAndGlyphs" >1.00</text>
<text x="19.7" y="57.9" font-size="12.2" fill="#fff" text-anchor="start" font-weight="normal" textLength="25.4" lengthAdjust="spacingAndGlyphs" >SELL</text>
<text x="187.6" y="57.9" font-size="12.2" fill="#fff" text-anchor="start" font-weight="normal" textLength="23.2" lengthAdjust="spacingAndGlyphs" >BUY</text>
<text x="26.7" y="96.9" font-size="12" fill="#fff" text-anchor="start" font-weight="bold" textLength="24.4" lengthAdjust="spacingAndGlyphs" >0.98</text>
<text x="136.7" y="96.9" font-size="12" fill="#fff" text-anchor="start" font-weight="bold" textLength="24.4" lengthAdjust="spacingAndGlyphs" >0.98</text>
<text x="54.0" y="97.2" font-size="35.7" fill="#fff" text-anchor="start" font-weight="normal" textLength="36.6" lengthAdjust="spacingAndGlyphs" stroke="url(#gb)" stroke-width="0.7">60</text>
<text x="165.0" y="97.2" font-size="35.7" fill="#fff" text-anchor="start" font-weight="normal" textLength="36.6" lengthAdjust="spacingAndGlyphs" stroke="url(#gb)" stroke-width="0.7">63</text>
<text x="94.0" y="81.1" font-size="11.6" fill="#fff" text-anchor="start" font-weight="bold" textLength="7.4" lengthAdjust="spacingAndGlyphs" >8</text>
<text x="205.0" y="81.1" font-size="11.6" fill="#fff" text-anchor="start" font-weight="bold" textLength="7.4" lengthAdjust="spacingAndGlyphs" >0</text>
<g shape-rendering="crispEdges">
<rect x="4" y="801" width="1" height="2" fill="#000" />
<rect x="68" y="801" width="1" height="2" fill="#000" />
<rect x="132" y="801" width="1" height="2" fill="#000" />
<rect x="196" y="801" width="1" height="2" fill="#000" />
<rect x="260" y="801" width="1" height="2" fill="#000" />
<rect x="324" y="801" width="1" height="2" fill="#000" />
<rect x="388" y="801" width="1" height="2" fill="#000" />
<rect x="452" y="801" width="1" height="2" fill="#000" />
<rect x="516" y="801" width="1" height="2" fill="#000" />
<rect x="580" y="801" width="1" height="2" fill="#000" />
<rect x="644" y="801" width="1" height="2" fill="#000" />
<rect x="708" y="801" width="1" height="2" fill="#000" />
<rect x="772" y="801" width="1" height="2" fill="#000" />
<rect x="836" y="801" width="1" height="2" fill="#000" />
<rect x="900" y="801" width="1" height="2" fill="#000" />
<rect x="964" y="801" width="1" height="2" fill="#000" />
<rect x="1028" y="801" width="1" height="2" fill="#000" />
<rect x="1092" y="801" width="1" height="2" fill="#000" />
</g>
<text x="3.6" y="813.5" font-size="10.2" fill="#000" text-anchor="start" font-weight="normal" textLength="46.5" lengthAdjust="spacingAndGlyphs" >7 Dec 2018</text>
<text x="67.6" y="813.5" font-size="10.2" fill="#000" text-anchor="start" font-weight="normal" textLength="51.3" lengthAdjust="spacingAndGlyphs" >26 Dec 2018</text>
<text x="131.6" y="813.5" font-size="10.2" fill="#000" text-anchor="start" font-weight="normal" textLength="49.0" lengthAdjust="spacingAndGlyphs" >14 Jan 2019</text>
<text x="195.6" y="813.5" font-size="10.2" fill="#000" text-anchor="start" font-weight="normal" textLength="46.2" lengthAdjust="spacingAndGlyphs" >1 Feb 2019</text>
<text x="259.6" y="813.5" font-size="10.2" fill="#000" text-anchor="start" font-weight="normal" textLength="50.6" lengthAdjust="spacingAndGlyphs" >20 Feb 2019</text>
<text x="323.6" y="813.5" font-size="10.2" fill="#000" text-anchor="start" font-weight="normal" textLength="51.0" lengthAdjust="spacingAndGlyphs" >11 Mar 2019</text>
<text x="387.6" y="813.5" font-size="10.2" fill="#000" text-anchor="start" font-weight="normal" textLength="51.3" lengthAdjust="spacingAndGlyphs" >29 Mar 2019</text>
<text x="451.6" y="813.5" font-size="10.2" fill="#000" text-anchor="start" font-weight="normal" textLength="50.0" lengthAdjust="spacingAndGlyphs" >17 Apr 2019</text>
<text x="515.6" y="813.5" font-size="10.2" fill="#000" text-anchor="start" font-weight="normal" textLength="49.6" lengthAdjust="spacingAndGlyphs" >7 May 2019</text>
<text x="579.6" y="813.5" font-size="10.2" fill="#000" text-anchor="start" font-weight="normal" textLength="54.0" lengthAdjust="spacingAndGlyphs" >26 May 2019</text>
<text x="643.6" y="813.5" font-size="10.2" fill="#000" text-anchor="start" font-weight="normal" textLength="49.6" lengthAdjust="spacingAndGlyphs" >13 Jun 2019</text>
<text x="707.6" y="813.5" font-size="10.2" fill="#000" text-anchor="start" font-weight="normal" textLength="41.0" lengthAdjust="spacingAndGlyphs" >2 Jul 2019</text>
<text x="771.6" y="813.5" font-size="10.2" fill="#000" text-anchor="start" font-weight="normal" textLength="46.2" lengthAdjust="spacingAndGlyphs" >21 Jul 2019</text>
<text x="835.6" y="813.5" font-size="10.2" fill="#000" text-anchor="start" font-weight="normal" textLength="47.2" lengthAdjust="spacingAndGlyphs" >8 Aug 2019</text>
<text x="899.6" y="813.5" font-size="10.2" fill="#000" text-anchor="start" font-weight="normal" textLength="52.7" lengthAdjust="spacingAndGlyphs" >27 Aug 2019</text>
<text x="963.6" y="813.5" font-size="10.2" fill="#000" text-anchor="start" font-weight="normal" textLength="50.8" lengthAdjust="spacingAndGlyphs" >15 Sep 2019</text>
<text x="1027.6" y="813.5" font-size="10.2" fill="#000" text-anchor="start" font-weight="normal" textLength="46.4" lengthAdjust="spacingAndGlyphs" >3 Oct 2019</text>
<text x="1091.6" y="813.5" font-size="10.2" fill="#000" text-anchor="start" font-weight="normal" textLength="50.5" lengthAdjust="spacingAndGlyphs" >22 Oct 2019</text>
<g shape-rendering="crispEdges">
<rect x="0" y="821" width="1462" height="1" fill="#dcdcdc" />
<rect x="0" y="822" width="1462" height="1" fill="#f4f4f4" />
<rect x="0" y="824" width="1462" height="20" fill="#f0f0f0" />
<rect x="0" y="823" width="1462" height="1" fill="#000" />
<rect x="1" y="824" width="1" height="18" fill="#404040" />
<rect x="0" y="824" width="1" height="20" fill="#f0f0f0" />
<rect x="221" y="823" width="108" height="19" fill="#fff" />
<rect x="221" y="823" width="1" height="19" fill="#000" />
<rect x="328" y="823" width="1" height="19" fill="#000" />
<rect x="221" y="841" width="108" height="1" fill="#000" />
<rect x="222" y="842" width="108" height="1" fill="#a0a0a0" />
<rect x="329" y="824" width="1" height="19" fill="#a0a0a0" />
<rect x="222" y="821" width="106" height="3" fill="#fff" />
<rect x="222" y="821" width="106" height="1" fill="#e4e4e4" />
<rect x="113" y="826" width="1" height="14" fill="#808080" />
<rect x="437" y="826" width="1" height="14" fill="#808080" />
<rect x="549" y="826" width="1" height="14" fill="#808080" />
<rect x="669" y="826" width="1" height="14" fill="#808080" />
<rect x="793" y="826" width="1" height="14" fill="#808080" />
<rect x="889" y="826" width="1" height="14" fill="#808080" />
<rect x="969" y="826" width="1" height="14" fill="#808080" />
<rect x="1073" y="826" width="1" height="14" fill="#808080" />
<rect x="1165" y="826" width="1" height="14" fill="#808080" />
<rect x="1245" y="826" width="1" height="14" fill="#808080" />
</g>
<text x="16.4" y="837.6" font-size="12.3" fill="#6e6e6e" text-anchor="start" font-weight="normal" textLength="84.1" lengthAdjust="spacingAndGlyphs" >EURUSD-,Daily</text>
<text x="123.2" y="837.6" font-size="12.3" fill="#6e6e6e" text-anchor="start" font-weight="normal" textLength="87" lengthAdjust="spacingAndGlyphs" >AUDUSD-,Daily</text>
<text x="340.3" y="837.6" font-size="12.3" fill="#6e6e6e" text-anchor="start" font-weight="normal" textLength="85.5" lengthAdjust="spacingAndGlyphs" >USDCAD-,Daily</text>
<text x="449" y="837.6" font-size="12.3" fill="#6e6e6e" text-anchor="start" font-weight="normal" textLength="88" lengthAdjust="spacingAndGlyphs" >USDCNH-,Daily</text>
<text x="559.8" y="837.6" font-size="12.3" fill="#6e6e6e" text-anchor="start" font-weight="normal" textLength="96.8" lengthAdjust="spacingAndGlyphs" >EURCHF-,Weekly</text>
<text x="680.6" y="837.6" font-size="12.3" fill="#6e6e6e" text-anchor="start" font-weight="normal" textLength="100.5" lengthAdjust="spacingAndGlyphs" >XAUUSD-,Weekly</text>
<text x="803.7" y="837.6" font-size="12.3" fill="#6e6e6e" text-anchor="start" font-weight="normal" textLength="72.5" lengthAdjust="spacingAndGlyphs" >GBPUSD-,H1</text>
<text x="899.5" y="837.6" font-size="12.3" fill="#6e6e6e" text-anchor="start" font-weight="normal" textLength="57.1" lengthAdjust="spacingAndGlyphs" >UKOil-,H1</text>
<text x="978.8" y="837.6" font-size="12.3" fill="#6e6e6e" text-anchor="start" font-weight="normal" textLength="83.4" lengthAdjust="spacingAndGlyphs" >USDX-,Weekly</text>
<text x="1082.8" y="837.6" font-size="12.3" fill="#6e6e6e" text-anchor="start" font-weight="normal" textLength="71.1" lengthAdjust="spacingAndGlyphs" >EURCHF-,H1</text>
<text x="1176.9" y="837.6" font-size="12.3" fill="#6e6e6e" text-anchor="start" font-weight="normal" textLength="56" lengthAdjust="spacingAndGlyphs" >USOil-,H1</text>
<text x="233.4" y="837.6" font-size="12.3" fill="#000" text-anchor="start" font-weight="normal" textLength="83.4" lengthAdjust="spacingAndGlyphs" >USDCHF-,Daily</text>
<path d="M1438.5,827.5 L1438.5,836.5 L1434,832 Z" fill="#a0a0a0"/>
<path d="M1453.5,827.5 L1453.5,836.5 L1458,832 Z" fill="#a0a0a0"/>
</svg></body></html>
